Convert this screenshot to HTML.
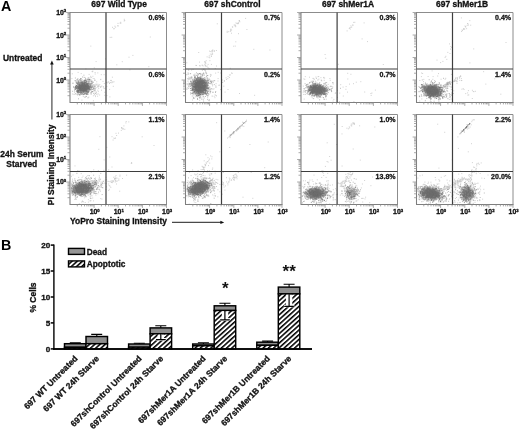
<!DOCTYPE html>
<html><head><meta charset="utf-8"><title>Figure</title>
<style>html,body{margin:0;padding:0;background:#fff}body{width:520px;height:429px;overflow:hidden}svg{display:block;filter:grayscale(1)}text{font-family:"Liberation Sans", sans-serif;font-weight:bold;fill:#111}.t{font-size:8.45px;stroke:#111;stroke-width:.3px}.pc{font-size:7.05px;fill:#161616;stroke:#161616;stroke-width:.3px}.tk{font-size:6.9px;fill:#111;stroke:#111;stroke-width:.3px}.big{font-size:14.3px;fill:#000}.xl{font-size:8.5px;stroke:#111;stroke-width:.3px}.lg{font-size:8.3px;stroke:#111;stroke-width:.3px}</style></head><body>
<svg width="520" height="429" viewBox="0 0 520 429">
<defs>
<radialGradient id="rg"><stop offset="0" stop-color="#5e5e5e" stop-opacity="1"/><stop offset=".45" stop-color="#5e5e5e" stop-opacity=".92"/><stop offset=".75" stop-color="#5e5e5e" stop-opacity=".4"/><stop offset="1" stop-color="#5e5e5e" stop-opacity="0"/></radialGradient>
<pattern id="hat" width="3.5" height="3.5" patternUnits="userSpaceOnUse" patternTransform="rotate(-42)"><rect width="3.5" height="3.5" fill="#fff"/><rect width="3.5" height="1.55" fill="#000"/></pattern>
</defs>
<rect width="520" height="429" fill="#fff"/>
<text x="0.9" y="10.7" class="big">A</text>
<text x="0.9" y="249.7" class="big">B</text>
<text x="119.1" y="7.2" text-anchor="middle" class="t">697 Wild Type</text>
<text x="232.5" y="7.2" text-anchor="middle" class="t">697 shControl</text>
<text x="348" y="7.2" text-anchor="middle" class="t">697 shMer1A</text>
<text x="462.1" y="7.2" text-anchor="middle" class="t">697 shMer1B</text>
<text x="22.7" y="60.6" text-anchor="middle" class="t">Untreated</text>
<text x="21.9" y="156.8" text-anchor="middle" class="t">24h Serum</text>
<text x="21.8" y="167.2" text-anchor="middle" class="t">Starved</text>
<text transform="translate(53.6 205.2) rotate(-90)" class="t">PI Staining Intensity</text>
<path d="M51.9 119.5V63" stroke="#4a4a4a" stroke-width="1.2" fill="none"/>
<path d="M51.9 60.6L50.1 64.6H53.7Z" fill="#111"/>
<text x="70" y="224.4" class="t">YoPro Staining Intensity</text>
<path d="M172 222.4H221.5" stroke="#4a4a4a" stroke-width="1.2" fill="none"/>
<path d="M224.2 222.4L220.4 220.7V224.1Z" fill="#111"/>
<ellipse cx="83.3" cy="87.5" rx="8.3" ry="6.6" transform="rotate(-8 83.3 87.5)" fill="url(#rg)" opacity="1.0"/>
<path d="M87.1 84.4h.01M99.8 84.6h.01M88.6 82.6h.01M83.9 96.6h.01M97.6 96.2h.01M84.6 86h.01M81.1 93.2h.01M76.4 91h.01M98.2 93.9h.01M80.7 94.1h.01M80.8 81h.01M77.5 95h.01M100.8 79.3h.01M80.8 84h.01M109.6 89.4h.01M81.2 73.6h.01M83 94.5h.01M103 81.4h.01M81.2 82.7h.01M72.6 94h.01M79.4 94.1h.01M71.9 78.6h.01M89.2 79.8h.01M94.1 84.6h.01M78.3 91.1h.01M92.8 71.1h.01M103.4 86.7h.01M92.1 71.6h.01M81.2 83.8h.01M95.2 74h.01M78.1 72.4h.01M85.9 88.1h.01M72.8 83.3h.01M93.4 95.8h.01M92.8 82.5h.01M76.7 80.3h.01M82.1 87.2h.01M88.8 97.1h.01M88.9 77.6h.01M101.5 90.2h.01M87.7 80.3h.01M94.4 78.8h.01M76.6 88.3h.01M90.2 89.3h.01M94.4 94.4h.01M81.4 93.2h.01M79.9 91.4h.01M89.3 86.9h.01M95.7 84.2h.01M97.8 90.2h.01M88.1 81.3h.01M80.7 82.6h.01M85.8 85.5h.01M113.3 86.3h.01M93.2 78.5h.01M81.3 84h.01M88.2 78h.01M100.6 79.6h.01M94.3 67.9h.01M87.8 87.4h.01M89.7 89.4h.01M90.1 86.2h.01M89.9 83.7h.01M80.1 82.3h.01M104.8 95.3h.01M88.3 94.4h.01M72.3 73.8h.01M82.6 79.9h.01M83 87.4h.01M112.4 77.2h.01M88.2 87.3h.01M88.2 91.9h.01M101.3 74.7h.01M88.7 83.4h.01M89.1 74.4h.01M92.2 86.1h.01M85.9 68.9h.01M83.7 80.6h.01M74.8 80.7h.01M94 88.4h.01M87.9 89h.01M82.5 86.6h.01M88.4 89.2h.01M86.8 84.5h.01M85.8 81.1h.01M106.9 86.4h.01M93.4 100.8h.01M97.8 72.9h.01M94.2 90.4h.01M104.7 92.3h.01M92.9 76.3h.01M80.5 88.3h.01M90.8 77.7h.01M83.9 83.1h.01M88.4 87.7h.01M83.9 77.2h.01M99.6 95h.01M87.7 92.7h.01M91.9 89.5h.01M90.9 79.5h.01M93.4 91.8h.01M81.9 100.1h.01M106.9 95.6h.01M105 88.2h.01M84.1 81.6h.01M80.8 87.2h.01M87.9 90.1h.01M106.7 82.5h.01M93.7 87.9h.01M89.6 83.6h.01M85.7 79.8h.01M89 85h.01M89.4 79.1h.01M87.9 85.7h.01M91.6 77.3h.01M92 91.8h.01M92.2 82.2h.01M83.2 84.4h.01M95.2 95.4h.01M85.6 81.1h.01M90.9 86.4h.01M79.2 81.4h.01M87.4 90.2h.01M76.5 79.8h.01M90.6 76.3h.01M88.8 87.7h.01M85.6 78.5h.01M86.7 83.2h.01M89.6 79.2h.01M95.1 72.5h.01M86.1 85.7h.01M95 80.1h.01M91.6 80.8h.01M95.5 96.6h.01M84.6 89h.01M80.7 93.3h.01M97.8 84.2h.01M78.4 89.6h.01M98.3 91.6h.01M92.6 71.7h.01M83.2 96.1h.01M78.3 94.7h.01M104.1 88.5h.01M96.7 81.8h.01M77.1 86.2h.01M98.7 88.4h.01M94.7 86.5h.01M94.2 86.8h.01M101.8 86h.01M92.5 87.6h.01M94.4 87.1h.01M92.1 85.3h.01M98.2 85.1h.01M100.6 87.3h.01M100.7 86.9h.01M92.6 87.2h.01M98.1 86.7h.01M95.4 86.9h.01M93.7 87h.01M99.1 86.2h.01M98.8 85.4h.01M101 86.6h.01M103.4 87.1h.01M96.5 84.3h.01M98.4 86.8h.01M96.9 87.6h.01M96 85.4h.01M109.6 83.3h.01M104.3 83.5h.01M111 80.3h.01M111 80.6h.01M111.8 82.8h.01M114 81.8h.01M109.5 83.4h.01M108.2 81.7h.01M108.8 82.3h.01M107.3 82.9h.01M110.6 82.5h.01M112.9 82.1h.01M112.1 81.9h.01M111 80.5h.01M124.2 21h.01M115.6 27.2h.01M120.7 22.3h.01M124.7 20.5h.01M120.1 23.1h.01M118.3 25.9h.01M124.3 19.3h.01M120.8 23.3h.01M112.5 27.3h.01M118 23.4h.01M114.9 26.2h.01M114.1 28.4h.01M113.9 28.9h.01M117.6 25.8h.01M110.2 37.4h.01M96.1 61.6h.01M148.8 66.7h.01M129.9 69.9h.01M104.1 74.7h.01M122.3 61.7h.01M132.9 55.4h.01M111.7 37.3h.01M105.5 58.9h.01M116.8 64.8h.01M90.8 46.1h.01M150.3 37h.01M129 57.2h.01M109.9 96.9h.01" stroke="#c6c6c6" stroke-width="0.8" stroke-linecap="square" fill="none"/>
<path d="M86.3 92.6h.01M81.1 86.1h.01M79.6 84.4h.01M93.8 93.5h.01M84.9 89.6h.01M91.2 89.7h.01M90.1 80.9h.01M81.2 89.6h.01M92.2 86.5h.01M79.6 86.3h.01M80.3 84h.01M92.1 83.4h.01M85.8 96.4h.01M91 87.7h.01M81.4 89.4h.01M93.5 88.6h.01M91.3 86.6h.01M87.1 85.9h.01M87.5 92.4h.01M76.7 88h.01M85.4 84.5h.01M83.2 90.8h.01M95.6 88.3h.01M85.2 80.3h.01M94.8 86h.01M83.5 82.4h.01M83.4 82.5h.01M85.1 89.1h.01M84.7 88.3h.01M80.7 93.9h.01M79.8 79.9h.01M82.9 84h.01M78.7 86.4h.01M85.3 81.9h.01M84.5 93.4h.01M88 86h.01M85 86.6h.01M84.6 90.3h.01M82.5 77h.01M83.7 83.4h.01M87.5 84.1h.01M86.5 96.4h.01M78.1 83.2h.01M75.4 78h.01M74.5 90.2h.01M79.8 79.7h.01M76.8 90.9h.01M80 86.2h.01M87 92.7h.01M95.5 90.1h.01M85.3 87.8h.01M95 91.9h.01M83 89.4h.01M86 87.2h.01M80.9 81.9h.01M80.6 81h.01M91.3 88.5h.01M78.7 94.1h.01M88.1 78.3h.01M94.8 89.2h.01M94.8 80.3h.01M87.5 88.6h.01M85.6 87.7h.01M89.2 80h.01M76.9 82.1h.01M81 85h.01M86.5 88h.01M84.2 84.3h.01M82.6 91.6h.01M88.6 87h.01M83.6 94.1h.01M81.6 90.4h.01M90.5 85.2h.01M88.2 81.8h.01M90 87.3h.01M76.3 91.2h.01M80.4 93.3h.01M80.6 87h.01M85.7 85.5h.01M85.5 84.6h.01M88 86.7h.01M83.9 75.2h.01M90.7 86.4h.01M74.9 88.9h.01M87.6 91.4h.01M79.5 94.6h.01M85 97.5h.01M84 90.2h.01M81.8 82.7h.01M90.9 90.2h.01M93.2 89.7h.01M80.3 80.5h.01M80.5 84.8h.01M80.4 90.3h.01M86 85.8h.01M85.2 86.4h.01M86 90.2h.01M89.2 83.5h.01M77.1 94.4h.01M85.7 91.8h.01M75.4 87h.01M83.7 81h.01M82.1 90.7h.01M91.2 93.2h.01M78.9 81.8h.01M87.8 90.8h.01M84.7 81.5h.01M89.1 90h.01M87.1 84.7h.01M86.5 90.3h.01M80.3 79.7h.01M86.5 89h.01M85 91h.01M81.2 87.3h.01M83.1 89.8h.01M92.8 84.9h.01M96.4 92.2h.01M89 89.1h.01M93.8 85.1h.01M83.2 82.7h.01M87.8 92.6h.01M87.5 88.6h.01M83.4 88h.01M77.4 92.7h.01M81.5 82.8h.01M79.9 84.2h.01M89.6 91h.01M77.6 92.2h.01M88.8 84h.01M75.9 85.1h.01M81.2 89.1h.01M81.3 78.8h.01M84.7 80.4h.01M88.6 81.3h.01M80.2 84h.01M82.3 93.1h.01M89.4 89.1h.01M85.2 80.3h.01M81.3 85.2h.01M79.4 90.1h.01M80 84.7h.01M77.5 79.2h.01M88.4 92.4h.01M84.8 82.9h.01M91.1 87.5h.01M90.3 92.8h.01M90.2 84.4h.01M90.5 89.7h.01M75.9 86.6h.01M76.7 87.8h.01M86.9 82.2h.01M74.1 94.3h.01M87.3 93.2h.01M77.9 92.7h.01M96.8 94.2h.01M83.4 88.5h.01M84.2 91.6h.01M90 86.8h.01M77.5 91.4h.01M82.2 90.2h.01M86.8 93.9h.01M90.3 84.4h.01M87.3 94.5h.01M81.8 89.4h.01M91.6 91.6h.01M86.4 81.1h.01M77.8 89.2h.01M88 97.8h.01M80.4 92.7h.01M87.5 79.4h.01M80.1 88.5h.01M81.6 86.9h.01M86.4 83.4h.01M86.5 84.1h.01M81.8 89.9h.01M81.5 88.8h.01M93 86.1h.01M84.1 90.4h.01M83.1 92.1h.01M77.9 90.8h.01M81.2 84.1h.01M93.4 82.2h.01M94.3 88.7h.01M91.6 81.9h.01M91.7 92.5h.01M83.7 86.7h.01M97.7 86.1h.01M81.7 84.8h.01M87 88.2h.01M86.4 94.4h.01M82.9 89.4h.01M91.7 81.8h.01M91.1 94.2h.01M76.4 83.5h.01M77.7 80.1h.01M85.7 78.9h.01M88 93h.01M75.5 87h.01M74.5 92h.01M80.3 86.6h.01M85 89.5h.01M82.5 87.5h.01M81.5 88.1h.01M78.1 88.3h.01M73.7 86.5h.01M94.8 86.1h.01M77.8 89.2h.01M78.2 80.8h.01M80.9 90.9h.01M86.4 86.5h.01M78.8 83.3h.01M91.8 87.2h.01M78 78.9h.01M78.5 98.8h.01M78.2 87.7h.01M85.4 86.3h.01M82.1 81.5h.01M79.8 95.2h.01M80.8 91.4h.01M75.1 87.3h.01M86.4 91.4h.01M78.7 90.6h.01M86 83.7h.01M86.4 83h.01M80.1 87.7h.01M78.1 81.7h.01M82.6 90.8h.01M83 92.9h.01M77.4 82.4h.01M93 87.7h.01M89 82.9h.01M88.9 87.7h.01M87.9 86.8h.01M90.5 83.5h.01M78.3 81.6h.01M90.2 83.1h.01M78.2 83.9h.01M81.2 82.1h.01M82.5 84.7h.01M80.9 83.5h.01M84.3 85.2h.01M85.2 88.1h.01M84.9 77.5h.01M81 84.2h.01M87.6 79.8h.01M80.4 86.5h.01M83.2 91.7h.01M82.6 91.6h.01M75.4 80.5h.01M91.2 88.1h.01M87.1 87.3h.01M86.3 81.6h.01M89.2 84.2h.01M89.8 86.8h.01M73 83.2h.01M90.4 85.7h.01M82.4 88.5h.01M81.8 85.2h.01M85 87.7h.01M92.6 86.2h.01M95.6 93.5h.01M94.3 90.4h.01M85.2 87.7h.01M83.2 84.2h.01M83.7 84.5h.01M93.6 88.2h.01M80.8 79.3h.01M83.9 85.4h.01M77.9 83.1h.01M72.6 91.3h.01" stroke="#9c9c9c" stroke-width="0.66" stroke-linecap="square" fill="none"/>
<path d="M82.6 89h.01M82.4 86.8h.01M80.1 87.4h.01M87.2 88.1h.01M86.9 87.7h.01M84.7 87.8h.01M78 90.6h.01M85.2 88.6h.01M77 83.6h.01M80.1 86.7h.01M84.3 87.2h.01M84.8 85.5h.01M84.5 88.4h.01M81.7 92.4h.01M85.6 90.4h.01M80.9 85.8h.01M82.1 87.4h.01M85.5 87.9h.01M81.4 85.2h.01M82 91h.01M80.7 88.5h.01M84.2 83.3h.01M84 91h.01M76.4 87.6h.01M82.6 85.4h.01M85 87.1h.01M78.7 90.4h.01M85.9 89.7h.01M88.3 87.8h.01M83.2 84h.01M85.1 85.6h.01M81.3 84.3h.01M79.8 86.5h.01M86.9 81.5h.01M78.5 88.8h.01M88.4 88.4h.01M76 81.7h.01M84.2 85.4h.01M79.9 90.6h.01M87.1 87.4h.01M84.3 88.5h.01M88.9 88.4h.01M85.3 88.7h.01M78.5 91.7h.01M86.7 88.5h.01M76.4 86.7h.01M85.5 82.3h.01M83.1 90.3h.01M79.5 92.4h.01M85.1 86.8h.01M84.6 89.1h.01M84.1 90.5h.01M80.9 86.7h.01M86.8 87.1h.01M80.7 90.4h.01M88.1 85.6h.01M78.6 87.8h.01M82.7 86.8h.01M87.6 84.1h.01M87.1 83.5h.01M80.9 89.6h.01M87.4 89.3h.01M84.5 87.7h.01M84 89h.01M82.8 88.3h.01M85.2 87.2h.01M86.1 88.7h.01M90.2 87.4h.01M81.7 86.7h.01M83.6 90h.01M82.3 88.7h.01M88.5 79.8h.01M79.6 88.7h.01M84.7 87.9h.01M82.1 89.5h.01M84.1 86h.01M91.6 87.3h.01M81.4 87.5h.01M82.5 87.4h.01M73.9 87.5h.01M86.3 83.9h.01M83.4 90.1h.01M86.7 91.1h.01M77.4 87.4h.01M82.4 89.3h.01M86 79.8h.01M86.4 83.1h.01M85 83.2h.01M84.3 90.6h.01M82.9 88.1h.01M86 87.5h.01M83.6 91.6h.01M86.7 86.2h.01M92.1 83.1h.01M86.3 86.4h.01M84 89.3h.01M84.3 89.1h.01M77.6 84.2h.01M85 84.6h.01M79.3 84.1h.01M87.8 88.9h.01M87.9 84.3h.01M82.9 84.5h.01M86.5 91.4h.01M80.9 92.1h.01M86.6 86.6h.01M77.2 92.2h.01M82.7 85.9h.01M84.8 88.4h.01M88 84.1h.01M87.7 90.9h.01M88.1 86.3h.01M81.2 90.6h.01M83.7 87.8h.01M88 86.1h.01M75.4 87.6h.01M77.4 90.6h.01M84.1 85.7h.01M83.6 89.7h.01M84.1 91h.01M83.5 90.3h.01M88.9 91.1h.01M81.4 90.2h.01M76.6 85.5h.01M77.1 91.3h.01M79.1 88h.01M82.6 87.5h.01M81.4 88.4h.01M89.3 86.8h.01M85.5 89.9h.01M82.2 84.2h.01M81.8 90.6h.01M77.5 86.7h.01M87 89.1h.01M83.6 89.6h.01M83.4 84.3h.01M77.8 86.5h.01M86.2 85.6h.01M80 85.9h.01M78.1 87.9h.01M79.5 89h.01M75.5 89.5h.01M80.4 82.6h.01M85.6 86.4h.01M75.5 86.2h.01M84.1 86.1h.01M86.2 89.1h.01M85.7 88.1h.01M88 88.6h.01M84 81.7h.01M86.8 90.6h.01M82.1 86.4h.01M89.2 81.9h.01M85.8 93.8h.01M80.4 89.8h.01M89.6 86.3h.01M85.5 89.6h.01M80.2 87.7h.01M84.6 89.6h.01M83.1 87h.01M79.7 87h.01M86.3 87.4h.01M80.1 85.7h.01M92.7 89.3h.01M84.5 80.3h.01M85.6 88.5h.01M89.1 87.8h.01M83.3 88.9h.01M77.1 91.2h.01M84.1 85.5h.01M88.4 91.7h.01M78.3 86.4h.01M84.3 87.9h.01M81.6 85.1h.01M90.8 89.3h.01M78.8 84.5h.01M89.4 89.3h.01M89.7 88.8h.01M80.5 88.6h.01M75.7 86.5h.01M83.3 88.9h.01M80.8 87.5h.01M85 88.3h.01M85.5 87.8h.01M82.5 89.8h.01M83.2 85.3h.01M81.2 87.8h.01M83 88h.01M83.4 88h.01M82.4 84.2h.01M85.1 90.1h.01M84.7 86.8h.01M84.4 84.7h.01M76.9 88.6h.01M80.4 89.9h.01M78.7 81h.01M80.4 92.2h.01M81.5 84h.01M80.9 89.3h.01M85 87.7h.01M88.6 88.7h.01M83.5 89.1h.01M89.2 89.3h.01M86.3 84.1h.01M83.1 89.5h.01M82.7 90.5h.01M85.6 89.6h.01M83.5 94.4h.01M87.4 86.3h.01M84.6 94.4h.01M82.5 90h.01M86.6 87.1h.01M79.4 88.6h.01M84.9 90.4h.01M85.9 87.2h.01M86.4 88.5h.01M84 87.6h.01M82.7 89.4h.01M79.5 86.3h.01M82.8 83.6h.01M81.1 82.3h.01M81.2 89.3h.01M85.2 87.1h.01M82 83.8h.01M89.6 88h.01M86.7 84.6h.01M82 82.7h.01M86.3 89.6h.01M76.9 88.3h.01M84.8 82.5h.01M76.8 85.5h.01M80.7 84h.01M83.5 88.2h.01M85.7 89.1h.01M88.8 89.9h.01M78.7 86.8h.01M79.3 85.1h.01M83 87.6h.01M84.4 83h.01M79.1 88h.01M82.5 86.8h.01M82.8 85.5h.01M85.8 88.1h.01M82.8 85.7h.01M81.7 80.3h.01M80 88.1h.01M78.3 88.7h.01M83.3 83.7h.01M82.3 86.8h.01M85.1 88.9h.01M82.9 85.2h.01M82.8 87.4h.01M85.9 87.9h.01M80.4 84.2h.01M81.8 85.7h.01M79.5 87.7h.01M81.7 88h.01M84.9 86.1h.01M91 85.5h.01M87.1 87.3h.01M86.2 80.6h.01M80.9 88.5h.01M86.2 93.5h.01M84.9 90.8h.01M86.2 89.7h.01M85 86.8h.01M84.6 84.4h.01M86.9 84.2h.01M84.9 93.1h.01M82.6 87.7h.01M87.2 87h.01M80.7 88.6h.01M85.5 89.1h.01M81.4 92.6h.01M88.9 86.8h.01M84 86.2h.01M87.8 84.9h.01M85.4 85.9h.01M81.2 89.7h.01M87.8 86.8h.01M81.3 90h.01M83.3 88.4h.01M88.9 89.8h.01M82.4 93.9h.01M83.6 89.6h.01M81.1 87.7h.01M78.1 93.1h.01M87.4 83.6h.01M77.6 83.9h.01M87.1 85.7h.01M83 86.7h.01M82.5 84.6h.01M82.8 83.6h.01M83.2 88.4h.01M84.8 86.7h.01M80.3 88.4h.01M82.3 91.9h.01M85.8 86.8h.01M81.4 85.8h.01M80 87h.01M84.5 88.7h.01M86 92.8h.01M80.9 87.9h.01M92 81.2h.01M81.6 88.2h.01M84 88.5h.01M82.6 88.6h.01M83.8 89.5h.01M76.6 86h.01M82.9 84.7h.01M80 89.7h.01M81.4 89.5h.01M85.9 88h.01M85 87h.01M78.5 88.1h.01M84.6 85.9h.01M83.2 89.6h.01M80.6 89.6h.01M89.4 85.1h.01M83.7 87h.01M88.6 87.6h.01M86.1 85.2h.01M83.2 87.5h.01M77.9 92.2h.01M85.7 82.4h.01M85.8 86.8h.01M84.9 88.3h.01M78.2 87.6h.01M88.1 85.3h.01M79.3 84.3h.01M79.3 89h.01M89.2 87.8h.01M85 93.4h.01M81.3 85.9h.01M85.3 88.7h.01M79.4 84.9h.01M84.4 88h.01M78.8 87.6h.01M81.6 89h.01M82.9 87.3h.01M82.5 90.5h.01M87.8 85.9h.01M85.9 85.1h.01M83.8 89.5h.01M88.3 85.8h.01M83.1 88.1h.01M78.3 88.3h.01M81.2 88.8h.01M78.8 82.7h.01M83.5 88.2h.01M81.8 90.1h.01M82.2 86h.01M84.3 83.1h.01M81 87.8h.01M86.1 86.7h.01M84.1 85.6h.01M84.9 91.8h.01M81.9 94.2h.01M81.1 87.9h.01M84.3 90.2h.01M78.3 82.5h.01M85.6 89.3h.01M86.4 94.2h.01M84.1 88.1h.01M86.6 88h.01M88.4 83.4h.01M80.7 78.5h.01M85.9 86.1h.01M87.2 92.8h.01M83.2 86.8h.01M81.3 85.5h.01M81.4 89.5h.01M83.4 87.7h.01M83.1 90h.01M84.9 86.9h.01M85.5 86.8h.01M80 91.9h.01M84.5 84.7h.01M87.1 87.9h.01M78.6 92.5h.01M84.8 89.7h.01M83.9 87h.01M78.5 90.8h.01M83.3 86.7h.01M84.5 87.5h.01M85.4 86.2h.01M82.4 81.8h.01M82.1 89.5h.01M87.7 85.9h.01M83.5 91.8h.01M82.5 89.6h.01M89 86.8h.01M87.2 85h.01M84 87.2h.01M84.1 90.5h.01M91.1 84.6h.01M81.6 89.1h.01M79.9 89.3h.01M85.1 86.5h.01M84.5 83.1h.01M85.3 83h.01M80.7 86.3h.01M82.3 90h.01M83.4 86.4h.01M85.7 91.5h.01M83.5 88.5h.01M87.6 87.6h.01M79.9 94.8h.01M90 81.1h.01M83.3 88.6h.01M86.8 88.8h.01M82 84.8h.01M84 90.2h.01M79.2 85.3h.01M82.5 82.3h.01M82.3 86.5h.01M84.6 85.4h.01M80.2 86.9h.01M82.9 85.7h.01M83.6 89.5h.01M87.9 91.5h.01M80.5 86.7h.01M75.7 93.8h.01M80.8 87.8h.01M84.5 83.6h.01M84.9 87.2h.01M77.3 89.1h.01M86.6 81.9h.01M86.1 87.7h.01M85.1 88.5h.01M87.6 86.3h.01M86.1 86h.01M85.4 85h.01M83.6 92.2h.01M84.7 86.9h.01M79.1 85.9h.01M84.3 89.9h.01M84.9 88.7h.01M83.7 91.1h.01M81.8 86.2h.01M86.3 87.2h.01M82.1 86.1h.01M82.7 89.3h.01M84 84.1h.01M84.8 87.8h.01M80.2 90h.01M82.2 86.7h.01M86.5 90.7h.01M81.1 89h.01M81.2 94.1h.01M82.1 90.9h.01M81.4 90h.01M89.8 79.7h.01M82 89h.01M82.7 85.8h.01M90.6 86.7h.01M78.1 90.6h.01M77.9 91.4h.01M81.4 88.2h.01M87.6 87.2h.01M78 83.6h.01M87.6 88.9h.01M80.9 90.2h.01M85.2 89h.01M75.6 87.8h.01M86.6 89h.01M85.3 80.5h.01M84.1 88.7h.01M91.5 83.7h.01M82.2 87.8h.01M86.1 85.9h.01M86.9 84.9h.01M84 86h.01M83.6 85.6h.01M78.3 91.2h.01M84.1 85.9h.01M84.3 90.1h.01M80 87.7h.01M85.3 88.7h.01M81.4 82h.01M87.6 87.8h.01M83.2 86.7h.01M84 86.2h.01M79.6 86h.01M81.1 86.1h.01M79.6 89.7h.01M79.1 89.9h.01M80 88.9h.01M88 87.4h.01M80.9 88h.01M83.1 82.8h.01M81.3 88.2h.01M81.8 87.9h.01M86.1 89.2h.01M86.6 88.6h.01M82.3 87.6h.01M82.3 86.8h.01M82 83h.01M82.2 87.6h.01M80 87.9h.01M85 86.8h.01M89.3 79.5h.01M81.9 82.7h.01M87.6 94.1h.01M74.9 89h.01M84.9 86.4h.01M84.3 81.2h.01M86.3 88.1h.01M83.2 85.9h.01M85.3 85.9h.01M83.9 86h.01M75.7 88.5h.01M84.3 89.4h.01M80.3 87.8h.01M85.4 87.6h.01M88.2 92.2h.01M79.5 82.8h.01M86.8 91.2h.01M86.7 89.2h.01M80.9 85.9h.01M85.9 84.6h.01M76.8 85.7h.01M92.4 91.5h.01M80.7 85.9h.01M83.8 85.4h.01M87.7 86.7h.01M80.1 91.5h.01M81.4 88.4h.01M83.1 86.7h.01M84.1 85.5h.01M76.3 82.5h.01M78.8 86.1h.01M83.2 87.7h.01M85.2 87.6h.01M80.4 86h.01M76.1 88.1h.01M85.1 88.7h.01M82.8 87.1h.01M86.5 87.1h.01M86 88.7h.01" stroke="#6e6e6e" stroke-width="0.62" stroke-linecap="square" fill="none"/>
<path d="M70 12.5H166.5V102.5" stroke="#8c8c8c" stroke-width="1" fill="none"/>
<path d="M70 12V102.5H167" stroke="#7e7e7e" stroke-width="1.05" fill="none"/>
<path d="M70 95.7h-2.5M70 91.8h-2.5M70 89h-2.5M70 86.8h-2.5M70 85h-2.5M70 83.5h-2.5M70 82.2h-2.5M70 81h-2.5M70 80h-3.9M70 73.2h-2.5M70 69.3h-2.5M70 66.5h-2.5M70 64.3h-2.5M70 62.5h-2.5M70 61h-2.5M70 59.7h-2.5M70 58.5h-2.5M70 57.5h-3.9M70 50.7h-2.5M70 46.8h-2.5M70 44h-2.5M70 41.8h-2.5M70 40h-2.5M70 38.5h-2.5M70 37.2h-2.5M70 36h-2.5M70 35h-3.9M70 28.2h-2.5M70 24.3h-2.5M70 21.5h-2.5M70 19.3h-2.5M70 17.5h-2.5M70 16h-2.5M70 14.7h-2.5M70 13.5h-2.5M70 12.5h-3.9M77.3 102.5v1.9M81.5 102.5v1.9M84.5 102.5v1.9M86.9 102.5v1.9M88.8 102.5v1.9M90.4 102.5v1.9M91.8 102.5v1.9M93 102.5v1.9M94.1 102.5v3.4M101.4 102.5v1.9M105.6 102.5v1.9M108.6 102.5v1.9M111 102.5v1.9M112.9 102.5v1.9M114.5 102.5v1.9M115.9 102.5v1.9M117.1 102.5v1.9M118.2 102.5v3.4M125.5 102.5v1.9M129.8 102.5v1.9M132.8 102.5v1.9M135.1 102.5v1.9M137 102.5v1.9M138.6 102.5v1.9M140 102.5v1.9M141.3 102.5v1.9M142.4 102.5v3.4M149.6 102.5v1.9M153.9 102.5v1.9M156.9 102.5v1.9M159.2 102.5v1.9M161.1 102.5v1.9M162.8 102.5v1.9M164.2 102.5v1.9M165.4 102.5v1.9M166.5 102.5v3.4" stroke="#8e8e8e" stroke-width=".75" fill="none"/>
<path d="M106.0 12.5V102.5M70 69.0H166.5" stroke="#3e3e3e" stroke-width="1.2" fill="none"/>
<text x="164.6" y="20.4" text-anchor="end" class="pc">0.6%</text>
<text x="164.6" y="76.6" text-anchor="end" class="pc">0.6%</text>
<ellipse cx="199.9" cy="86.1" rx="9.6" ry="10" transform="rotate(-25 199.9 86.1)" fill="url(#rg)" opacity="1.0"/>
<path d="M218.2 72.3h.01M195.8 94.6h.01M205.3 65.9h.01M192.2 77.8h.01M209.8 87h.01M191.2 76.7h.01M199.5 62.1h.01M207.6 80.4h.01M223.8 86.2h.01M196.4 84.2h.01M197 78.7h.01M207.6 93.4h.01M188.5 88.5h.01M219 85.5h.01M192 80.1h.01M188.1 72.7h.01M213 80.5h.01M190.2 73.7h.01M197 81.2h.01M215.6 73.1h.01M208.4 94.2h.01M207.7 80.1h.01M205.9 77.9h.01M197.6 75.8h.01M188.3 74h.01M209.3 87.4h.01M207.6 91.2h.01M207.8 83.5h.01M197.6 93.7h.01M215.8 85.7h.01M211.4 75h.01M199.7 100.3h.01M198.7 89.2h.01M201.1 85.5h.01M197.9 80.5h.01M195.9 65.4h.01M189.8 77.5h.01M214.9 97.7h.01M203.8 92.5h.01M202.4 70.3h.01M205.8 63.6h.01M196.1 83.4h.01M214.1 80.5h.01M198 77.4h.01M203.6 84.5h.01M215.1 94.8h.01M209.1 81.7h.01M208.4 100.3h.01M204.3 83.5h.01M225.1 92.1h.01M207.1 81.2h.01M201.9 97.2h.01M203 95.4h.01M196.3 88.6h.01M206.8 84.2h.01M206.4 87.2h.01M188.1 78.5h.01M197.5 76.2h.01M197.1 87.5h.01M210.4 74.4h.01M208.3 84h.01M195.4 77h.01M198.2 78.3h.01M199.5 65.7h.01M215.7 87.1h.01M214.2 96.3h.01M200.3 65.9h.01M205.1 88.5h.01M191.8 76.6h.01M208.6 87.6h.01M197.9 83.9h.01M195.8 81.2h.01M206.9 94.9h.01M187.3 87.8h.01M218 81h.01M207.7 91.8h.01M188.7 77.1h.01M208.5 91.5h.01M196.1 79.8h.01M208.8 88.7h.01M196.5 65.5h.01M186.8 62.8h.01M201 75.5h.01M203.6 101.3h.01M216.1 83.7h.01M205.8 85h.01M197.4 86.4h.01M215.3 68.6h.01M197.7 88.7h.01M214 88.8h.01M193.8 87.2h.01M195 74h.01M201.2 79.7h.01M212.5 84.9h.01M196.3 88.4h.01M196.8 80h.01M203.1 96.5h.01M191.6 70h.01M199.5 95.2h.01M216.5 66h.01M198.2 82.8h.01M192.3 93.9h.01M203.4 87.3h.01M220.7 73h.01M213.1 89.2h.01M194.6 81.5h.01M219.2 85h.01M199.1 73.7h.01M212.6 85.9h.01M228 89.5h.01M210.7 83.8h.01M200.8 79.1h.01M206.4 85.6h.01M213 92.1h.01M203 78.2h.01M216.4 95.9h.01M197.3 91.8h.01M209.7 87.3h.01M206.6 81.6h.01M209.2 100.8h.01M211.4 64.4h.01M194.6 82.3h.01M190.5 94.2h.01M199.8 79.7h.01M220.5 89.6h.01M202 92.3h.01M207.4 95.5h.01M207.5 81.8h.01M204.3 75.5h.01M216 95.5h.01M202 91.2h.01M192.5 100h.01M205.7 71.4h.01M218.1 78.6h.01M209 78.4h.01M205.3 65.5h.01M206.1 94.1h.01M199.8 93.6h.01M201.1 89.2h.01M195.4 96.8h.01M209 68.7h.01M198.7 52.5h.01M193.1 69.4h.01M202.1 76.5h.01M194.2 78.9h.01M203.1 78.9h.01M193.9 86h.01M202.4 74.8h.01M204.9 64.5h.01M204.5 79.2h.01M212.7 50.5h.01M207.1 56.9h.01M203.3 74.2h.01M205.6 62.4h.01M206.1 66.3h.01M209.5 51.1h.01M203.5 69.1h.01M203.6 72.7h.01M208 67.6h.01M204.6 69.2h.01M204.5 74.1h.01M204.9 70.2h.01M204.9 61.9h.01M214.5 50.8h.01M203.1 65.9h.01M204.9 61.6h.01M212.2 51.4h.01M210.7 51.6h.01M209.9 60.7h.01M212.6 53.9h.01M206.2 60.7h.01M212.2 52.1h.01M209.8 57.8h.01M207.2 66.1h.01M212.8 49.9h.01M211.8 50.8h.01M200.6 73.4h.01M209.3 55.9h.01M208.1 64.4h.01M212.3 54h.01M210.3 54.1h.01M211.2 55.9h.01M211.7 54.3h.01M216.4 50.5h.01M205 62.9h.01M214.2 51.4h.01M203.5 69.5h.01M211.5 56.4h.01M202.1 69.3h.01M209 57.3h.01M231.5 33.2h.01M234.2 25h.01M238.3 23h.01M235.7 26.7h.01M237.7 23.3h.01M239.2 20.5h.01M230.8 30.8h.01M239.3 21.3h.01M239.8 21.8h.01M239.5 20.6h.01M235.2 26.1h.01M238.5 23h.01M232.7 27.1h.01M230.9 29.1h.01M232.4 26.9h.01M228.7 31.7h.01M227.2 32.4h.01M237.9 23.8h.01M230.6 29.8h.01M230.4 31.2h.01M235.6 25.3h.01M234.9 25.1h.01M236.9 23.5h.01M236 22.9h.01M231.6 30h.01M227.2 31.3h.01M231.5 73h.01M222.4 82.4h.01M230 74.7h.01M226.1 77.8h.01M229.4 77.5h.01M229.9 75.2h.01M224.4 80.6h.01M226.5 79.4h.01M228.1 76.5h.01M224.4 81.3h.01M222.7 82.4h.01M227.8 78.7h.01M222.5 80h.01M232.3 73.3h.01M239.5 93.5h.01M238.5 33.7h.01M246.9 29.5h.01M217.3 23.8h.01M254.6 95.3h.01M233.7 46.2h.01M235.3 46.1h.01M253.8 49.3h.01M216.2 87h.01M245.6 18.4h.01M265 76.2h.01M230.3 68.3h.01M269.9 50h.01M235.8 41.8h.01" stroke="#c6c6c6" stroke-width="0.8" stroke-linecap="square" fill="none"/>
<path d="M193.6 80.9h.01M196.4 93.2h.01M204.1 98.1h.01M197.8 73.7h.01M208.7 90.9h.01M197.3 78.9h.01M206.6 73.8h.01M194.8 75.1h.01M188.9 79.3h.01M209.6 90h.01M194.5 79.1h.01M201.1 88.3h.01M188.9 83.2h.01M201.7 90.3h.01M202 88.4h.01M186.8 74.7h.01M199.6 79.8h.01M198.7 84.1h.01M201 80.2h.01M208.4 82.4h.01M205 88.2h.01M207.2 85.6h.01M189 86.8h.01M212 83.9h.01M204.8 87.2h.01M195 83.7h.01M200 94.3h.01M207.2 95.4h.01M208.3 95.7h.01M199.7 77.9h.01M210.9 83.4h.01M207.6 84.1h.01M199 87.8h.01M190.9 81.9h.01M194.1 85.2h.01M192.6 88.9h.01M207.6 97h.01M210.5 80.9h.01M204.7 82.4h.01M202.5 84.7h.01M197.6 87.8h.01M193.4 92.3h.01M195.8 80.4h.01M199.9 90.1h.01M197.9 90.5h.01M207.8 93.6h.01M194.1 88.1h.01M207.3 93.4h.01M203.9 89.7h.01M190.6 86.3h.01M208.9 80h.01M210.5 76.1h.01M194.5 77.3h.01M204.7 85.8h.01M212.1 81.7h.01M195.2 78.3h.01M202.5 91.7h.01M207.9 91.2h.01M205.1 83.4h.01M204.2 85.4h.01M197.6 99.5h.01M199.6 78.8h.01M203.3 86.6h.01M209.9 91.8h.01M206.4 76.4h.01M190.8 92.4h.01M203.2 87.1h.01M192.9 86.1h.01M203.5 89.8h.01M213.5 82h.01M190.6 73.6h.01M206.1 82.4h.01M197.1 80.4h.01M199.6 73.5h.01M201.3 86.4h.01M205.7 92.9h.01M200.1 86.8h.01M200.9 74.6h.01M198.9 87.1h.01M203.6 78.7h.01M206 86.1h.01M188 81.1h.01M192.7 90.5h.01M203.6 89.7h.01M203.5 80.5h.01M208.7 88h.01M204.4 87.5h.01M194.2 91.5h.01M191.3 81.6h.01M198.8 87.7h.01M199.2 84.1h.01M195.3 89.7h.01M192.4 79.6h.01M204.9 94.3h.01M195.2 80.7h.01M212.9 92.4h.01M198.2 85.5h.01M203.9 91.5h.01M197.9 74h.01M190.8 81.5h.01M203.1 85.4h.01M209.7 79.7h.01M202.3 85.6h.01M207.6 99.3h.01M206.1 93.9h.01M206 78.9h.01M203.2 81.9h.01M201.5 86.6h.01M199.2 83.1h.01M208.4 80.3h.01M209 94.1h.01M206.8 90.4h.01M211.2 88.7h.01M206.1 73h.01M211.5 81h.01M188.8 86.7h.01M192.5 89.5h.01M189.2 83.9h.01M202.5 86.1h.01M195.3 86.7h.01M200 86.7h.01M199.7 84.7h.01M200.9 74.1h.01M198 88h.01M196.6 83.7h.01M198.5 88.3h.01M206.9 81.6h.01M199.9 88.8h.01M193.7 75.1h.01M200.9 83h.01M198.9 91.2h.01M199.1 82.5h.01M200.2 85.2h.01M203.5 86.1h.01M194.2 79.7h.01M193.8 88h.01M196 93.5h.01M187.9 78.8h.01M194.4 75.9h.01M206.9 75.8h.01M199.4 84.6h.01M190.9 77.6h.01M192.3 96h.01M212.2 96.1h.01M193.7 93.1h.01M202.7 91h.01M199.5 91.6h.01M207.1 87.2h.01M208.1 81.1h.01M207.2 77.7h.01M202.2 65.2h.01M198.3 81.2h.01M203.3 92.1h.01M204.7 84.6h.01M205.9 72.7h.01M200 97.1h.01M196.5 72.8h.01M199 78h.01M211.9 88.9h.01M200.9 95.1h.01M198.2 93.6h.01M203.3 83.7h.01M191.6 88h.01M193.3 98.1h.01M188.2 74h.01M204.7 86.6h.01M203.4 99.9h.01M205 84.3h.01M188.6 70.1h.01M205.8 90.4h.01M193.1 79.1h.01M195.5 76.1h.01M202.6 90.5h.01M209.7 83.5h.01M203.6 89.9h.01M207.4 80.4h.01M191.3 84.5h.01M190.8 84h.01M200.7 88.3h.01M201.5 86h.01M199.6 89.4h.01M207.5 88.1h.01M208.1 80.3h.01M203.7 96.7h.01M202.7 87.9h.01M201.2 92.6h.01M195.3 81h.01M198.8 83.5h.01M204.1 81.5h.01M200.5 84.3h.01M200.6 81.3h.01M202.7 74.6h.01M196.3 82.8h.01M204.2 84.5h.01M202.2 82.7h.01M193.2 81.2h.01M197 83.6h.01M203 87.3h.01M205.6 82.7h.01M193.2 81.6h.01M201.7 87.9h.01M211.9 81.9h.01M215.5 92.5h.01M197.8 95.9h.01M210.6 91h.01M203 91.7h.01M197.5 86.8h.01M205.5 96.5h.01M201.8 92.2h.01M198.8 81.6h.01M203.6 89.2h.01M198.1 91.6h.01M193.9 82.6h.01M201 84h.01M190.3 78.9h.01M201.2 87.3h.01M198.3 88.3h.01M192.9 92.3h.01M203.5 86.5h.01M197.2 88h.01M204.1 92h.01M202.7 86.7h.01M198.7 93h.01M205.7 79.9h.01M204.9 86.1h.01M196.6 78.4h.01M205.2 70.2h.01M201.1 82.9h.01M205.7 80.4h.01M202.3 89.5h.01M201.5 81.7h.01M205.3 86.5h.01M204.6 80.3h.01M199.1 83.7h.01M196.4 89.7h.01M206.6 93.3h.01M199.6 89.1h.01M206.5 82.3h.01M201.1 86.6h.01M193.8 81.9h.01M207.2 84h.01M196.5 78.8h.01M204.3 92.6h.01M191.4 83.7h.01M210.6 91.5h.01M207.6 78.6h.01M201.7 79.9h.01M202.3 82.4h.01M205.2 93.4h.01M201.6 83.6h.01M201.4 87.4h.01M198.1 88.5h.01M208.1 93.6h.01M195.9 94.4h.01M214.7 80.7h.01M204.2 92.4h.01M196.2 84.4h.01M200.7 81.6h.01M206.6 83h.01M209.5 99.9h.01M200.4 92.6h.01M199.2 95.5h.01M206.2 84.3h.01M210.4 92.8h.01M208.1 82.4h.01M203.1 92.6h.01M190.5 86.2h.01M204.7 88h.01M215.7 91.5h.01M203.4 87.7h.01M192.5 88.3h.01M201.2 83.9h.01M202.4 89.4h.01M193.5 85.1h.01M193.6 97.3h.01M189.8 78.7h.01M204.1 82.7h.01M204.8 81.3h.01M214.3 84.6h.01M201.6 86.2h.01M201.5 91.2h.01" stroke="#9c9c9c" stroke-width="0.66" stroke-linecap="square" fill="none"/>
<path d="M201 93h.01M201.2 86.9h.01M201.2 82h.01M203.8 86h.01M195.6 90.8h.01M202.6 86.9h.01M204.8 81.9h.01M203 88h.01M198.8 92h.01M192.5 83.7h.01M199.9 81.2h.01M196.6 80.2h.01M198.2 81.8h.01M198.5 79.8h.01M201 84.4h.01M200 85.7h.01M198.1 81h.01M190.9 90.5h.01M195.8 86h.01M198 78h.01M196.1 85.1h.01M196.7 89.1h.01M198 83.3h.01M197.8 90.7h.01M198.6 89.4h.01M198.2 78.3h.01M196.1 87.9h.01M202.5 88.4h.01M204.5 88.6h.01M198.2 85.9h.01M201.9 83.2h.01M200.9 78.5h.01M201.9 84.4h.01M194.6 93h.01M201 85.7h.01M195.3 86.1h.01M203.8 80.5h.01M195.4 87.6h.01M196.9 83.4h.01M198.7 91.4h.01M198.2 95.7h.01M196.1 82.9h.01M203.7 86.9h.01M197.5 90.6h.01M191.8 85.7h.01M203.4 83.3h.01M196.2 90.2h.01M203.1 84.5h.01M192.9 87.8h.01M202.7 88.3h.01M206 82.1h.01M198.1 86.8h.01M202.5 80.6h.01M199.8 73.7h.01M201.5 82.3h.01M202.7 87.9h.01M195.6 87.7h.01M201.8 87.9h.01M194.9 83.9h.01M197.5 98.7h.01M198.8 85.6h.01M196.2 92h.01M200.5 92.3h.01M202.9 84.8h.01M200.5 80.8h.01M197.8 84.5h.01M195.4 88.3h.01M201.9 91.7h.01M186.9 89.1h.01M195.8 85.9h.01M202.1 86.9h.01M199.2 84.3h.01M202.3 86.6h.01M192.9 88.2h.01M193 84h.01M200.5 86.1h.01M198.8 82.7h.01M197.6 83h.01M202.4 88h.01M208.3 87.9h.01M196.3 85.7h.01M197.1 88.8h.01M208.1 85.5h.01M189.9 85.1h.01M196.2 90.1h.01M200.4 87.2h.01M204.8 80.1h.01M200.3 94.8h.01M199.8 82.6h.01M190.1 83.8h.01M191.4 90.4h.01M201.8 89.7h.01M198.2 83.8h.01M200.6 94.4h.01M194 89.7h.01M201.1 88.3h.01M199.3 88.6h.01M202.5 84.2h.01M198 86.2h.01M196.1 86.9h.01M199.2 87.4h.01M206.9 88.8h.01M199.4 89.1h.01M202.3 88.4h.01M200.4 87.1h.01M196.9 84h.01M205.2 89.5h.01M203 86.6h.01M200.1 84h.01M194.7 91.5h.01M199.6 83.7h.01M198.7 92.4h.01M196.6 95.6h.01M206.3 93.9h.01M197.3 87.2h.01M198.4 87.5h.01M197.9 83.7h.01M202.3 81.4h.01M199.1 89h.01M197.2 85.4h.01M200.5 84.1h.01M195.3 87.8h.01M202.1 92.8h.01M197.7 91.5h.01M196.5 86.1h.01M199.2 87.6h.01M206 91.2h.01M200 92.1h.01M204.8 87.5h.01M198.8 90.7h.01M200.1 87.6h.01M200.1 89h.01M205.8 88.5h.01M200.9 90.1h.01M203.4 80.2h.01M202.8 78.7h.01M202.8 87.4h.01M205.6 84.7h.01M196.8 83.9h.01M196.8 91h.01M197.8 83.8h.01M200.5 82.4h.01M197.6 85.1h.01M208.3 88.8h.01M196.6 80.5h.01M201 85.9h.01M202.1 87.6h.01M200.4 90.1h.01M203.2 85.5h.01M197.6 85h.01M200.4 80.9h.01M198 83.6h.01M196 90.6h.01M199.9 86.3h.01M200.4 79.1h.01M200.2 87.3h.01M201 80.7h.01M202.8 85.7h.01M206.7 88.1h.01M205.6 93.2h.01M199.2 84.5h.01M197.1 83.2h.01M196.5 79.2h.01M200.3 87.8h.01M202.8 83.2h.01M203.7 81.4h.01M196.2 79.3h.01M195.8 84.4h.01M206 85.6h.01M197 89.8h.01M201.2 84.5h.01M199.5 85h.01M195 80.5h.01M201.8 90.9h.01M204.4 82.8h.01M197 86.5h.01M203.6 85.9h.01M198.5 88.4h.01M200.1 88.3h.01M196 81.4h.01M201.4 88.8h.01M195.9 87.5h.01M202.3 83.3h.01M201.1 94.5h.01M204.5 88.5h.01M199.4 93.5h.01M193.3 86.9h.01M204.7 89.7h.01M195.6 85.2h.01M197.3 78.8h.01M203 87.1h.01M199.3 88.8h.01M203.1 86h.01M204.2 90.7h.01M198.5 87.4h.01M199.8 90.7h.01M199.3 88.5h.01M200.5 86.1h.01M205.6 83.1h.01M206.1 86.8h.01M204.1 83.4h.01M204.3 87.3h.01M198.3 88h.01M199.4 86.2h.01M203.1 81.4h.01M191.2 82.5h.01M197.3 84.5h.01M200.9 88.1h.01M206.4 84.4h.01M200.3 82.7h.01M204.2 90h.01M201.2 77h.01M205.6 90.4h.01M200.2 79.4h.01M199.8 88.7h.01M200 82.5h.01M198.5 91h.01M197.8 93.4h.01M200.5 87.1h.01M194.4 86.1h.01M199.8 79.7h.01M204.6 77.8h.01M195.8 88.2h.01M202.8 88h.01M198.3 85.9h.01M198.1 84.4h.01M192.7 93.6h.01M201 86.3h.01M198.2 88h.01M199.7 85.8h.01M200.8 78.2h.01M199 81.9h.01M201.3 92h.01M196.1 87.5h.01M199.5 90.4h.01M193.8 81.6h.01M201.1 84h.01M200.6 90.5h.01M196.3 86.2h.01M201.1 87.3h.01M199.9 90.6h.01M206.8 81.1h.01M202.7 75.6h.01M204.1 82.6h.01M199.8 84.7h.01M195.6 82.5h.01M200.7 91.4h.01M203.2 83.1h.01M196.9 84.4h.01M198.8 94.4h.01M202.3 85.5h.01M196.5 83.2h.01M205.7 86.8h.01M198.3 91.1h.01M197.2 90.1h.01M195.9 86.1h.01M202.3 86.9h.01M201.9 81.5h.01M207.5 88.4h.01M200.6 87.8h.01M197 86.8h.01M195.6 88.5h.01M202.8 90.6h.01M204.5 87.5h.01M198.3 85.9h.01M199.1 87.4h.01M194.6 91.9h.01M193.7 86.7h.01M199.1 84.2h.01M205.4 83.1h.01M207.2 87.8h.01M198.9 88.3h.01M203.8 82.9h.01M199.3 84h.01M199.5 84.7h.01M201.8 89.5h.01M204.8 84.4h.01M202 88.8h.01M197.2 82.8h.01M202.1 81h.01M201.5 81.2h.01M204.4 79.5h.01M205.3 90.1h.01M199.1 92.9h.01M194.2 81.1h.01M203.5 87.5h.01M195 77.4h.01M199.2 85.1h.01M198.1 85.7h.01M192.9 86.9h.01M208.6 88.8h.01M197.5 84.1h.01M203 89.3h.01M200.4 80.8h.01M200.7 86.3h.01M206.8 88.1h.01M203.7 89.6h.01M201.1 92.2h.01M199.1 88.2h.01M201.5 81.4h.01M194.6 80.9h.01M200.4 85.6h.01M199.6 88.4h.01M192.7 89.4h.01M199.8 85h.01M205.5 91.1h.01M196.8 83.5h.01M198 87.4h.01M200.5 82.1h.01M201.6 80.9h.01M203.4 86.3h.01M205.1 93.1h.01M198.7 85.9h.01M203 88.4h.01M195.8 89.2h.01M198.4 89.5h.01M204.6 84.1h.01M199.8 86.9h.01M191.2 93.5h.01M202.1 85.8h.01M197.3 84.1h.01M201.3 90.7h.01M201.8 91.1h.01M190.4 88.5h.01M200.8 85.6h.01M193.2 86.4h.01M202 79.5h.01M194.7 83.8h.01M199.1 89.3h.01M198.5 77.9h.01M203.9 81.7h.01M200.7 93h.01M197.6 81.8h.01M196.5 84.5h.01M195.9 86.5h.01M203.5 86h.01M199.9 98.2h.01M196.7 88.1h.01M201.3 88.8h.01M199.5 88.2h.01M207.2 83.1h.01M196.8 89h.01M196.6 86.1h.01M201.1 87h.01M200.3 89.6h.01M197.1 81.8h.01M202.3 83.4h.01M202.9 81.8h.01M202.4 86.3h.01M188.3 85h.01M198.4 92.9h.01M195 92.3h.01M204.4 86.1h.01M201.4 83.3h.01M200.2 86.9h.01M202.5 88h.01M198 83.9h.01M198.7 88.5h.01M192.2 84.3h.01M197.6 84.8h.01M194.6 77h.01M198.3 85.7h.01M199.2 77.8h.01M199.7 88.3h.01M203.6 89.6h.01M201.7 80.7h.01M201.5 83.9h.01M199.7 92.8h.01M196.3 84h.01M197.1 83.7h.01M204 85.9h.01M205.3 85.4h.01M199.6 90.8h.01M196.9 85.5h.01M199.4 86.5h.01M203 82h.01M201.1 85.4h.01M193.8 84.2h.01M199.8 87.9h.01M201.8 87.3h.01M199.3 84.4h.01M199.7 81.8h.01M194.8 87h.01M194.2 86.5h.01M196.4 85.3h.01M198.4 83.3h.01M195.6 80.6h.01M198.9 82.7h.01M196.6 75.3h.01M197.6 88.2h.01M191 88.7h.01M200.4 86.3h.01M195.2 89.3h.01M198.8 82.4h.01M202.4 84.7h.01M199.2 84.5h.01M201.9 85.6h.01M204.5 85.9h.01M197.4 86.3h.01M202.4 83.3h.01M202.1 87.4h.01M195.4 78h.01M200.7 86.7h.01M199.1 83.2h.01M203.8 83.7h.01M196.6 84.5h.01M199.3 81.6h.01M199.8 94.9h.01M206.1 87.8h.01M205.6 86.1h.01M196.1 93.1h.01M205 85.9h.01M195.3 93.7h.01M203.7 82.2h.01M201.6 88.7h.01M201.5 90.2h.01M201.3 88.5h.01M197.7 80.6h.01M201.8 99.1h.01M203.1 90.4h.01M206.7 90.5h.01M200.8 83.1h.01M196.7 79.2h.01M200.8 89.7h.01M192.8 90.3h.01M205 89.6h.01M195.6 85.2h.01M191.8 85.4h.01M205.2 92.7h.01M198.3 92.9h.01M200.5 83.6h.01M203.2 73.5h.01M200 87h.01M210.2 89.2h.01M207.9 83h.01M205.6 89.5h.01M202.3 86.6h.01M198.6 84.9h.01M199 95.1h.01M194.9 79.3h.01M200.7 85.6h.01M203.6 92.4h.01M199.1 85.3h.01M197.3 87.2h.01M198.7 87.5h.01M211.3 82.5h.01M200.2 94.4h.01M204.2 87.7h.01M203.7 87.9h.01M204.6 90.1h.01M205.6 89.4h.01M198.2 86.9h.01M199 90.7h.01M202 83.1h.01M206.3 94.7h.01M202.3 80.1h.01M200.7 88.5h.01M200.4 87.6h.01M204.5 85.4h.01M197.3 90.4h.01M199.8 86.7h.01M195.6 82h.01M195 86.8h.01M191.6 78h.01M201.9 80.1h.01M198.3 89.2h.01M193.9 94.8h.01M198.4 89.7h.01M198.8 88h.01M200.3 85.9h.01M191.1 83.7h.01M202.1 91.3h.01M198.9 88.9h.01M201.3 87.6h.01M200.8 79.1h.01M200.5 85h.01M197.4 83.5h.01M195.5 83.6h.01M200.4 96.9h.01M205.8 83.4h.01M200.8 81.4h.01M187.2 84h.01M202.8 91.1h.01M198.1 82.5h.01M197.4 82.9h.01M194.7 87.5h.01M197.2 83.8h.01M195.3 84.2h.01M203.1 90.8h.01M203 94.5h.01M194.8 89.7h.01M195.6 87.4h.01M201.2 88h.01M202.9 82.3h.01M195.3 87.4h.01M199.7 83.1h.01M205.8 90.8h.01M195.6 89.7h.01M200.2 77.5h.01M200.2 85h.01M197.2 93.2h.01M199.8 84h.01M202.5 87.7h.01M203.5 87h.01M199.3 81.2h.01M198.7 87.2h.01M194 98.3h.01M196.8 82.9h.01M194.1 89.9h.01M199 83.9h.01M197 83.6h.01M197.2 86.9h.01M198.8 89.6h.01M199.6 86.8h.01M203.4 90.1h.01M202.4 86h.01M198 83.4h.01M199.9 89.1h.01M200 84.3h.01M192.7 82.7h.01M202.7 89.3h.01M198.9 80.5h.01M199.5 87.2h.01M197.3 88.8h.01M197.8 83.4h.01M197 91h.01M199.6 82.3h.01M197.9 91h.01M201.4 84h.01M204.9 82.5h.01M198.1 91.7h.01M199.8 87.7h.01M198.3 82.4h.01M195.5 87.3h.01M203 80.2h.01M204.9 84.7h.01M196.5 88.9h.01M200.3 81.9h.01M193.2 90.8h.01M196.8 89.5h.01M193.1 88.7h.01M194.6 82h.01M199.4 87.1h.01M196 82.7h.01M197.7 79.4h.01M202.6 87h.01M207.2 86.6h.01M201.6 86.5h.01M197.8 81.3h.01M205.8 85.7h.01M197 82.4h.01M205.9 85.6h.01M197 90.4h.01M206.4 83h.01M200.6 84h.01M199.5 91h.01M210.7 81.6h.01M200.8 89.2h.01M200.1 89.2h.01M201 81.1h.01M196.1 87.5h.01M203.2 85.8h.01M201.8 79.1h.01M200.5 83.1h.01M200.8 87.1h.01M196.2 86.8h.01M196.4 88.9h.01M196.2 85.7h.01M199.6 83.4h.01M202.8 82h.01M203.3 85.8h.01M196 87h.01M196.4 86.1h.01M202 93.1h.01M201.1 92.4h.01M199.2 80.7h.01M193.1 92.2h.01M194.3 91.9h.01M204.1 85.9h.01M198.8 85.5h.01M200.3 84.6h.01M197.4 85.6h.01M202.9 82h.01M199.3 81.3h.01M195.2 82.3h.01M200.4 88.9h.01M200.1 83.8h.01M201.4 83.9h.01M201.6 86.5h.01M197.6 76.3h.01M196.7 91h.01M203.3 94.3h.01M198.2 84.5h.01M205.9 85.7h.01M207.2 84.9h.01M200.4 89h.01M196.5 85.8h.01M197.6 86.2h.01M201.8 83.1h.01M200.2 83.8h.01M198.3 74.8h.01M199.5 87h.01M197.9 91.5h.01M202.8 90.4h.01M204.3 86.9h.01M197.6 82.4h.01M198.4 84.8h.01M200 84h.01M207.7 75.5h.01M203.1 82.5h.01M200.6 89.8h.01M197.9 81.7h.01M201 84.7h.01M193.2 90.1h.01M195.1 85.1h.01M202 86.4h.01M202.5 94.4h.01M200.3 83.2h.01M200.5 85.3h.01M189.7 84h.01M198.6 95.7h.01M198.8 85.4h.01M199.6 90.5h.01M202.8 92.2h.01M205.3 90.7h.01M200.1 87.6h.01M198.1 86.2h.01M193 86.8h.01M195.6 85.3h.01M204.5 85.1h.01M205.5 87.2h.01M204.7 88.2h.01M199.2 89.9h.01M197.9 84.7h.01M207.6 92h.01M199.5 93.9h.01M201.3 81.7h.01M201.5 87h.01M200.6 84.2h.01M195.6 88.3h.01M204.1 87.5h.01M204 89h.01M196.5 87.5h.01M202.7 89.1h.01M201.3 87.7h.01M203.9 93.4h.01M192.4 89.5h.01M208.7 83h.01M193.9 89.5h.01M193.9 85.9h.01M203.5 91.9h.01M202.6 87.8h.01M203.7 85.2h.01M196.8 87.1h.01M200.6 84.6h.01M197 85.9h.01M193.1 84.8h.01M199 85h.01M202.4 91.1h.01M200.9 85.5h.01M194.1 84.1h.01M199.7 82.4h.01M199.6 81.6h.01M200.2 85.6h.01M202.6 83.1h.01M199 87.6h.01M202.9 92.1h.01M198.1 84.6h.01M199.6 88.3h.01M201.9 88.2h.01M199.3 97.2h.01M206.1 83.1h.01M196 88.6h.01M197.6 77.5h.01M197.5 80.8h.01M203.8 90.3h.01M200.9 79.1h.01M206.1 87.1h.01M199.5 88.5h.01M204.5 82.5h.01M198.9 84.1h.01M200.2 76.6h.01M203.1 80.4h.01M200.3 78.8h.01M195.7 85.4h.01M200 79h.01M200.9 82.9h.01M203.6 83h.01M201.3 84.7h.01M205.4 82h.01M203.1 93.2h.01M201.3 88.4h.01M197.7 88h.01M192.4 90.1h.01M195.2 81.8h.01M197 92.4h.01M198.8 80h.01M204.9 80.7h.01M199.1 87.6h.01M193.3 82.1h.01M199.3 91.5h.01M200.5 78.9h.01M204.1 84.3h.01M201.7 85.5h.01M199.6 81.9h.01M195.6 85h.01M199.7 88.9h.01M198.4 93.7h.01M196.8 85h.01M203 86.5h.01M197 82.8h.01M193.8 82h.01M205.6 88.2h.01M207.1 84.9h.01M202.3 88.3h.01M202.7 83.7h.01M204.7 93.2h.01M191.8 83.8h.01M197.9 90.3h.01M203.4 83h.01M202.1 84.9h.01M200 83.7h.01M199.8 86.1h.01M207.5 92.3h.01M194.6 90.9h.01M201.5 89.6h.01M204.8 87.2h.01M201.1 81.4h.01M196.9 94.8h.01M202.4 80.8h.01M205.4 86.4h.01M193 93.2h.01M198.5 91.8h.01M196.3 84.5h.01M194.3 87.8h.01M202.2 82.1h.01M197.1 96.7h.01M207.3 85.6h.01M196 82.6h.01M195.3 90.7h.01M202.6 80.2h.01M199.4 85.1h.01M199.9 88.3h.01M206 80.5h.01M204.6 88.6h.01M198.7 86h.01M197.1 92.1h.01M197 84.6h.01M198.7 82.9h.01M195.9 86.7h.01M204.6 83h.01M199.2 80h.01M196.3 95.7h.01M196 81.2h.01M200.6 88.4h.01M192.5 85.7h.01M199.2 82.4h.01M204.2 88.3h.01M200.7 83.9h.01M198.7 83.9h.01M200 87.4h.01M200.5 90.1h.01M207.8 80h.01M202.4 88.5h.01M201.7 84.2h.01M199.9 90.5h.01M202.9 86.9h.01M198.2 89.6h.01M202.3 84.2h.01M205.7 92.9h.01M194.5 91.3h.01M193.6 83.1h.01M200 88.4h.01M198.1 81.8h.01M194.1 86.4h.01M198.6 83.1h.01M197.7 94.8h.01M196.8 86.9h.01M197 84.9h.01M199.5 85h.01M200 80.9h.01M198.1 95.5h.01M200.9 89h.01M204.9 86.2h.01M197.4 80.4h.01M196.1 92.2h.01M203.2 87.1h.01M190.6 81.1h.01M194.3 83.5h.01M198.7 82.2h.01M204.3 81.3h.01M199.4 90.1h.01M199.5 82.3h.01M205.9 91.7h.01M195.3 87.2h.01M192.9 80.8h.01M203.2 87.6h.01M204 86.1h.01M192.9 89.2h.01" stroke="#6e6e6e" stroke-width="0.62" stroke-linecap="square" fill="none"/>
<path d="M185.5 12.5H282V102.5" stroke="#8c8c8c" stroke-width="1" fill="none"/>
<path d="M185.5 12V102.5H282.5" stroke="#7e7e7e" stroke-width="1.05" fill="none"/>
<path d="M185.5 95.7h-2.5M185.5 91.8h-2.5M185.5 89h-2.5M185.5 86.8h-2.5M185.5 85h-2.5M185.5 83.5h-2.5M185.5 82.2h-2.5M185.5 81h-2.5M185.5 80h-3.9M185.5 73.2h-2.5M185.5 69.3h-2.5M185.5 66.5h-2.5M185.5 64.3h-2.5M185.5 62.5h-2.5M185.5 61h-2.5M185.5 59.7h-2.5M185.5 58.5h-2.5M185.5 57.5h-3.9M185.5 50.7h-2.5M185.5 46.8h-2.5M185.5 44h-2.5M185.5 41.8h-2.5M185.5 40h-2.5M185.5 38.5h-2.5M185.5 37.2h-2.5M185.5 36h-2.5M185.5 35h-3.9M185.5 28.2h-2.5M185.5 24.3h-2.5M185.5 21.5h-2.5M185.5 19.3h-2.5M185.5 17.5h-2.5M185.5 16h-2.5M185.5 14.7h-2.5M185.5 13.5h-2.5M185.5 12.5h-3.9M192.8 102.5v1.9M197 102.5v1.9M200 102.5v1.9M202.4 102.5v1.9M204.3 102.5v1.9M205.9 102.5v1.9M207.3 102.5v1.9M208.5 102.5v1.9M209.6 102.5v3.4M216.9 102.5v1.9M221.1 102.5v1.9M224.1 102.5v1.9M226.5 102.5v1.9M228.4 102.5v1.9M230 102.5v1.9M231.4 102.5v1.9M232.6 102.5v1.9M233.8 102.5v3.4M241 102.5v1.9M245.3 102.5v1.9M248.3 102.5v1.9M250.6 102.5v1.9M252.5 102.5v1.9M254.1 102.5v1.9M255.5 102.5v1.9M256.8 102.5v1.9M257.9 102.5v3.4M265.1 102.5v1.9M269.4 102.5v1.9M272.4 102.5v1.9M274.7 102.5v1.9M276.6 102.5v1.9M278.3 102.5v1.9M279.7 102.5v1.9M280.9 102.5v1.9M282 102.5v3.4" stroke="#8e8e8e" stroke-width=".75" fill="none"/>
<path d="M221.5 12.5V102.5M185.5 69.0H282" stroke="#3e3e3e" stroke-width="1.2" fill="none"/>
<text x="280.1" y="20.4" text-anchor="end" class="pc">0.7%</text>
<text x="280.1" y="76.6" text-anchor="end" class="pc">0.2%</text>
<ellipse cx="317.2" cy="89.7" rx="10.8" ry="6.5" transform="rotate(8 317.2 89.7)" fill="url(#rg)" opacity="1.0"/>
<path d="M319.1 83.6h.01M314.9 93.5h.01M327.3 93h.01M318.9 79.1h.01M326.3 99.2h.01M331.9 97.8h.01M322 91.1h.01M318.2 96.4h.01M328 87.3h.01M320.9 77.7h.01M312 85.2h.01M346.1 86.6h.01M329.1 90.1h.01M315.7 91.9h.01M339.7 93.1h.01M318.7 89.2h.01M326.9 86h.01M320.3 91.7h.01M315.4 90.3h.01M322.3 93.4h.01M309.5 83.3h.01M313.8 95.5h.01M323.6 77.8h.01M304.2 99.1h.01M324.2 80.3h.01M309.7 87.8h.01M333.1 101h.01M315.9 85.8h.01M340.7 84.7h.01M335.7 92.8h.01M319.3 96.8h.01M325.3 83.5h.01M303.3 86.1h.01M323.6 98h.01M324.6 99.1h.01M327.7 90.8h.01M323.7 91.5h.01M312.9 86.6h.01M321.2 85.5h.01M305.3 76.6h.01M324.3 92.4h.01M321.7 80.8h.01M328.8 87h.01M325.5 86.2h.01M333.9 99.4h.01M323.8 77.4h.01M315.7 85.8h.01M324.5 88.1h.01M324.6 78.1h.01M311.3 96.8h.01M303.2 92.2h.01M343.3 96h.01M303.6 94.4h.01M314 95.8h.01M331.7 91.3h.01M337.5 97.4h.01M315.3 81.1h.01M345.9 89.3h.01M323.9 88.1h.01M315.9 77h.01M318 87.3h.01M330.3 86.3h.01M303.9 78.9h.01M318.8 89.8h.01M327.5 86.8h.01M325 90h.01M337.4 90.4h.01M320.5 92.2h.01M333.2 84h.01M314.7 85.8h.01M330.8 90h.01M353.9 101.6h.01M339.4 101.6h.01M330.3 80.3h.01M335.3 93.3h.01M306.7 86.8h.01M326.5 95.8h.01M321.8 85.1h.01M328.2 84.4h.01M317.9 93.2h.01M303.9 88.6h.01M306.5 85.8h.01M327.1 89h.01M329 90.3h.01M316.8 91.2h.01M316.8 88.8h.01M331 86.1h.01M332.7 82.7h.01M318.7 76.5h.01M312.4 97.9h.01M322.1 97.1h.01M304.8 79.4h.01M323.6 94.4h.01M329.9 78.5h.01M324.9 88.5h.01M320.3 91.6h.01M318.1 76.7h.01M309.5 77.2h.01M305.6 85.4h.01M353.7 22.4h.01M350.9 25.9h.01M350.9 27.5h.01M347.1 30.9h.01M349.7 27.8h.01M351.7 27h.01M349.3 28.5h.01M350.3 29.1h.01M354.8 22.3h.01M352.7 25h.01M353.5 83.7h.01M360.8 81.7h.01M347.7 73.3h.01M371.2 95.4h.01M349.5 84.1h.01M350.9 74.3h.01M371.9 93h.01M347.8 79h.01M364.7 92h.01M356.3 82.2h.01M347.5 92.1h.01M370.9 93.5h.01M343.1 87.1h.01M375.4 90.1h.01M353 25.2h.01M325.1 54.5h.01M325.7 58.3h.01M367.5 41.6h.01M383.3 64.5h.01M364.1 22.9h.01M362.1 38.9h.01M338.4 64.3h.01" stroke="#c6c6c6" stroke-width="0.8" stroke-linecap="square" fill="none"/>
<path d="M340.5 88.3h.01M305.5 90.5h.01M314.9 87.3h.01M321.8 89.7h.01M324 92.7h.01M325.4 91.3h.01M305.3 92.2h.01M320 84.4h.01M317.5 93.2h.01M310.5 88.9h.01M313 85h.01M312.6 94.2h.01M322.2 90.2h.01M316.9 90.1h.01M319.3 90.7h.01M305.2 91.7h.01M313.1 78.4h.01M323 85.5h.01M316.6 89.2h.01M313.2 91.2h.01M315.8 88.3h.01M311.1 87.6h.01M310.4 88.8h.01M326 95h.01M321.2 84.6h.01M324 94.4h.01M332.9 82.7h.01M317.8 88.3h.01M325.6 86.4h.01M313.6 98.6h.01M325.4 82.7h.01M316.9 95.1h.01M312.9 91.4h.01M319 83.9h.01M312.6 93.6h.01M326 88.4h.01M325.6 87.9h.01M319.2 89.8h.01M308.8 89.7h.01M316.4 78.3h.01M312.3 85.5h.01M312.3 84.9h.01M314.2 79.2h.01M323.6 90.8h.01M319.4 88.8h.01M318.1 88.7h.01M310.9 82.5h.01M317.4 93.8h.01M318.2 96.3h.01M308.3 87.3h.01M312.6 94h.01M329.4 89.2h.01M322.6 89.4h.01M310.7 88.2h.01M309.5 94.8h.01M320.9 95h.01M321.3 80.2h.01M322.9 90.8h.01M323.5 97.5h.01M310 91.8h.01M319.9 89.3h.01M315.3 91.5h.01M321.1 92.8h.01M315.4 83.9h.01M325.8 96.1h.01M313.6 89h.01M324 83.4h.01M319.6 99.8h.01M319.8 87.1h.01M331.5 91.6h.01M319.2 88.1h.01M319.7 82.6h.01M309.5 82.5h.01M323.7 90.1h.01M326.6 82.5h.01M312.6 94.9h.01M313.1 81.4h.01M312.6 87.5h.01M316.7 94.9h.01M325.7 97.1h.01M321.8 88.2h.01M314.9 83.2h.01M325.5 95.9h.01M318.6 86.1h.01M321.8 92.2h.01M319.2 85.1h.01M319.5 87.6h.01M322.2 92.7h.01M320.8 88.3h.01M327.5 94.2h.01M325.7 94.2h.01M321.8 91.8h.01M311.2 81.3h.01M310.7 91.2h.01M323.6 91.2h.01M317.1 97.1h.01M315.8 82.1h.01M307.1 86.8h.01M321.9 93.3h.01M315.5 92.7h.01M317.6 86.7h.01M314.5 92.3h.01M324.7 86h.01M310.7 89.2h.01M332.7 87h.01M308.7 90.1h.01M321.3 87.6h.01M317 91.5h.01M305.6 87.8h.01M321.1 93.9h.01M325.5 90.4h.01M306.9 93.6h.01M323.1 87.8h.01M324 94.8h.01M317.9 80h.01M314.7 86.1h.01M311.8 88.5h.01M309.9 90.1h.01M331.1 86.6h.01M324.9 88.5h.01M321.3 89.6h.01M326.7 88h.01M322.9 87.2h.01M319.1 89.8h.01M325.8 84.3h.01M307.5 93.9h.01M319.2 96.8h.01M310.3 89.5h.01M320.6 97.3h.01M317.4 87.8h.01M322.4 89.9h.01M312 92h.01M305.1 83.7h.01M327.1 88.9h.01M315.1 90.8h.01M324.9 92.8h.01M311.2 86.4h.01M324.7 90.1h.01M312.7 92.5h.01M324.1 99.5h.01M310.6 85.7h.01M312.6 90.4h.01M313.6 93.6h.01M313.3 87.9h.01M321.3 91h.01M309.8 94.7h.01M321.7 88.2h.01M319.5 85.4h.01M309.3 87.2h.01M319.9 90.4h.01M313 83.3h.01M305.2 94.4h.01M320.5 86.7h.01M325.3 92.9h.01M315 86.7h.01M325.1 92h.01M328.4 92.6h.01M313.9 86.6h.01M312.6 90h.01M318.9 92.3h.01M321.2 85.8h.01M316.6 85.6h.01M321.5 84.8h.01M314 85.6h.01M313.4 88h.01M327.9 90h.01M307.9 87h.01M322.3 92.6h.01M318 97.9h.01M325 91h.01M326.5 85.4h.01M316.8 86h.01M317.8 96.3h.01M313.2 95.6h.01M309.8 94.4h.01M306.5 84.6h.01M324.3 90.2h.01M318.5 89.7h.01M318.8 89.1h.01M311 87.5h.01M318.8 86.1h.01M319.7 97.2h.01M306.7 85.9h.01M315.6 89.4h.01M318.6 86.8h.01M317.3 89.6h.01M316 95.7h.01M319.2 83.8h.01M306.6 90.5h.01M315.5 86.8h.01M308.5 87.1h.01" stroke="#9c9c9c" stroke-width="0.66" stroke-linecap="square" fill="none"/>
<path d="M311.3 87.6h.01M317.1 83.2h.01M319.5 92h.01M322.3 86.6h.01M312 86.8h.01M310.8 94.2h.01M313.1 88.3h.01M317.9 91h.01M323.9 87.8h.01M320.9 90.6h.01M312.1 89.4h.01M310.6 93.1h.01M313.7 91.9h.01M323 88.9h.01M313.3 89.5h.01M312.3 91.4h.01M318.2 87.8h.01M314 91.2h.01M310.3 93.2h.01M313.9 88.7h.01M312.6 93.4h.01M320.3 93.6h.01M320 90.3h.01M324.3 92.5h.01M318.9 91.5h.01M320.3 90.9h.01M317.1 85.4h.01M326.6 87.6h.01M308.1 86.5h.01M325.1 94.1h.01M314.5 90h.01M317.8 84.5h.01M315.6 90.3h.01M322.7 87.3h.01M308 84.2h.01M318.6 90.1h.01M317.8 90.2h.01M316.1 85.9h.01M319 91h.01M319.3 93.3h.01M312.7 82.8h.01M308.7 94.2h.01M313.1 90.2h.01M316.9 91.6h.01M331.4 90.3h.01M316.7 88h.01M318.1 91.2h.01M312.5 92.6h.01M322 91.6h.01M316.8 89h.01M309.8 90.4h.01M313.1 87.8h.01M321.9 87.9h.01M314.6 91.6h.01M325.5 89h.01M322.2 88.7h.01M318.7 91.2h.01M311.9 91.7h.01M325 90.9h.01M318.8 86.8h.01M325 91h.01M311.4 90.9h.01M311.1 87h.01M307.4 92h.01M327.1 89.4h.01M314.6 87.8h.01M314.5 90.8h.01M323.9 87.9h.01M319.8 85.2h.01M323.9 90.4h.01M313.6 93.3h.01M316.2 93.2h.01M321.3 94.7h.01M313.7 89.4h.01M318.9 89.4h.01M324.1 88.8h.01M321.1 93.9h.01M309 86h.01M313.5 87.7h.01M319 89.5h.01M317.7 88.5h.01M316.7 90.9h.01M320.7 88.1h.01M317 87.6h.01M317 85.8h.01M321.1 92h.01M316.9 87.8h.01M315.5 87.7h.01M309.9 93h.01M332 88.5h.01M311.9 90.5h.01M320.4 85.9h.01M308.6 89.9h.01M308 92.2h.01M315 89.6h.01M317.4 88.2h.01M316.7 88.8h.01M322.7 90.2h.01M317.3 88.3h.01M314.7 87.4h.01M316.6 94.5h.01M322 91h.01M324.1 93.4h.01M318.2 89.4h.01M312.3 89.7h.01M316.4 85.3h.01M310.9 94h.01M318 91.1h.01M318.2 88.6h.01M318.8 92.8h.01M315.7 90.9h.01M321.8 89.1h.01M318.2 87.9h.01M320 89.1h.01M322.5 88.4h.01M324.7 89.9h.01M313.9 86.8h.01M320.4 87.9h.01M324.6 94.2h.01M320 86.3h.01M317.4 87.8h.01M309.2 89.7h.01M327 89.6h.01M320.3 93.6h.01M313.1 88.2h.01M318.2 91.1h.01M312.1 89.6h.01M316.4 92.1h.01M310.4 87.2h.01M315.1 88.6h.01M320.6 88.5h.01M329.4 89.5h.01M320.5 92.9h.01M321.5 89.8h.01M313.7 88.5h.01M320.1 90.4h.01M319.5 91.6h.01M313.7 86.7h.01M323.7 89.3h.01M309.6 93.6h.01M313.9 86.7h.01M321.8 87.3h.01M313 91.9h.01M312.7 95.8h.01M316.6 96.8h.01M317.7 89.9h.01M314.5 88.7h.01M315 89.3h.01M321 86.8h.01M314 83.6h.01M323.8 90.4h.01M317.2 89.5h.01M321.5 91.2h.01M321 89.8h.01M316.7 89.5h.01M308.7 91.4h.01M310.7 86.1h.01M320.1 90.3h.01M320.1 94.7h.01M324.8 94.5h.01M315.5 94.9h.01M313.4 88.9h.01M321.6 89.7h.01M316.8 88.7h.01M324.1 84.1h.01M322.4 93.3h.01M316.7 91.1h.01M312.6 92h.01M330.9 89.2h.01M323.3 90.4h.01M315.9 88.2h.01M316.8 86.3h.01M310.7 93.2h.01M316.9 91.1h.01M318.4 91.1h.01M310.9 86.3h.01M319.6 92.7h.01M312.4 87.5h.01M312.3 90.8h.01M318.7 90h.01M314.2 90.2h.01M317.6 87.8h.01M318.9 88.2h.01M321.1 91.9h.01M314 90.8h.01M317.8 87.9h.01M313.8 84.8h.01M312.1 89.9h.01M322.7 88.8h.01M317.8 90.7h.01M320.4 91.3h.01M322.3 92.5h.01M313.7 90.3h.01M307.1 87.8h.01M317.1 91.2h.01M315.6 91.7h.01M323.3 88.3h.01M314.7 90.1h.01M319.3 90.4h.01M321.3 87.1h.01M320.2 93.2h.01M321.9 91.5h.01M316 90.6h.01M317.5 85.5h.01M314.6 89.2h.01M315.3 86.9h.01M316.3 88.6h.01M317.5 89.6h.01M317.6 92.4h.01M317.6 90.9h.01M313 81.2h.01M315.2 91.2h.01M316 87.9h.01M311.5 91.3h.01M314.8 90h.01M321.9 91.8h.01M327 90.7h.01M321.1 92.1h.01M314.3 89.4h.01M315.1 86.7h.01M318.8 87.9h.01M324.8 88.8h.01M314.8 89.6h.01M314.9 89.5h.01M315.1 85.6h.01M307.2 84.8h.01M323.7 91.8h.01M318 88.6h.01M316.5 90.4h.01M311.4 86.8h.01M312.9 92.5h.01M312.2 92.1h.01M314.2 96.6h.01M316.8 89.7h.01M322.8 92.8h.01M321.7 87.5h.01M321.5 94.8h.01M316.9 88.4h.01M312.1 91.7h.01M318.5 89.9h.01M311.2 93.2h.01M321 90.2h.01M324 88.1h.01M321.4 87.6h.01M323.4 89.8h.01M322.7 89.4h.01M318.5 92.9h.01M313.2 89.4h.01M313.2 91.4h.01M314.7 88.4h.01M315.9 92.6h.01M312.7 89h.01M316 88.1h.01M313.8 88.8h.01M318.6 85.8h.01M318.7 86.7h.01M316.4 95.7h.01M313 88.9h.01M315.7 92.1h.01M315.8 84.7h.01M310.1 89.2h.01M317.9 92.7h.01M314.6 91.1h.01M312.1 92.4h.01M317.1 87.9h.01M317.3 94.4h.01M314 85.9h.01M313.2 86h.01M316.9 90.6h.01M316.4 90.1h.01M322.5 89.7h.01M312.6 82.9h.01M318.5 88.1h.01M316 90.6h.01M319.8 85.9h.01M313 89.3h.01M316.2 92.6h.01M315.8 84h.01M322.9 86.1h.01M312.8 90.1h.01M311.7 95.6h.01M318 91.3h.01M314.5 95.2h.01M319.8 88.1h.01M323.3 86h.01M314.5 90.1h.01M318.2 87.3h.01M323.5 94.5h.01M313 90.1h.01M314.6 88.2h.01M321.5 90.6h.01M316.7 89.9h.01M311.6 92.2h.01M313.4 92.7h.01M315.4 88.2h.01M323.6 91.1h.01M314.6 87.9h.01M319.1 95h.01M320 89h.01M312.6 87.2h.01M316.6 90.3h.01M313.9 92.7h.01M313.3 87.2h.01M319.2 91.3h.01M315.1 92h.01M310.5 93.1h.01M326 96.2h.01M317 94.9h.01M316.9 93.2h.01M316.3 90.1h.01M320.1 85.4h.01M315.7 94.1h.01M304.3 88.9h.01M321.1 91.1h.01M317.5 93.5h.01M319.4 84.9h.01M313.2 88.3h.01M318 88.6h.01M316.1 94h.01M304 90.9h.01M321.1 91.9h.01M317.2 89.9h.01M318.7 90.6h.01M313.8 91.3h.01M313.6 89.1h.01M316.1 86.5h.01M319.9 89.9h.01M312.2 88.8h.01M310.7 92.6h.01M318.7 95.2h.01M314.5 91.2h.01M313.3 86.9h.01M316.7 90.7h.01M321.3 89.6h.01M321.6 92.9h.01M313.5 88.7h.01M312.6 93.6h.01M314.5 91.7h.01M321.3 89.6h.01M315 90.3h.01M314.3 85.9h.01M312.9 90h.01M317.4 94.4h.01M309.1 89.9h.01M311.8 92h.01M320.2 90.5h.01M323.7 89.6h.01M315.3 86.6h.01M314.3 89.6h.01M319.6 93.5h.01M316.3 87.6h.01M315.9 88.4h.01M315.3 88.4h.01M313.4 89h.01M315 88.9h.01M311.1 89.2h.01M319.4 91.7h.01M315.2 86.4h.01M312 85.9h.01M314.5 88.5h.01M309.3 90.4h.01M310.8 87h.01M313.8 91.4h.01M325.3 89.9h.01M316.2 88.5h.01M316.4 89.1h.01M328.3 88.4h.01M317 87.6h.01M318.9 88.6h.01M320.1 87.2h.01M326.2 91.5h.01M309.3 90.4h.01M315.6 86.4h.01M319.3 88.6h.01M320.6 88.7h.01M321 90.6h.01M318.7 90.3h.01M315.8 88.5h.01M318.9 91.8h.01M314.6 95.3h.01M324.9 87.8h.01M321.9 90.2h.01M318.5 87.8h.01M324.6 88.6h.01M317.1 87.8h.01M325.1 94.1h.01M311.7 87.7h.01M318.9 88.8h.01M316.1 86.7h.01M318.7 87h.01M319.9 96.4h.01M315.2 93.8h.01M319 88.2h.01M316.1 87h.01M317.4 91.6h.01M321.3 89.5h.01M312.1 88.8h.01M324.3 91.4h.01M317.7 84.3h.01M315.1 90.8h.01M312.6 92.6h.01M315.1 87.1h.01M314.7 89.1h.01M321.7 88.9h.01M309.6 88.4h.01M318.9 94h.01M311.8 92.8h.01M319.9 91.3h.01M314.2 87h.01M312.8 91.5h.01M317.8 92.6h.01M325 90.9h.01M316.3 94.6h.01M311.8 87.8h.01M315.8 88.5h.01M318.1 87.6h.01M322.7 86.9h.01M314.3 84.9h.01M311 90.4h.01M320 89.6h.01M320.6 91.8h.01M314.7 89.3h.01M318 95.1h.01M315.2 90.4h.01M319.1 93.2h.01M318.6 92.7h.01M312.7 88.4h.01M308.9 88.4h.01M327.1 91.7h.01M317.5 90.5h.01M318.3 86.4h.01M314.3 88.8h.01M318.2 87.6h.01M317 87.8h.01M311.8 87.2h.01M313.4 91.4h.01M322.7 92h.01M316.5 88.2h.01M310.7 87.4h.01M323.5 93.6h.01M318.2 89.2h.01M317.1 90.8h.01M317 90.8h.01M313.9 89.4h.01M315.3 92.3h.01M311.4 92.3h.01M317 88.4h.01M317.2 90h.01M316 90.7h.01M315.3 85h.01M320.2 90.1h.01M324.2 91.7h.01M308.2 91.7h.01M314.1 90.7h.01M326.3 93.8h.01M312.5 88.8h.01M310.1 90.5h.01M320 87.4h.01M318.8 92.4h.01M320.9 88.5h.01M314.6 86.4h.01M311.6 89.7h.01M316.9 93.1h.01M318.5 89.1h.01M310.5 92.8h.01M317.9 89.7h.01M313.3 86.4h.01M320.3 87.6h.01M319.5 91.7h.01M316.1 85.3h.01M318.5 93.6h.01M314.1 86h.01M321.8 90.7h.01M314.1 92.5h.01M315.9 90.7h.01M315.7 87.6h.01M318.4 87.7h.01M309.8 87.3h.01M322.1 93.3h.01M326.1 93.6h.01M324 91.3h.01M315.2 90.7h.01M312.9 91h.01M315.2 90.1h.01M313.6 88.9h.01M321.5 89.8h.01M314.2 90h.01M321 89.8h.01M312.8 85.1h.01M311.1 91.6h.01M316.6 90.9h.01M321.7 91.1h.01M319.4 88.7h.01M310.1 90.4h.01M316.6 91.1h.01M312.7 88.7h.01M326.1 88.8h.01M317.1 93.1h.01M316.2 89.9h.01M307.8 90.4h.01M314.9 92.7h.01M316.9 88.7h.01M319.1 89.4h.01M314.4 93.3h.01M321.4 90.6h.01M320.4 92.3h.01M319.7 90.2h.01M317.4 90.8h.01M319.5 91h.01M314.9 89.2h.01M319.5 87.5h.01M316.9 91.6h.01M318 89.1h.01M317.3 88.5h.01M321.5 89.4h.01M310.5 85.7h.01M318.4 90.4h.01M315.6 86.1h.01M316.9 87.5h.01M314.4 89.3h.01M313.8 90.1h.01M314.2 88.1h.01M315.7 93.3h.01M323.6 93.1h.01M314.1 89.3h.01M320.8 92.3h.01M310.3 88.6h.01M313.8 91.2h.01M320.1 88.8h.01M326.4 90.3h.01M327.7 90.8h.01M316.2 94.5h.01M315.1 88.2h.01M323.5 90.5h.01M319.7 86.9h.01M324.5 93.3h.01M318.5 91.7h.01M315.2 88.3h.01M310.4 89.7h.01M322.2 92.6h.01M320.9 92.1h.01M313.7 85.9h.01M319.9 90.5h.01M321.5 89.6h.01M313.3 90.3h.01M315.4 85.3h.01M314.9 87.2h.01M312.6 87.7h.01M320.4 96.2h.01M324.7 89.7h.01M322.1 90.2h.01M319.1 88.3h.01M317.5 85.5h.01M325.1 88.9h.01M319.9 88.6h.01M318.8 87h.01M315.3 91.8h.01M320.4 85.2h.01M321.3 87h.01M318.2 91.2h.01M314.6 88.6h.01M316 90.6h.01M320.6 93.7h.01M317.9 94.9h.01M312.5 93.6h.01M315.8 91.5h.01M316.6 89.9h.01M313.1 90.2h.01M325.8 91.3h.01M317.1 89.7h.01M320.3 89.7h.01M317.1 90.3h.01M322.4 92.9h.01M312.9 87.5h.01M317 91.9h.01M321.4 89.8h.01M326.3 90.6h.01M322.7 94.1h.01M323.9 91.2h.01M320.2 86.3h.01M309.8 87.2h.01M319.9 92.8h.01M316.4 92.3h.01M319.1 93.9h.01M310.7 86.7h.01M313.5 86.6h.01M324.5 88.4h.01M313.8 88.3h.01M321.1 89.1h.01M320.1 91.6h.01M315.3 83.5h.01M313.7 86.1h.01M324.4 88.9h.01M312.5 90h.01M317.8 87.4h.01M321.5 92.7h.01M318.7 88h.01M314.2 84.1h.01M318.7 90.9h.01M313.3 89.3h.01" stroke="#6e6e6e" stroke-width="0.62" stroke-linecap="square" fill="none"/>
<path d="M301 12.5H397.5V102.5" stroke="#8c8c8c" stroke-width="1" fill="none"/>
<path d="M301 12V102.5H398" stroke="#7e7e7e" stroke-width="1.05" fill="none"/>
<path d="M301 95.7h-2.5M301 91.8h-2.5M301 89h-2.5M301 86.8h-2.5M301 85h-2.5M301 83.5h-2.5M301 82.2h-2.5M301 81h-2.5M301 80h-3.9M301 73.2h-2.5M301 69.3h-2.5M301 66.5h-2.5M301 64.3h-2.5M301 62.5h-2.5M301 61h-2.5M301 59.7h-2.5M301 58.5h-2.5M301 57.5h-3.9M301 50.7h-2.5M301 46.8h-2.5M301 44h-2.5M301 41.8h-2.5M301 40h-2.5M301 38.5h-2.5M301 37.2h-2.5M301 36h-2.5M301 35h-3.9M301 28.2h-2.5M301 24.3h-2.5M301 21.5h-2.5M301 19.3h-2.5M301 17.5h-2.5M301 16h-2.5M301 14.7h-2.5M301 13.5h-2.5M301 12.5h-3.9M308.3 102.5v1.9M312.5 102.5v1.9M315.5 102.5v1.9M317.9 102.5v1.9M319.8 102.5v1.9M321.4 102.5v1.9M322.8 102.5v1.9M324 102.5v1.9M325.1 102.5v3.4M332.4 102.5v1.9M336.6 102.5v1.9M339.6 102.5v1.9M342 102.5v1.9M343.9 102.5v1.9M345.5 102.5v1.9M346.9 102.5v1.9M348.1 102.5v1.9M349.2 102.5v3.4M356.5 102.5v1.9M360.8 102.5v1.9M363.8 102.5v1.9M366.1 102.5v1.9M368 102.5v1.9M369.6 102.5v1.9M371 102.5v1.9M372.3 102.5v1.9M373.4 102.5v3.4M380.6 102.5v1.9M384.9 102.5v1.9M387.9 102.5v1.9M390.2 102.5v1.9M392.1 102.5v1.9M393.8 102.5v1.9M395.2 102.5v1.9M396.4 102.5v1.9M397.5 102.5v3.4" stroke="#8e8e8e" stroke-width=".75" fill="none"/>
<path d="M337.1 12.5V102.5M301 69.0H397.5" stroke="#3e3e3e" stroke-width="1.2" fill="none"/>
<text x="395.6" y="20.4" text-anchor="end" class="pc">0.3%</text>
<text x="395.6" y="76.6" text-anchor="end" class="pc">0.7%</text>
<ellipse cx="432.4" cy="90.9" rx="11.3" ry="7.1" transform="rotate(11 432.4 90.9)" fill="url(#rg)" opacity="1.0"/>
<path d="M451.4 87.1h.01M433 88.6h.01M425.2 84.7h.01M428.9 94.3h.01M436.4 95.7h.01M438.5 73.6h.01M444.3 97.2h.01M437.7 76h.01M430.1 91h.01M451.4 89.5h.01M431 82.3h.01M445.8 97.5h.01M428.1 76.5h.01M419.8 80.5h.01M423.5 81.6h.01M437.1 92.4h.01M433.1 76.6h.01M432.5 83.3h.01M422.6 73.5h.01M451.1 99.1h.01M451.5 93h.01M431.7 87.6h.01M420.2 91.6h.01M439.4 87.5h.01M446 88.4h.01M436.7 93.4h.01M436.7 97.1h.01M432.1 70.9h.01M420.2 91h.01M447.7 91.4h.01M441.7 90.8h.01M438.6 86h.01M430 96.8h.01M433.2 88.2h.01M447.6 98.7h.01M431.4 90.1h.01M424.9 87.9h.01M439.4 89.7h.01M437.3 92.1h.01M437.5 85.7h.01M425.9 85.3h.01M453.7 90.8h.01M429.7 84.3h.01M422.5 90.1h.01M424.1 93.6h.01M445 95.1h.01M447.4 90.7h.01M445.1 79.3h.01M421.3 94.4h.01M438.9 99.8h.01M443.2 91h.01M439.5 96.1h.01M436 87.5h.01M439.9 87.5h.01M463.2 88.6h.01M421.4 76.6h.01M447.9 88.4h.01M438.1 87.9h.01M441.1 79.2h.01M437.8 85.1h.01M446.9 95.9h.01M423.8 79.4h.01M440.5 98.9h.01M444.6 89.6h.01M451.4 74.4h.01M431.6 80.9h.01M424.1 91h.01M438.6 91.7h.01M433.7 93.3h.01M445.3 86.6h.01M447.5 84.3h.01M457 83.4h.01M434.5 80.6h.01M434.6 98.7h.01M425.4 100.4h.01M450.8 94.9h.01M428.4 94.4h.01M446.6 90.8h.01M464 89.5h.01M421.9 84.7h.01M450.8 86.9h.01M432.8 79.3h.01M443.2 96.7h.01M442.1 92.1h.01M447 90.3h.01M442.7 96.5h.01M449.5 95.6h.01M436 94.4h.01M421.6 73h.01M453.5 93.5h.01M425.4 82.6h.01M434.3 89.3h.01M426.3 94.7h.01M421.8 98.9h.01M445.7 78.3h.01M422.6 86.9h.01M439.6 86.6h.01M436 90.3h.01M423.4 87.1h.01M461.9 89.2h.01M424 91.8h.01M449.3 99.5h.01M429.2 87.2h.01M438.6 88h.01M438.9 97.8h.01M442.1 90.2h.01M431.3 101.7h.01M419.7 101h.01M444 91.3h.01M425.3 100.9h.01M448.1 98.3h.01M461.6 80.5h.01M437.6 87.1h.01M427.9 88.1h.01M441.2 94.1h.01M453.9 81.3h.01M456.1 80.7h.01M457.2 79h.01M459.3 76.8h.01M444.9 86.9h.01M454.6 81.2h.01M454 81.6h.01M445.4 88.2h.01M446.5 88.8h.01M445.4 85.6h.01M455.5 78.6h.01M459.6 78h.01M457 81.8h.01M460.6 76.7h.01M446.8 86.1h.01M460.6 76.3h.01M459.8 80.4h.01M451.3 82.4h.01M454 81.5h.01M454 80.9h.01M454.6 80.7h.01M454.8 79.5h.01M457 77.9h.01M461.4 78.6h.01M450.4 81.7h.01M459.5 77.9h.01M449.2 83.8h.01M456.9 81.1h.01M448 86.6h.01M457.5 79.1h.01M452.6 83.7h.01M454.9 81.1h.01M447 87.4h.01M452.7 81.9h.01M445 86.6h.01M456.8 81.1h.01M447.1 84.2h.01M454.7 81.1h.01M455.8 77.8h.01M455.6 80.2h.01M445.6 85.3h.01M457.5 77.9h.01M460.6 75.8h.01M449.7 86.2h.01M468.5 25h.01M465.6 26.6h.01M465 26h.01M463.6 29.1h.01M467.6 23.5h.01M463.8 28.5h.01M469.8 20.6h.01M467.2 25.4h.01M466.6 28.7h.01M462.1 29.9h.01M463.9 29.4h.01M464.7 29h.01M467.8 23.9h.01M461.6 31.5h.01M462.4 30.5h.01M465.7 27h.01M445.1 57.4h.01M449.5 43.9h.01M445.8 56.3h.01M447.8 52.4h.01M451.7 47.5h.01M442.9 61.4h.01M450.8 46.5h.01M440.6 62.6h.01M450 53.5h.01M450.5 49.1h.01M446.8 59.4h.01M452.5 44.9h.01M468.4 90.6h.01M467.9 95.1h.01M473.3 91.5h.01M472.3 98.5h.01M467.6 92.9h.01M468.7 94.9h.01M473.9 91.7h.01M472.4 90.3h.01M465.7 93.6h.01M475.4 91.3h.01M485.8 84.1h.01M500.8 94.2h.01M473.7 48.9h.01M437 60.1h.01M461.4 17.9h.01M506 42.5h.01M501.7 19.2h.01M461.7 80.6h.01M483.6 71.7h.01M470.7 25.2h.01M494.7 78.8h.01M469.9 62.9h.01" stroke="#c6c6c6" stroke-width="0.8" stroke-linecap="square" fill="none"/>
<path d="M429.2 79.7h.01M434.9 85.1h.01M430.9 91.9h.01M440.1 95.2h.01M445 86.5h.01M436.7 98.5h.01M437.1 86.3h.01M436.6 89h.01M427.8 94.5h.01M433 85.5h.01M426.8 98.4h.01M426.8 92.5h.01M433.6 96.1h.01M432.1 86.1h.01M429.7 85.3h.01M451.5 95.1h.01M430 95.8h.01M438.1 90.8h.01M437.5 92.7h.01M439.9 99.5h.01M431.1 90.1h.01M431 95.8h.01M435.4 94.7h.01M440.2 89.1h.01M433 97h.01M439.1 95.5h.01M431.6 88.7h.01M427.5 88.3h.01M434.1 84.3h.01M442.2 88.9h.01M434.6 93.7h.01M431 82h.01M439.8 93.8h.01M430.6 95.3h.01M440.5 87.7h.01M434.3 82.8h.01M430.3 96.6h.01M426.7 93.2h.01M422.9 87.3h.01M438.5 99.6h.01M435.9 94.7h.01M447.5 82.3h.01M419.7 96.7h.01M450.2 96.7h.01M433.6 91.9h.01M434 88h.01M433.3 90.1h.01M437.5 94.6h.01M439.7 94.6h.01M425.3 95.5h.01M436.1 88.8h.01M447.4 88.5h.01M425.5 86.9h.01M435.6 94.8h.01M433.5 93.8h.01M428.9 87.1h.01M435.4 85h.01M435 89.2h.01M439 87.2h.01M430.1 87.5h.01M431.6 85.8h.01M432.6 84.4h.01M436.5 94.4h.01M433.4 89.8h.01M427.9 85.3h.01M432.6 86.4h.01M424.9 89.8h.01M433.5 88.9h.01M427.7 89.3h.01M428.8 87.9h.01M434 94.1h.01M439.1 89.1h.01M442.8 87.3h.01M431 96.2h.01M449.9 94.5h.01M431.1 88.6h.01M424.9 88.4h.01M431 86.8h.01M442.4 88.9h.01M444.5 96.7h.01M438.3 89h.01M431.5 81.2h.01M435.5 89.9h.01M436.6 88.3h.01M438 84.8h.01M443.5 78.3h.01M442.6 90.9h.01M433.5 83.7h.01M425.7 92.5h.01M428.2 89.5h.01M430.5 99.2h.01M440.7 86.1h.01M430.9 85h.01M424.2 85.8h.01M441 92.4h.01M438.1 91h.01M430.3 90.5h.01M431.1 99.1h.01M445.5 94.8h.01M439.2 82.7h.01M430.4 101.1h.01M427 93.2h.01M442.2 90.6h.01M432.1 88.4h.01M438.8 91.9h.01M442.8 98h.01M431.7 87.6h.01M432.4 86.5h.01M430.4 89.8h.01M440.9 84.9h.01M424.2 85.4h.01M430.8 92.3h.01M426.5 96.3h.01M429.8 89h.01M432.7 95.9h.01M435.4 91.2h.01M429.4 90.7h.01M436.4 89.7h.01M434.7 82.5h.01M428.6 95.2h.01M443.3 92.3h.01M429.6 94.6h.01M427.8 95.9h.01M442.3 87.6h.01M432.8 85h.01M435.6 89.3h.01M423.7 84h.01M436.3 84.3h.01M440.4 94.1h.01M430.8 96.6h.01M426.3 92.5h.01M424.1 87.4h.01M438.2 89.2h.01M431.9 93.4h.01M442.8 98.5h.01M436.7 90.2h.01M421.7 96.3h.01M448.2 83.7h.01M439.4 91.7h.01M437.9 93h.01M431.9 90.4h.01M432 95.8h.01M431.9 87.9h.01M437.3 94.4h.01M436.1 92.5h.01M442.6 97.6h.01M434.9 90h.01M439.5 83.3h.01M430.3 86.8h.01M434.8 89.2h.01M449.8 97.3h.01M434.1 101.2h.01M433.5 89.3h.01M441.1 96h.01M438.7 97.3h.01M431.3 87.3h.01M428.2 90.2h.01M441.1 87.4h.01M430.7 84h.01M446.5 96.9h.01M435.8 85.6h.01M426.7 86.4h.01M434.6 85.1h.01M430.6 95.8h.01M433.3 91.1h.01M419 86.6h.01M432.8 87.4h.01M423.7 88.5h.01M426.6 86.9h.01M422.3 88.1h.01M440.3 88.2h.01M436.8 84.4h.01M436.8 93.9h.01M429.8 94.1h.01M427.1 89.7h.01M445 92.8h.01M424.5 94.3h.01M437.2 90.2h.01M422.3 79.9h.01M421.4 95.2h.01M436 87.3h.01M440 98.7h.01M427 91.7h.01M421.5 90.1h.01M447.1 86.9h.01M434.2 87.9h.01M432.5 90.9h.01M434.4 95h.01M435.9 96h.01M439.4 96.9h.01M428.2 91.6h.01M431.4 86.4h.01M446.6 94.6h.01M435.4 81.4h.01M431 93.8h.01M432.3 88h.01M443.8 91.3h.01M431 89.8h.01M430.7 95h.01M437.3 91.1h.01M431 89.2h.01M445.3 91.6h.01M439.2 84.6h.01M434.9 94.2h.01M441.8 93.8h.01M437 92.9h.01M438.9 101.2h.01M435.4 87.3h.01M437.5 91h.01M437 95h.01M434.7 88.9h.01M436.5 85.5h.01M435.9 87.1h.01M436.3 91.8h.01M432.8 85h.01M434.2 87.7h.01M431.7 93.6h.01M441 86.2h.01M438.6 98h.01M440.8 93.4h.01M431.1 98.3h.01M432.4 83.5h.01M433.6 92.1h.01M427.2 83.9h.01M446.9 93.8h.01M439.2 89.1h.01M422.9 87.8h.01M447.1 84.2h.01M441.8 87.3h.01M440.1 90.4h.01M443.8 85.6h.01M450.4 83.8h.01M441.5 87.7h.01M440.3 87.3h.01M444.2 85.1h.01M447.3 83.5h.01M446.4 84.9h.01M450.5 84.3h.01M440.4 88.8h.01M446.6 82.9h.01M447 85.8h.01M449.4 82h.01M449.9 82.4h.01M448 83.9h.01M449.8 83.8h.01M440.3 91h.01M445.9 84.1h.01M449.2 82h.01M445.1 84.5h.01M441.9 89.4h.01M444.3 87.2h.01M439.6 87.9h.01M441.5 87.4h.01M448.4 82.5h.01M447.7 83h.01M443.2 85.6h.01M443 87.4h.01M448.2 84.9h.01M446.7 84.2h.01M441.9 89.5h.01M447.9 84.4h.01M443.3 88.8h.01M442.3 87.3h.01M447.8 84.8h.01M449.2 83h.01M443.6 86.4h.01M445.3 86.9h.01" stroke="#9c9c9c" stroke-width="0.66" stroke-linecap="square" fill="none"/>
<path d="M432.4 89.4h.01M432.4 93.6h.01M429 89.1h.01M424.3 91.3h.01M434.6 95.6h.01M426 95.9h.01M436.4 90.9h.01M430.8 89.7h.01M426.7 92h.01M430.1 88.4h.01M434.6 91.7h.01M430 89.8h.01M429.5 94.2h.01M437.2 89.8h.01M431.5 94.6h.01M430.2 95.6h.01M434 93.1h.01M422.8 91.5h.01M433.6 92.8h.01M434.2 92.8h.01M429.7 92.9h.01M433.2 88.1h.01M427.8 90.5h.01M435.1 85.1h.01M422.8 92h.01M430.8 98.7h.01M425.8 88.9h.01M429.5 91.9h.01M437.7 96.6h.01M427.3 93.4h.01M426.9 90.7h.01M432.8 92.8h.01M428.2 93.9h.01M432.1 90.8h.01M431.8 87.7h.01M435.4 92.4h.01M433.4 96.4h.01M428.7 89.4h.01M432 93.3h.01M431.1 93.3h.01M435.4 86.4h.01M430.5 84.7h.01M431.4 89.5h.01M434.9 91.9h.01M431.4 94.3h.01M435.7 88h.01M429.2 91.2h.01M440 91.8h.01M431.5 91.5h.01M435.9 91.3h.01M433.9 90h.01M430.4 88.2h.01M435.6 89.9h.01M434.6 92.5h.01M438.1 84.3h.01M428.8 86.7h.01M431.2 93h.01M442.7 97.3h.01M438.2 93.1h.01M430.4 92h.01M422.3 91.6h.01M432.1 92.6h.01M428.4 87h.01M429.6 90.2h.01M434.1 90.2h.01M433.6 93.1h.01M427.3 89.6h.01M425.8 88h.01M436.8 89.7h.01M440.3 93.9h.01M436.3 92h.01M435.6 94.7h.01M433.2 89.5h.01M428.9 95.8h.01M431.8 89.5h.01M430.2 85.6h.01M430 91.4h.01M430.7 88.4h.01M434 92.5h.01M430.3 91.4h.01M427.6 92.4h.01M428.2 89.1h.01M433.2 89.9h.01M426.2 95.7h.01M440 87.4h.01M433.6 87.5h.01M434.5 87.6h.01M434.7 92.9h.01M439.3 95.7h.01M429.9 93.1h.01M430.4 90.2h.01M431.1 85.6h.01M436.2 85.8h.01M431.1 92.2h.01M433.8 86.6h.01M429.2 92.2h.01M436.4 96.3h.01M424.1 90.6h.01M429.9 92.6h.01M425 89.1h.01M435.9 89.7h.01M431.3 87.9h.01M438 88.2h.01M428.5 89.2h.01M429.9 96.5h.01M434.1 88.8h.01M434.8 92.3h.01M433.7 91h.01M435.1 88h.01M427.3 88.7h.01M427.2 91.9h.01M440.3 96h.01M434.2 92.2h.01M430.1 86.7h.01M435.6 87.3h.01M433.8 90.8h.01M435.7 91.7h.01M433.2 89.4h.01M425 88.5h.01M434.9 94.4h.01M439 89.3h.01M427.9 92h.01M429 97.6h.01M434.6 87h.01M429.1 94.8h.01M424.3 89.8h.01M425.4 94.1h.01M431 87.7h.01M425.2 87.5h.01M421.4 87.4h.01M442 93h.01M431.9 87.5h.01M434.2 89.9h.01M427.9 94h.01M434.8 88.8h.01M439 92h.01M434.5 91.7h.01M437.3 93.6h.01M430.5 92.6h.01M430.6 90.9h.01M440.2 89.4h.01M428 88.9h.01M429.5 94.1h.01M424.1 95.9h.01M439.6 91h.01M433.4 90.1h.01M435 93.3h.01M435.3 93.7h.01M441 92.1h.01M435.6 91h.01M432.5 91.5h.01M432 91.8h.01M428.7 89.7h.01M430.4 87.1h.01M429.5 88.9h.01M432.6 86.4h.01M431.9 87.5h.01M428.7 90.7h.01M437.1 92.6h.01M430.5 89.3h.01M439.2 87.5h.01M438.2 87.7h.01M429.6 90.5h.01M430.5 95.3h.01M434.6 91.2h.01M436.6 91.8h.01M428.2 93.3h.01M438.3 95.7h.01M426.2 95.2h.01M430.1 92.7h.01M436.4 98.5h.01M425.8 86.7h.01M437.3 93.3h.01M432.6 82.5h.01M434.4 90.8h.01M419.4 96.1h.01M421.6 87.2h.01M432.3 91.5h.01M435.9 90.8h.01M428.6 89.1h.01M423.7 86h.01M441.5 90.7h.01M431 96.1h.01M437 92.1h.01M435.8 90.8h.01M427.9 92.9h.01M432.1 95.5h.01M431.4 89.6h.01M434 90.7h.01M431.5 88.1h.01M433.4 92h.01M440.5 92.4h.01M424.4 90.7h.01M442.8 91.6h.01M428.9 89.7h.01M419.9 87.5h.01M432.4 86.5h.01M435.4 89h.01M424.6 87.3h.01M434.2 96.8h.01M437.8 92.5h.01M430.3 89.7h.01M437 90.3h.01M433.7 93.9h.01M428.7 88.5h.01M434.4 91.3h.01M432.1 89.3h.01M431.1 96h.01M439.3 87.6h.01M432.6 91.2h.01M433.3 87.1h.01M431.7 91.2h.01M429.2 91.2h.01M422.4 84.6h.01M432.6 92.1h.01M431.9 89.5h.01M432.6 94.1h.01M436.4 91.5h.01M429.8 93.5h.01M434.3 93.8h.01M431.6 88.3h.01M433.6 89.3h.01M437 94.3h.01M422.4 90.9h.01M437.7 94.9h.01M430.8 88.1h.01M436.2 94.6h.01M433.3 87.7h.01M425.5 90.3h.01M429.1 88.3h.01M433.8 94.2h.01M423.6 87.3h.01M438.2 91.9h.01M430.5 92.4h.01M428 86.5h.01M431.6 95.3h.01M436.9 91.8h.01M437.1 90.6h.01M428.1 85.2h.01M433.1 93.6h.01M434.1 91.1h.01M430 93.6h.01M433 86.8h.01M438.8 90.3h.01M434.1 91.2h.01M436.9 92.5h.01M437.7 92.5h.01M430.6 89.1h.01M435.7 89.1h.01M436.6 91h.01M428.8 87.7h.01M430.8 95.7h.01M435.8 91.6h.01M427.4 95.4h.01M431.2 90.7h.01M429.8 94.3h.01M433.4 89.8h.01M433.8 88.3h.01M427.8 89.5h.01M419 91.7h.01M441.8 89.5h.01M432.6 86.4h.01M433 91.6h.01M436.4 87.8h.01M430.1 88.6h.01M430.1 97.1h.01M431.5 90.6h.01M429.7 92.7h.01M443.1 96.4h.01M439.8 89.2h.01M437.1 91.9h.01M437.4 94.9h.01M436.2 86.8h.01M433.3 89.6h.01M434.4 91.4h.01M437.9 87.3h.01M429.2 90.1h.01M434 90h.01M432.2 91h.01M437.1 91.5h.01M434.5 86h.01M421.6 84.6h.01M435.2 84.8h.01M434.3 91h.01M432.8 88.9h.01M430.1 92.9h.01M434 91.1h.01M430.1 91.1h.01M437.7 91.9h.01M431.4 87.3h.01M433.3 88.4h.01M425.5 92.1h.01M430.7 84.7h.01M428.2 95.4h.01M432.6 87.1h.01M427.1 92h.01M434.1 91.8h.01M431.3 92.1h.01M439 93.6h.01M432.4 86.8h.01M433.5 95.7h.01M436 87.9h.01M432.5 94.7h.01M429.3 91.7h.01M436.9 96.5h.01M426.3 84.6h.01M433.7 93.2h.01M430.8 90.5h.01M429.9 93.9h.01M422.4 89.7h.01M427.1 87.9h.01M426.1 87h.01M432.3 91h.01M440.5 91.8h.01M433.7 92.2h.01M432.7 95.2h.01M432.9 91.4h.01M431.9 90.8h.01M431.6 93.6h.01M432.5 91.1h.01M431.8 93h.01M429.8 93.1h.01M429.5 92.3h.01M440.8 93.2h.01M432.7 87.5h.01M435.7 91.6h.01M436.8 89.8h.01M433.7 96.4h.01M434.4 90.3h.01M426.6 89.7h.01M435 93.1h.01M428 87.1h.01M428.6 87.2h.01M431 91.4h.01M440.9 93.1h.01M439.8 87.5h.01M438.8 94.5h.01M433.9 93.6h.01M434.1 96.8h.01M436.9 86.7h.01M423.7 93.9h.01M431.3 94.5h.01M431.2 88.8h.01M430.7 91.5h.01M433.6 89.3h.01M434.5 93.1h.01M428.9 87h.01M423.8 88.3h.01M432.8 89h.01M429.8 90h.01M432.2 92.5h.01M435.9 92.9h.01M437.9 89.1h.01M434.9 92.5h.01M428.1 88.1h.01M434.3 91.5h.01M427.1 88.3h.01M438.7 94.6h.01M432 94.8h.01M428.4 89.6h.01M436.9 90.8h.01M427.1 91.6h.01M440.9 85.2h.01M433.8 87.5h.01M431.8 86.7h.01M444.4 91.2h.01M433 89h.01M428.2 88.8h.01M432.4 96h.01M432.8 95.6h.01M427.6 90.2h.01M431.3 86.1h.01M449.2 93.5h.01M433.9 89h.01M430.4 87.5h.01M437.2 90.7h.01M431.7 91.3h.01M426.8 90.5h.01M431.4 92h.01M430.7 90.7h.01M434.2 94.1h.01M428.8 93h.01M428.1 89.5h.01M432.9 91.4h.01M421.8 86h.01M431.1 93.3h.01M428.4 94.5h.01M424.3 89.6h.01M434.8 91.4h.01M433.1 93.8h.01M428.5 91.9h.01M437.3 91.2h.01M422.7 85.5h.01M429.2 87.2h.01M434.8 89h.01M443.2 94.7h.01M426.7 89h.01M438.8 94.1h.01M427.3 92.9h.01M429.1 96.7h.01M429.6 92.1h.01M435.2 90.1h.01M431.1 94h.01M434.7 91.2h.01M433.4 96.2h.01M436.3 93h.01M434.7 86.8h.01M433.3 89.6h.01M436 89.8h.01M435 88.3h.01M436.8 89.6h.01M432 92.5h.01M431 90.6h.01M436.2 96.8h.01M424.8 86.8h.01M434.9 94.1h.01M430.2 90.8h.01M430.3 97.1h.01M432.2 87.4h.01M426.2 86h.01M438.4 90.9h.01M440.7 94.4h.01M433.8 93h.01M435.4 94.2h.01M428.4 88.5h.01M429.9 90.7h.01M432 87.2h.01M428.3 95.3h.01M442.3 90.3h.01M434.1 91.1h.01M428.2 92.2h.01M431.2 95.5h.01M434.6 90.4h.01M420.6 88.3h.01M436.6 89.6h.01M436 93.6h.01M424.6 88.8h.01M433.4 93.3h.01M433.1 91h.01M431 89.8h.01M433 87.9h.01M435.4 90.5h.01M435 89.9h.01M434.2 91.6h.01M436.1 93h.01M436.7 91.2h.01M432.3 90.1h.01M426.9 89.5h.01M436.8 94h.01M428.4 91h.01M436.5 87.7h.01M433.8 92.1h.01M435.6 92.3h.01M425.7 83.7h.01M441.5 91.5h.01M437.4 95.6h.01M433.4 87.8h.01M438.5 92h.01M434.5 92.7h.01M436.1 94.6h.01M426.8 85.7h.01M433 91h.01M435.9 91.2h.01M430.5 96.4h.01M437.9 95.3h.01M437.5 89.6h.01M432.1 90.6h.01M428 87.5h.01M433.8 87.6h.01M434.6 92.7h.01M431.5 89.7h.01M434.8 92.8h.01M434.7 87.8h.01M424 95.2h.01M429.7 89.3h.01M424.7 87.1h.01M428.7 92.5h.01M421.4 84.7h.01M430.8 89.2h.01M429.2 89h.01M425.2 90.3h.01M437.6 92.4h.01M429.3 94h.01M435.1 88.4h.01M430.2 88.7h.01M431.5 94.3h.01M429.3 89.9h.01M433.6 87.7h.01M429.9 92.2h.01M438.5 86.6h.01M435.7 90.7h.01M437.8 93.8h.01M441 93.5h.01M431.1 88.2h.01M425.7 91.2h.01M434.3 93.6h.01M434.8 87h.01M430.7 89.9h.01M432.7 93.2h.01M438.6 92.9h.01M423.8 86.3h.01M423.3 86.9h.01M426.9 90.5h.01M430.8 93.8h.01M437.5 90.6h.01M436.6 91.8h.01M433.7 95.1h.01M427.3 89.7h.01M439.7 90.1h.01M433.3 91.5h.01M431.3 86.9h.01M429.9 87.6h.01M437.1 92.5h.01M436.2 88.2h.01M434.6 91.7h.01M437.5 89.8h.01M435.3 95.4h.01M441 89.9h.01M428.2 85.8h.01M436.4 93.4h.01M434.4 88.8h.01M437.1 96.5h.01M432.3 90.5h.01M437.4 93.3h.01M438.6 90.9h.01M434.1 90.3h.01M430 89.6h.01M430.9 92.1h.01M431 90.8h.01M429.5 86.8h.01M439.3 89.4h.01M440 95.1h.01M422.5 87.1h.01M430.5 90.6h.01M431.9 89.1h.01M438.1 91.6h.01M437.1 89.8h.01M428.6 94h.01M431.7 87.6h.01M431.1 93.7h.01M432.1 88.8h.01M434.7 94.2h.01M431.7 89.8h.01M429.3 98.1h.01M430.6 95.6h.01M431.5 91.9h.01M423.2 89.6h.01M432.8 90.1h.01M431.3 86.8h.01M425.7 90.1h.01M429.6 90.1h.01M431.9 89.3h.01M428.2 95.4h.01M427.8 88.5h.01M431.7 87.4h.01M427.7 92.5h.01M436.5 92.1h.01M446.4 96h.01M438.3 89.7h.01M436.3 96.5h.01M429.7 95.6h.01M429.4 87h.01M432.6 88.6h.01M435.8 88.4h.01M433.8 85.5h.01M431.7 93.8h.01M431.1 91.5h.01M437.9 88.8h.01M426.7 90h.01M433.8 90.4h.01M427.4 93.4h.01M427.4 89.2h.01M431.8 92.9h.01M430.9 88.2h.01M441.8 90.3h.01M436.1 91.2h.01M430.3 90.4h.01M431.1 91.5h.01M421.1 88.6h.01M433.3 88.3h.01M429.4 97.1h.01M440.3 94.3h.01M433.6 90.3h.01M438.8 90.9h.01M428.4 92.1h.01M428.5 87.9h.01M439.7 87.7h.01M432.1 91.2h.01M434.4 87.1h.01M431.6 89.8h.01M440.4 95.4h.01M428.6 92.7h.01M435.4 91.2h.01M431.5 89.9h.01M425.9 87.8h.01M435.8 95.7h.01M440.9 91.5h.01M436.5 84.8h.01M431.9 87.2h.01M437 87h.01M428.4 86.9h.01M433.7 93.6h.01M427.3 95.1h.01M433.6 88.7h.01M434 91.2h.01M435.9 92.6h.01M441.5 96.1h.01M429.1 92.5h.01M436.4 88.8h.01M429.5 88h.01M421.1 90.5h.01M430.8 94.1h.01M429.9 90.6h.01M435.1 94.2h.01M434.4 88.3h.01M441.8 95.2h.01M437.6 96.6h.01M438.5 93.3h.01M434.2 93.1h.01M425.3 91.9h.01M427.9 91.2h.01M427.5 92h.01M428.9 97.4h.01M433 92.5h.01M428.5 89.3h.01M432.3 90.1h.01M431 88.1h.01M436 90.5h.01M428.6 91.2h.01M428.9 89.7h.01M430.6 87.9h.01M431.9 88.4h.01M426.7 90.8h.01M431.9 86.6h.01M430.6 91.1h.01M434.1 92.3h.01M433.2 92.8h.01M430.7 88.3h.01M435.4 90.3h.01M432.1 92.7h.01M436 95.1h.01M429.6 89.3h.01M435.7 87.4h.01M426.5 91.5h.01M430.2 87.8h.01M435.7 93.1h.01M436.7 90.8h.01M431.3 89.7h.01M434.8 85.5h.01M429 92.3h.01M429 90.1h.01M432.7 92.5h.01M430.9 87.4h.01M443.9 91.1h.01M441 87.5h.01M433 90.5h.01M439.8 98.2h.01M437.3 88.9h.01M429.3 88.1h.01M430 91.2h.01M429.1 89.5h.01M438.2 96.2h.01M424.7 86.7h.01M430.1 94.2h.01M429.9 95.9h.01M433.3 95.2h.01M428.8 89.3h.01M436.7 93.4h.01M424.3 88.5h.01M432.9 92.8h.01M428.7 95.2h.01M432.3 95h.01M434.2 91.5h.01M431.7 87.4h.01M435.9 93.8h.01M436.8 90.7h.01M428.2 89h.01M431.1 90.6h.01M437.3 89.2h.01M429.9 92.4h.01M435.3 97.8h.01M435.2 89h.01M428.3 87.8h.01M432.6 91.7h.01M432.5 89.2h.01M431.7 90.5h.01M435 91.7h.01M429.5 87h.01M439.1 92h.01M431.7 90.7h.01M437.6 91h.01M433.4 90.4h.01M435.6 88.6h.01M432.8 93.9h.01M437.4 93.6h.01M432.9 95.5h.01M434.8 95.4h.01M427.7 86.9h.01M436.1 90.9h.01M431.1 87.9h.01M439.7 88.9h.01M433.7 87.2h.01M430.5 97h.01M443.5 91.7h.01M427.1 94.5h.01M429.6 85.3h.01M434.6 88.2h.01M425.4 92.8h.01M429.8 87.4h.01M433.3 90.5h.01M437.4 92.1h.01M438.9 95.4h.01M439.7 95.5h.01M432.5 92.5h.01M433.4 86.6h.01M426.9 91.9h.01M422.4 86.6h.01M426.8 89.6h.01M427.7 90.7h.01M431.8 89.5h.01" stroke="#6e6e6e" stroke-width="0.62" stroke-linecap="square" fill="none"/>
<path d="M416.5 12.5H513V102.5" stroke="#8c8c8c" stroke-width="1" fill="none"/>
<path d="M416.5 12V102.5H513.5" stroke="#7e7e7e" stroke-width="1.05" fill="none"/>
<path d="M416.5 95.7h-2.5M416.5 91.8h-2.5M416.5 89h-2.5M416.5 86.8h-2.5M416.5 85h-2.5M416.5 83.5h-2.5M416.5 82.2h-2.5M416.5 81h-2.5M416.5 80h-3.9M416.5 73.2h-2.5M416.5 69.3h-2.5M416.5 66.5h-2.5M416.5 64.3h-2.5M416.5 62.5h-2.5M416.5 61h-2.5M416.5 59.7h-2.5M416.5 58.5h-2.5M416.5 57.5h-3.9M416.5 50.7h-2.5M416.5 46.8h-2.5M416.5 44h-2.5M416.5 41.8h-2.5M416.5 40h-2.5M416.5 38.5h-2.5M416.5 37.2h-2.5M416.5 36h-2.5M416.5 35h-3.9M416.5 28.2h-2.5M416.5 24.3h-2.5M416.5 21.5h-2.5M416.5 19.3h-2.5M416.5 17.5h-2.5M416.5 16h-2.5M416.5 14.7h-2.5M416.5 13.5h-2.5M416.5 12.5h-3.9M423.8 102.5v1.9M428 102.5v1.9M431 102.5v1.9M433.4 102.5v1.9M435.3 102.5v1.9M436.9 102.5v1.9M438.3 102.5v1.9M439.5 102.5v1.9M440.6 102.5v3.4M447.9 102.5v1.9M452.1 102.5v1.9M455.1 102.5v1.9M457.5 102.5v1.9M459.4 102.5v1.9M461 102.5v1.9M462.4 102.5v1.9M463.6 102.5v1.9M464.8 102.5v3.4M472 102.5v1.9M476.3 102.5v1.9M479.3 102.5v1.9M481.6 102.5v1.9M483.5 102.5v1.9M485.1 102.5v1.9M486.5 102.5v1.9M487.8 102.5v1.9M488.9 102.5v3.4M496.1 102.5v1.9M500.4 102.5v1.9M503.4 102.5v1.9M505.7 102.5v1.9M507.6 102.5v1.9M509.3 102.5v1.9M510.7 102.5v1.9M511.9 102.5v1.9M513 102.5v3.4" stroke="#8e8e8e" stroke-width=".75" fill="none"/>
<path d="M452.5 12.5V102.5M416.5 69.0H513" stroke="#3e3e3e" stroke-width="1.2" fill="none"/>
<text x="511.1" y="20.4" text-anchor="end" class="pc">0.4%</text>
<text x="511.1" y="76.6" text-anchor="end" class="pc">1.4%</text>
<ellipse cx="82.4" cy="188.4" rx="12.5" ry="7.1" transform="rotate(-9 82.4 188.4)" fill="url(#rg)" opacity="1.0"/>
<path d="M110.8 187.4h.01M96.8 185.3h.01M72.4 195.5h.01M76.6 173.3h.01M95.8 182.2h.01M87.8 190h.01M84.8 189.6h.01M102.8 181.3h.01M82.8 187h.01M94.7 182h.01M87.4 181h.01M86.9 190.3h.01M76.9 186.4h.01M88.8 189.9h.01M74.4 187.4h.01M76.1 190.3h.01M91 188.9h.01M82.9 176.1h.01M78.7 177.4h.01M78.8 187.1h.01M99.7 179.3h.01M77.9 189.2h.01M100.4 191.3h.01M86.7 191.7h.01M84.1 193.9h.01M78.2 181.4h.01M91.3 182.1h.01M94.4 178.6h.01M89.3 178.4h.01M88.4 202.1h.01M72.5 179.2h.01M106.6 179.7h.01M98.4 183h.01M81.7 202.1h.01M98.3 170.6h.01M75.7 191.1h.01M94.9 183.3h.01M91.7 189.5h.01M84.1 194.2h.01M77.7 193.3h.01M98.6 185.9h.01M82.9 186.7h.01M95.5 178h.01M91.6 185.8h.01M84.4 190.1h.01M86.6 176.8h.01M80.8 188h.01M78 171.6h.01M109.3 189.3h.01M82.6 194h.01M76.2 199.4h.01M82.8 187.9h.01M80.2 188h.01M91.2 185.8h.01M77.9 193.3h.01M94 185.1h.01M99.2 178.7h.01M102.6 182.5h.01M105.2 180h.01M84.3 188.2h.01M102.2 194.6h.01M80.8 181.7h.01M97.9 193.8h.01M95.4 182.4h.01M102.7 183.5h.01M90 190.4h.01M77.6 170.7h.01M90.7 191h.01M93.1 189.3h.01M90.4 193.5h.01M90.3 196.9h.01M88.7 191.9h.01M80.8 189.4h.01M92.5 186.4h.01M106.1 183.5h.01M101.3 186.6h.01M99.4 177.4h.01M83.9 193.9h.01M77.7 190.6h.01M94.3 186.5h.01M93.1 189.3h.01M84.8 189.6h.01M80.3 183.9h.01M88.5 177.8h.01M88.4 188.2h.01M81.9 180.2h.01M86.3 189.4h.01M100.7 198.6h.01M91.7 180.7h.01M93.5 200.9h.01M90.2 196h.01M99.6 180.9h.01M103.9 170.3h.01M83.9 181.4h.01M89.7 186.2h.01M100.4 179.6h.01M108.7 169.9h.01M86.7 191h.01M97.6 181.9h.01M93.7 169.8h.01M81.9 191.2h.01M93.4 193.7h.01M100.6 179.1h.01M91.3 172.2h.01M81.1 179.4h.01M112 167h.01M75.7 196.4h.01M89.3 194.4h.01M88.4 199.7h.01M86.7 185.4h.01M93 187.9h.01M84.7 189.1h.01M71.4 183.3h.01M78.5 190.1h.01M82.6 191.4h.01M90.8 178.7h.01M82.1 177.6h.01M89.4 191.9h.01M73 175h.01M93.1 183h.01M87.4 189.6h.01M92.9 192.3h.01M79 170.8h.01M80.8 184.8h.01M82.6 189.9h.01M85.6 196.2h.01M79.4 187.3h.01M85.2 202.5h.01M74.3 180.6h.01M83.4 192.5h.01M87.1 184.8h.01M84.3 184.8h.01M109.2 185.5h.01M93.5 192.5h.01M74.8 178.8h.01M84.4 197.8h.01M98.6 179.9h.01M73 195.4h.01M99.3 175.9h.01M106 177.3h.01M96.1 183.2h.01M82.4 182.3h.01M96.4 189.4h.01M96.7 182.5h.01M79.3 203.7h.01M108 181.4h.01M74.8 199.5h.01M88.9 186.3h.01M98 187.1h.01M90.9 200.7h.01M75.1 188.6h.01M85.4 188.5h.01M115.4 178.6h.01M99 189h.01M90.2 181.9h.01M95.3 186.9h.01M106 189.5h.01M75 165.9h.01M106.4 186.8h.01M88.6 181.3h.01M119.7 191.2h.01M87.9 183.2h.01M95.9 195.1h.01M94.7 192.1h.01M90.8 188.3h.01M71.6 189.6h.01M87.7 185.5h.01M84.5 188.9h.01M79.8 185.8h.01M74.7 179h.01M80 184.1h.01M108.7 190.5h.01M83.1 191.1h.01M71.5 176.3h.01M92 189.8h.01M78.6 187.5h.01M100.5 185.3h.01M90.1 190.1h.01M71.6 190.5h.01M77.1 173.4h.01M98 183h.01M101.9 199.1h.01M102.2 194.5h.01M92.5 188.1h.01M96.6 189.7h.01M72.1 194.2h.01M99 181.2h.01M75.2 184.3h.01M80.4 191.2h.01M96.9 184.8h.01M81.2 173.6h.01M80.7 179.6h.01M80.6 189.8h.01M75.6 183.9h.01M72.5 186.5h.01M84.8 194.2h.01M94.6 181h.01M78.8 189h.01M93.5 183.9h.01M115.6 180.8h.01M114.5 179.6h.01M108.7 184h.01M115.3 180.7h.01M112.9 181.9h.01M113.1 180.8h.01M109 181.6h.01M115.1 178.4h.01M118.8 179h.01M117 178.2h.01M120 175.1h.01M116 175.6h.01M111.6 182.3h.01M113.7 177.3h.01M122.5 178.5h.01M113.5 181.2h.01M115.7 179.1h.01M114.5 178.5h.01M110 186.2h.01M111.5 182.2h.01M115.2 182h.01M116.3 181.2h.01M119.9 176.2h.01M112.3 182.7h.01M116 178h.01M115.2 176.9h.01M112.5 181h.01M110.3 181.8h.01M118.8 180.3h.01M111.2 180.8h.01M126.2 121.5h.01M122.6 128.1h.01M123 129.4h.01M116 133.3h.01M125.9 122.9h.01M115.5 138h.01M121.5 127.5h.01M124.8 129.3h.01M118.5 133.1h.01M123.9 125.9h.01M123.1 128.5h.01M113.9 138.1h.01M128.8 121.9h.01M121.3 130.4h.01M114.8 138.5h.01M121.5 128.2h.01M116.6 135.5h.01M113.1 140h.01M104.1 159.9h.01M117.3 181h.01M99.9 136.7h.01M126.6 175.2h.01M112 136.7h.01M98.8 149.3h.01M116.5 184h.01M106.8 147.4h.01M142.2 136.8h.01M92.7 198h.01M154 145.5h.01M109.8 157h.01M104.7 183.1h.01M152 177.2h.01M131.5 162.7h.01M131.8 163.1h.01M131.3 163.4h.01" stroke="#c6c6c6" stroke-width="0.8" stroke-linecap="square" fill="none"/>
<path d="M103.6 181.3h.01M101.2 184.9h.01M72 190.3h.01M90.4 184.2h.01M95.6 182h.01M82.8 192.5h.01M81.5 185.7h.01M84 191h.01M98.5 192.1h.01M98.6 185.5h.01M79.6 184h.01M79.5 188.4h.01M84.7 192.2h.01M77.2 194.4h.01M84.5 191.3h.01M92.7 180.8h.01M95.9 182.7h.01M87.6 192.5h.01M89.9 179.7h.01M85.8 193h.01M82.6 187.8h.01M85.4 195.5h.01M78.6 184.4h.01M74.4 187h.01M82 189.9h.01M81.8 180.2h.01M71.5 193.1h.01M88.5 180.9h.01M89.4 175.7h.01M102.8 187.8h.01M83.1 186h.01M80.6 187.5h.01M82.2 184h.01M79.5 191.3h.01M87 181.2h.01M80.9 195.8h.01M90.6 194.7h.01M72.1 185h.01M79.9 183.7h.01M74.4 186.2h.01M82.8 192.1h.01M86.9 179.2h.01M95.4 184.6h.01M75.6 189.2h.01M79.5 182.2h.01M95.8 183.4h.01M79.2 191.2h.01M97.5 188.1h.01M76.8 191.2h.01M92.9 188.3h.01M88.6 185h.01M81.9 180.4h.01M77.1 183.7h.01M84.8 194.9h.01M76.1 188.8h.01M92.5 183h.01M78.2 194.6h.01M87.1 190h.01M89.9 183.5h.01M85 184.7h.01M78 189.6h.01M86.3 181.6h.01M77.9 191.8h.01M85.5 190.9h.01M80.6 184.7h.01M90.4 189.8h.01M78 192.1h.01M96.2 184.7h.01M76 190.4h.01M84.8 190.5h.01M72.5 190.9h.01M91.4 190.1h.01M89.6 192.7h.01M77.9 194.7h.01M84.7 183.2h.01M81.5 189.6h.01M87.4 193.8h.01M84.9 185.4h.01M101.1 183.7h.01M77.7 193.3h.01M79.8 184.9h.01M76 194.8h.01M75.2 189.8h.01M79.9 187.7h.01M77.2 189.8h.01M89.4 192.1h.01M79.9 183.1h.01M71.7 190h.01M84 188.5h.01M71.9 186.8h.01M78.2 192.1h.01M80.8 191.4h.01M86.5 178.5h.01M82.7 194.1h.01M79.7 189.3h.01M81.8 182.6h.01M101.3 184.6h.01M88.5 185.2h.01M95.9 191.5h.01M93.9 190.9h.01M90.4 193.5h.01M87.1 188.1h.01M89.6 182.9h.01M84.4 184.6h.01M80.8 184h.01M77 190h.01M85.3 191.7h.01M83.4 191.1h.01M88.7 183.9h.01M81.3 185.9h.01M101.1 182.1h.01M87 183.9h.01M88.4 181.4h.01M91.5 187.7h.01M79.6 183.1h.01M96.8 183.3h.01M93.6 175.2h.01M75.3 197.9h.01M98.1 185.9h.01M92.2 189.6h.01M80.9 189.1h.01M73.5 183.4h.01M85.2 191.2h.01M84.1 182.2h.01M90.6 187.4h.01M89.6 185.8h.01M82.3 193.2h.01M93.9 180.8h.01M75.5 193.9h.01M86.7 187.8h.01M76.5 193.9h.01M85.4 188.8h.01M86.5 185.2h.01M87 188.2h.01M89.8 188.9h.01M72.8 186.5h.01M82.4 193.7h.01M79.3 194.1h.01M93.1 190.7h.01M101.9 185.1h.01M87.2 193.2h.01M87.7 192.1h.01M83.7 194.7h.01M85.2 178.9h.01M92.3 185.8h.01M76.4 187.8h.01M82.3 193.7h.01M86.3 187.3h.01M82.9 184h.01M78.2 186.8h.01M81 183h.01M81.2 193.2h.01M87.4 187.5h.01M86.3 186.5h.01M74.8 193.6h.01M102.2 187.5h.01M91 198.4h.01M74.3 192h.01M80.7 187.2h.01M85.8 180.3h.01M81.6 186.1h.01M76.1 192.2h.01M97.3 187.9h.01M92.6 190.2h.01M83.6 190.8h.01M94.1 184.4h.01M81.5 182h.01M91.2 188.6h.01M86.8 193.7h.01M84.9 191.5h.01M94.3 182.6h.01M77 191h.01M82.8 185.5h.01M82.2 184.9h.01M84.5 186.2h.01M96.7 181.1h.01M88.5 187.7h.01M95.8 181.6h.01M81.2 196.6h.01M78.1 187.2h.01M79.8 184.1h.01M94.7 193.4h.01M81.9 184.8h.01M73.2 192.8h.01M79.8 191.2h.01M89.1 189.2h.01M84.7 187.8h.01M80.6 186.5h.01M85.2 190.2h.01M91.1 185.9h.01M92.9 182.3h.01M99.9 190h.01M82.4 201.1h.01M96.5 193.4h.01M74 189.1h.01M88.3 192.2h.01M83.4 182.1h.01M93.5 185.7h.01M87 186.1h.01M81.8 182h.01M88.7 184.4h.01M84.1 192.5h.01M89.5 181.5h.01M82.3 188.3h.01M83.7 183.2h.01M85 192.4h.01M94.8 193.1h.01M88 175.6h.01M81.1 185.9h.01M91.1 186.9h.01M87 189.8h.01M82.9 194.6h.01M99.1 189.5h.01M79.4 189.9h.01M92.1 190.1h.01M78.8 193.3h.01M90 189.8h.01M80.3 188.5h.01M79.9 187.3h.01M81.2 187h.01M84.5 188.4h.01M78.7 188.2h.01M83.3 190.4h.01M87 185.9h.01M75.9 181.7h.01M73.9 191.5h.01M77.4 196.5h.01M82.2 186.5h.01M82 185.8h.01M78.7 189.2h.01M72.1 190.5h.01M82.3 184.1h.01M92.3 188.4h.01M92 183.6h.01M72.8 184.3h.01M96 183.9h.01M84.9 185.4h.01M83.7 195.4h.01M84.1 183.8h.01M90.2 193h.01M91.5 190.3h.01M83.1 192.8h.01M76.4 183.7h.01M81.4 187.3h.01M92.9 182h.01M92.4 183.1h.01M72.3 182h.01M82.4 181.6h.01M85.5 188h.01M79.1 179.8h.01M79.8 190.7h.01M83.5 185.6h.01M85.8 190.7h.01M83 184.6h.01M89.6 184h.01M87.3 192h.01M95.4 193.6h.01M92.1 187.4h.01M82.2 189.2h.01M90.1 200.9h.01M88.4 183.5h.01M94.9 178.9h.01M90.9 181h.01M74.5 187.2h.01M80.4 182.3h.01M88.6 186.7h.01M93.8 181.7h.01M82.6 192.7h.01M85.8 196.8h.01M72.4 181h.01M81 195h.01M95.5 179.9h.01M77.5 180.5h.01M76.2 184.8h.01M88 192.6h.01M102.7 183.4h.01M90.5 188h.01M86.1 196.6h.01M90.5 194.2h.01M86.8 191.6h.01M87.7 187h.01M77.8 187.1h.01M83.5 186.3h.01M80.4 185.3h.01M90.5 185.8h.01M82.6 187.2h.01M93.9 183.9h.01M94.5 182.3h.01M96.5 188.8h.01M80.1 190.7h.01M92.2 182.3h.01M82.1 189.7h.01M81.8 187h.01M84.1 189.4h.01M91 193.7h.01M83.2 201.8h.01M82.3 196.5h.01M81.6 181.6h.01M80 187h.01M90.9 177.5h.01M78.5 188.2h.01M89.3 189h.01M90.5 186.2h.01M82.7 193.8h.01M97.9 187.6h.01M84.4 183.9h.01M101 187.2h.01M87.6 180h.01M90.4 198.3h.01M82.3 187.3h.01M96 185.2h.01M91.9 195.8h.01M73.7 185.8h.01M89.3 187.7h.01M83.9 187.2h.01M85 189.5h.01M79.7 187.4h.01M84.8 182.8h.01M85.7 177.5h.01M88.8 186.7h.01M75.2 195.6h.01M75.8 198.9h.01M78.7 194.4h.01M84.4 195.4h.01M82.7 193h.01M79.8 179.9h.01M87.2 189.7h.01M88.2 195.1h.01M76.8 182.5h.01M85.3 184.6h.01M82.9 188.1h.01M77.9 194h.01M84.1 196.3h.01M86.5 192.5h.01M80.9 185.4h.01M78.9 184.7h.01M87.4 188.1h.01M74 182.4h.01M75.5 180.8h.01M75.5 182.3h.01M88.6 181.9h.01M78.9 188.2h.01M84.3 189.9h.01M90.3 190h.01M81.9 194.1h.01M86.2 184.3h.01M94.9 180.8h.01M88.4 193.1h.01M84.9 189.4h.01M85.2 190.9h.01M85.5 187.8h.01M88 178.5h.01M85.5 186.3h.01M99.6 186.8h.01M78.9 191.8h.01M79.8 183.1h.01M81.9 190.7h.01M94 191.3h.01M85.5 187h.01M86.2 193.3h.01M83.6 193.4h.01M77.4 189h.01M90.4 190.2h.01M85 185.4h.01M76.7 187.3h.01M95.8 182.5h.01M90.5 186.9h.01M75 189.9h.01M88.9 181.7h.01M74.2 187.8h.01M89.1 184.4h.01M87.4 189.6h.01M84.2 190h.01M93.7 185.5h.01M85.6 182.8h.01M77.9 188.5h.01M89.7 183.9h.01M73.3 194h.01M100.8 173.4h.01M75.4 189.9h.01M86.9 183.1h.01M87.2 192.6h.01M82.1 191.7h.01M84.1 183.6h.01M78.4 186h.01M95.1 191.6h.01M84.5 180.6h.01M79.6 186.8h.01M85.1 181.7h.01M80 186.5h.01" stroke="#9c9c9c" stroke-width="0.66" stroke-linecap="square" fill="none"/>
<path d="M83.9 184.9h.01M76.7 189.8h.01M80.9 183.9h.01M78.6 193.4h.01M77.5 192.3h.01M75.3 193.9h.01M90.2 185.3h.01M79.2 190.8h.01M76.4 191h.01M88.7 188.2h.01M84 187.7h.01M87.1 185.2h.01M90.5 187.1h.01M80 184h.01M80.3 189.4h.01M88 182.8h.01M81.5 186.5h.01M76.3 189.4h.01M79 191.5h.01M71.9 184.3h.01M84.9 187h.01M82.6 185.5h.01M76.8 187.1h.01M81.7 186h.01M79.9 186.3h.01M83.1 184.9h.01M82.4 188.7h.01M86.9 185.5h.01M76 185h.01M86 186h.01M87.4 187.4h.01M80.2 183.3h.01M79.3 191.2h.01M79.6 190.8h.01M74.5 192.6h.01M97 189.4h.01M83.5 184.6h.01M79.4 186.9h.01M82.4 182.4h.01M78.4 191.4h.01M83.5 190.4h.01M86.2 184.4h.01M75.8 190.8h.01M82.6 188.6h.01M78.8 192h.01M85.4 191.3h.01M80.9 190.7h.01M81.7 185.7h.01M81.2 183.7h.01M81.6 189.1h.01M85.4 184.8h.01M75.4 187.4h.01M71.6 188.2h.01M95.7 186.7h.01M78.3 187.1h.01M90.8 183.6h.01M81.8 188.3h.01M78.4 186.9h.01M73.5 187.3h.01M89.6 191.4h.01M81.3 190.6h.01M84.8 188.3h.01M82.3 192h.01M85.2 187.3h.01M81.6 191.3h.01M79.1 186.8h.01M80.8 187.2h.01M88.9 188.4h.01M81.7 187h.01M89.8 188.5h.01M93.3 189.3h.01M81.1 187h.01M81 189.1h.01M86.6 189.2h.01M89.6 182.8h.01M81.9 184.3h.01M76.9 187.5h.01M78.7 186.1h.01M75.2 192.9h.01M81.2 191.4h.01M75.8 182.6h.01M79.8 191.4h.01M79.8 190h.01M77.6 193.3h.01M85.1 191.1h.01M81.6 192.3h.01M82.5 186.9h.01M79.2 189.1h.01M77.3 185.7h.01M83.4 190.3h.01M81.3 191h.01M89.8 183.5h.01M83.3 185.4h.01M79.2 189.4h.01M86.9 189.3h.01M86.5 193.1h.01M81 191.8h.01M89.9 188.7h.01M73.3 189.4h.01M80.2 184h.01M82.4 190.6h.01M81 188.1h.01M89.5 185.5h.01M77.7 189.3h.01M88.3 189.2h.01M82.5 186.9h.01M89 190h.01M73.8 190.7h.01M85.2 186.1h.01M75.7 188.6h.01M73.8 191.4h.01M79 183.7h.01M82.8 191.8h.01M75.8 188.4h.01M91.6 187.5h.01M79.7 189.4h.01M85.9 184.9h.01M81.2 183.8h.01M73.7 185.2h.01M86.8 188.6h.01M86.6 191.3h.01M82.7 189h.01M84.7 189.4h.01M76.9 188.5h.01M81.6 188.6h.01M78.5 188.6h.01M83.9 188.7h.01M85.7 190.3h.01M85.6 190.7h.01M87.3 191.7h.01M85.3 186.1h.01M94.7 189.8h.01M89 189.5h.01M82.1 185.1h.01M84.4 187h.01M79.4 182.6h.01M89.7 183.8h.01M77.1 190.6h.01M84.9 185.7h.01M82.5 189.1h.01M83.4 189.8h.01M86.1 186.7h.01M75.2 195.9h.01M80 185.9h.01M86.5 189.5h.01M80.3 195.6h.01M82.3 189.3h.01M83.9 187.5h.01M83.4 184.4h.01M81.2 194h.01M86.6 186.5h.01M78.8 184.6h.01M81.7 188h.01M78.5 184.4h.01M83.4 189.5h.01M88.4 189h.01M90.6 190.6h.01M81.4 185.5h.01M85 190.8h.01M74 186.1h.01M85.6 186.3h.01M89.9 187.9h.01M79 185h.01M84.6 183h.01M75.2 185.7h.01M91.8 191.9h.01M81.1 187.5h.01M86.5 191.4h.01M79.3 195.4h.01M81.9 191.8h.01M79.8 194.7h.01M80.7 184.9h.01M91.9 184.9h.01M81.8 184.8h.01M85.9 188.4h.01M80.7 187.5h.01M79.2 186.8h.01M75.8 193h.01M86.3 183.7h.01M76.7 190.5h.01M93.8 186h.01M80.7 187.9h.01M83.6 187.7h.01M88.3 190.4h.01M85.9 192.5h.01M81 187h.01M96.6 180.5h.01M73.4 182.9h.01M83.7 185h.01M86.8 181.5h.01M81.5 187.4h.01M77.4 192.5h.01M80.6 190h.01M79.8 189.3h.01M80.2 189h.01M81.6 186.5h.01M84.5 187.5h.01M77 186.2h.01M85.2 191.9h.01M75.6 188.2h.01M85.1 191h.01M85.5 184.4h.01M83 191h.01M83.5 187.6h.01M76.5 189.8h.01M82.1 188.5h.01M90.5 190.6h.01M78.5 189.7h.01M80.9 188.9h.01M91.1 189.7h.01M82.3 186.5h.01M81.7 189.6h.01M80.4 192h.01M82 185h.01M91.4 178.4h.01M81 188.3h.01M87.9 190.8h.01M90.5 191.7h.01M84.1 188.5h.01M87.5 187.5h.01M75.8 188.1h.01M86 189.6h.01M77.3 192.7h.01M83.3 183.8h.01M85.2 190.9h.01M85 187.1h.01M78.9 192.3h.01M83.5 188.2h.01M79.9 185.7h.01M72.8 188.9h.01M88.4 189.7h.01M79.6 193.3h.01M80.8 185.7h.01M88 191.6h.01M79.9 185.2h.01M81 181.5h.01M83.4 192.7h.01M83.4 186.1h.01M85.8 186.4h.01M88.6 186.4h.01M92.6 185.8h.01M82.9 185.5h.01M76.1 190.4h.01M83.7 185.3h.01M85 186.8h.01M79.6 188.6h.01M84.7 190.2h.01M88.8 188.5h.01M78.4 187h.01M83.7 184.7h.01M81.4 187.4h.01M82 189h.01M88.4 192.3h.01M87.3 190.6h.01M77.5 192.2h.01M88.3 183.5h.01M94.9 184.7h.01M82.4 186h.01M80 191.9h.01M83.5 187.1h.01M87.8 184.8h.01M77.8 187.5h.01M78.9 191h.01M80.8 185.6h.01M79.2 183.1h.01M83.3 188.6h.01M85.4 187.2h.01M84 185.4h.01M82.6 188.8h.01M76.5 191.1h.01M83.1 188.4h.01M80.9 194.5h.01M82.1 186.2h.01M78.4 190.8h.01M81 186.3h.01M79.2 191.7h.01M83.3 191.4h.01M81.8 185h.01M86.9 188.6h.01M79 188h.01M77.9 191.6h.01M80.5 190.1h.01M83.6 187.4h.01M84.2 187.4h.01M76.2 188.1h.01M76.8 191.5h.01M85.4 186.2h.01M85.6 188.6h.01M86.9 184.9h.01M82.1 185.5h.01M79.6 192.9h.01M71.8 187.4h.01M85.2 190.2h.01M77.5 183.2h.01M73.9 190.8h.01M88.4 190.1h.01M79.3 192.9h.01M81.7 190.3h.01M82.2 193.1h.01M78.8 182.7h.01M80.9 189.2h.01M83.5 186.1h.01M80.7 185.3h.01M81.3 188.8h.01M84.4 192.9h.01M72.6 191.5h.01M84.1 184.7h.01M82.7 188.3h.01M77.7 191.3h.01M92.3 188.8h.01M86.8 190.8h.01M82.2 191.3h.01M78.4 189.6h.01M86.5 191.6h.01M80.8 187.8h.01M84.7 187.8h.01M83.5 190.6h.01M78.9 191.5h.01M84.2 187.3h.01M75.8 187.6h.01M82.6 191.1h.01M72.8 192h.01M82.9 185h.01M86.9 188.9h.01M84.1 185.3h.01M77.2 191.9h.01M89.6 188.3h.01M81.2 187.3h.01M74.2 192.6h.01M82.5 192h.01M79.3 192h.01M79.1 190.6h.01M89 185.3h.01M86.9 187.7h.01M77.8 189.7h.01M85.3 185.9h.01M80.8 187h.01M78.5 188.4h.01M86.3 186.3h.01M88.5 186.3h.01M79.4 192h.01M89.1 185.4h.01M84.8 184.6h.01M80.2 187.7h.01M85.4 184.3h.01M79.5 186.8h.01M82.4 184.8h.01M77 197.5h.01M82.8 184h.01M86 184h.01M73.7 194.6h.01M88.3 185h.01M77.2 190.6h.01M92.8 188.5h.01M85.2 184.5h.01M73.7 190.9h.01M87.5 188h.01M83 192.3h.01M78.7 192.2h.01M86.3 186h.01M83.1 188.6h.01M84.9 185.2h.01M81.3 188.8h.01M82.5 188.4h.01M83.6 187.7h.01M80.4 191.7h.01M79.1 188h.01M77.5 185.9h.01M84.6 187.9h.01M81.9 189.8h.01M81.8 190.5h.01M91.5 188h.01M81.8 193.3h.01M85.2 183.1h.01M89.1 187.9h.01M86.1 184.5h.01M77.9 187.2h.01M84.6 184.8h.01M79.3 191.6h.01M79.3 189.2h.01M77.2 184.3h.01M81.9 188.1h.01M75.7 192.3h.01M86.9 190.3h.01M79.4 185.6h.01M82 188.9h.01M81.3 186.9h.01M77.1 187.1h.01M81.8 187.1h.01M90.5 186.3h.01M84.4 186.7h.01M81.1 185.8h.01M79.3 184.6h.01M72.7 193.8h.01M77.4 190.4h.01M81.5 186.9h.01M85.7 186.3h.01M84.4 187h.01M87.6 190.3h.01M83.2 191.4h.01M85.6 192.4h.01M81.1 184.1h.01M83.5 188.9h.01M80.5 188.1h.01M80.5 185.1h.01M90.5 184.9h.01M76.4 184.8h.01M78.2 188.9h.01M89.9 188.9h.01M78.2 185.5h.01M76.8 189h.01M86.5 186.4h.01M91.2 192.6h.01M82.2 182.2h.01M87.7 187.3h.01M86.1 190.6h.01M77.5 189.4h.01M82.9 186.1h.01M85.8 187.5h.01M81.2 194h.01M83.9 192.8h.01M82.1 191.4h.01M78.7 189.4h.01M86.8 181.5h.01M84.9 187.2h.01M87.8 188h.01M81.4 184.9h.01M96.5 184h.01M80.5 186.6h.01M81 189.2h.01M76.3 192.4h.01M81.4 190.3h.01M71.8 188.6h.01M80.7 187.5h.01M79.2 189.8h.01M84 185.3h.01M73 192h.01M81.3 191.6h.01M86.6 187.4h.01M75.2 188.5h.01M79.3 192.4h.01M74.4 192.3h.01M74.5 188h.01M75.1 187.5h.01M80.4 189.8h.01M79.8 190.8h.01M91.1 187.5h.01M76.6 188.8h.01M81.7 187.5h.01M88.5 190.7h.01M92.5 188.3h.01M85.3 185.6h.01M79.8 191.4h.01M82.6 185.1h.01M78.1 180.2h.01M81.8 185h.01M81.6 185.1h.01M77.6 187.7h.01M95.5 182.9h.01M76.3 187.8h.01M87.9 189.8h.01M85.6 186.9h.01M82.7 186.1h.01M81.1 186.3h.01M74.8 186.7h.01M92 188h.01M78.6 188.7h.01M80.7 192.2h.01M81.9 186.6h.01M85.8 188.8h.01M78.7 186.8h.01M82.3 183.7h.01M78.3 191.9h.01M87.1 190.8h.01M79.9 187.1h.01M80.8 187.3h.01M88.5 186.8h.01M88.7 185.4h.01M84.9 192.7h.01M78.4 187.1h.01M78.7 184.3h.01M80.6 186.8h.01M93 185.3h.01M72.3 192.7h.01M87 187.6h.01M84.1 190.2h.01M79.6 188.9h.01M83.8 192.9h.01M89.4 187.8h.01M76.2 191.9h.01M82.6 191.7h.01M82.7 188.9h.01M85.2 185.8h.01M80.1 195.3h.01M78.5 191.7h.01M86.1 190.2h.01M88.5 183.6h.01M86.1 181.9h.01M82.7 189.3h.01M87.9 190.6h.01M77.6 188.4h.01M81.3 186.6h.01M78 187.2h.01M88.6 191.3h.01M86.8 192.5h.01M82.3 185.3h.01M79.2 189.5h.01M87.9 191h.01M78.4 191.8h.01M80 190.5h.01M87.5 191.8h.01M79.9 189.5h.01M84.3 186.9h.01M83 190h.01M74 187.9h.01M93.8 187.9h.01M78.8 183.7h.01M77.9 190.6h.01M85.9 189.1h.01M85 186.2h.01M89.6 184h.01M84.7 187.3h.01M74.4 192.3h.01M81.3 190.6h.01M88.6 187.9h.01M79 188.3h.01M82.6 192.5h.01M87.2 192.2h.01M85.7 185.7h.01M87.3 190.4h.01M81.9 189.8h.01M80.2 185.1h.01M82.2 190.6h.01M79.6 182.4h.01M78.9 192.1h.01M83.9 191.4h.01M78.5 187.8h.01M77.1 187h.01M84.9 188.4h.01M80.1 189.6h.01M75.8 188.3h.01M74.3 185.4h.01M75.2 186.4h.01M90.7 191h.01M88.2 185.8h.01M84.9 184.7h.01M79.8 189.5h.01M74.6 190.2h.01M84.4 182.1h.01M81.8 188.9h.01M77 190.9h.01M82.6 186.2h.01M90.5 187.9h.01M86.8 193.1h.01M79.8 188.2h.01M73.7 189.1h.01M85.6 195.1h.01M85.2 188.5h.01M75.7 187h.01M72.6 186h.01M83 189.2h.01M77.7 188.5h.01M78.7 190.8h.01M85.2 186.3h.01M79.5 185.3h.01M81 194.9h.01M82.6 190.8h.01M85.8 192.1h.01M80.3 186.1h.01M87.8 190.2h.01M79.6 192h.01M82.2 188.3h.01M91.6 188.5h.01M83.7 187.3h.01M83.8 191.2h.01M84.2 185.9h.01M84.5 187.7h.01M83.7 187.6h.01M79.4 182.5h.01M75.8 195.3h.01M85.5 186.6h.01M82.9 181.8h.01M84 191h.01M82.7 184.6h.01M86.8 186.2h.01M79.6 189.4h.01M81.7 194.4h.01M82.6 194.6h.01M84 184.5h.01M82.3 188.6h.01M90 190.9h.01M94.6 184.5h.01M81.2 195.4h.01M78.1 190.1h.01M89.8 184.3h.01M80.3 186.6h.01M85.1 189.1h.01M82.4 190.3h.01M78.3 188h.01M85.5 193.8h.01M82.2 188.6h.01M88.8 187.6h.01M88.8 188.1h.01M88.1 188h.01M77.4 186.7h.01M85.3 193.4h.01M91.4 186.1h.01M94.1 183.3h.01M78.6 191.7h.01M75.2 192.2h.01M84.5 189.9h.01M76.6 190.4h.01M86.9 187.5h.01M87.4 187.7h.01M83.9 187.2h.01M75.6 189h.01M84.4 185.9h.01M72 185.5h.01M88.7 186.7h.01M79.1 192.5h.01M80.8 184.3h.01M79.8 186.2h.01M81 186h.01M82.9 189.7h.01M79.4 188.3h.01M81.9 190.9h.01M79.1 191.1h.01M88.4 186.9h.01M77.4 188.3h.01M73.3 188.2h.01M76.3 188.9h.01M80.7 190.2h.01M83.1 189.5h.01M82.2 189.3h.01M77 191.2h.01M89.3 190.6h.01M75.9 190.7h.01M74.6 191.8h.01M81.1 187.3h.01M78.5 188.3h.01M81.9 185.7h.01M82.7 189.1h.01M84.9 187.9h.01M83.3 195h.01M87.5 188.5h.01M75.7 191.3h.01M84 180.4h.01M81.7 189.6h.01M82.6 188.7h.01M82.2 192.5h.01M84.1 187.3h.01M82.1 194.6h.01M77.8 187.6h.01M84 188.6h.01M84.4 192.1h.01M88.2 188.7h.01M82.5 188.2h.01M81.6 191.5h.01M75.6 186.4h.01M79.6 186h.01M79.2 192.4h.01M71.4 191.8h.01M75.7 188.7h.01M79 186h.01M75 189.8h.01M80.9 191.9h.01M91.4 186.1h.01M78.2 188.2h.01M85.1 190.7h.01M77.8 190.5h.01M82.7 191.7h.01M80.2 188.1h.01M77.5 185.3h.01M84 190.2h.01M88 188.3h.01M79.6 186.1h.01M76.2 187.3h.01M84.1 188.4h.01M80.4 185.6h.01M82.5 189.9h.01M76.6 185.4h.01M80.9 189.4h.01M81.8 193h.01M82.6 185.4h.01M85.9 185.9h.01M85.8 188.2h.01M88 184.6h.01M86.1 189.1h.01M78.2 191.1h.01M93.8 187.6h.01M78.5 188.6h.01M88.9 188.1h.01M89.4 185.4h.01M88.2 182.9h.01M81.4 187.7h.01M80.5 192.3h.01M79.5 189.9h.01M92 189.3h.01M80 186.6h.01M72.5 191.1h.01M87.3 190.9h.01M84.5 194.4h.01M85.2 181.2h.01M78.3 191.4h.01M80.7 191.1h.01" stroke="#6e6e6e" stroke-width="0.62" stroke-linecap="square" fill="none"/>
<path d="M70 114.5H166.5V204.5" stroke="#8c8c8c" stroke-width="1" fill="none"/>
<path d="M70 114V204.5H167" stroke="#7e7e7e" stroke-width="1.05" fill="none"/>
<path d="M70 197.7h-2.5M70 193.8h-2.5M70 191h-2.5M70 188.8h-2.5M70 187h-2.5M70 185.5h-2.5M70 184.2h-2.5M70 183h-2.5M70 182h-3.9M70 175.2h-2.5M70 171.3h-2.5M70 168.5h-2.5M70 166.3h-2.5M70 164.5h-2.5M70 163h-2.5M70 161.7h-2.5M70 160.5h-2.5M70 159.5h-3.9M70 152.7h-2.5M70 148.8h-2.5M70 146h-2.5M70 143.8h-2.5M70 142h-2.5M70 140.5h-2.5M70 139.2h-2.5M70 138h-2.5M70 137h-3.9M70 130.2h-2.5M70 126.3h-2.5M70 123.5h-2.5M70 121.3h-2.5M70 119.5h-2.5M70 118h-2.5M70 116.7h-2.5M70 115.5h-2.5M70 114.5h-3.9M77.3 204.5v1.9M81.5 204.5v1.9M84.5 204.5v1.9M86.9 204.5v1.9M88.8 204.5v1.9M90.4 204.5v1.9M91.8 204.5v1.9M93 204.5v1.9M94.1 204.5v3.4M101.4 204.5v1.9M105.6 204.5v1.9M108.6 204.5v1.9M111 204.5v1.9M112.9 204.5v1.9M114.5 204.5v1.9M115.9 204.5v1.9M117.1 204.5v1.9M118.2 204.5v3.4M125.5 204.5v1.9M129.8 204.5v1.9M132.8 204.5v1.9M135.1 204.5v1.9M137 204.5v1.9M138.6 204.5v1.9M140 204.5v1.9M141.3 204.5v1.9M142.4 204.5v3.4M149.6 204.5v1.9M153.9 204.5v1.9M156.9 204.5v1.9M159.2 204.5v1.9M161.1 204.5v1.9M162.8 204.5v1.9M164.2 204.5v1.9M165.4 204.5v1.9M166.5 204.5v3.4" stroke="#8e8e8e" stroke-width=".75" fill="none"/>
<path d="M106.0 114.5V204.5M70 171.5H166.5" stroke="#3e3e3e" stroke-width="1.2" fill="none"/>
<text x="164.6" y="122.3" text-anchor="end" class="pc">1.1%</text>
<text x="164.6" y="179.1" text-anchor="end" class="pc">2.1%</text>
<ellipse cx="198.8" cy="188.2" rx="12.5" ry="7.6" transform="rotate(-20 198.8 188.2)" fill="url(#rg)" opacity="1.0"/>
<path d="M229.5 136.2L246 121.2" stroke="#a2a2a2" stroke-width="0.7" fill="none"/>
<path d="M203.5 172.6h.01M199.1 197.7h.01M204.5 179.8h.01M201.5 187.6h.01M196.7 185.9h.01M195.6 190.7h.01M224.9 190.1h.01M197.4 176.7h.01M203.5 180.7h.01M192.6 188.2h.01M207.3 190.1h.01M202.8 166.8h.01M196.2 190.8h.01M209 190.5h.01M189.2 204h.01M188 190h.01M195.8 184.9h.01M195.6 195.5h.01M212.6 185.5h.01M202.9 189.5h.01M195.3 186.7h.01M233.3 175.6h.01M192.6 169.9h.01M198 201.3h.01M209.3 174.2h.01M212.1 184.2h.01M195.3 195.4h.01M194.6 186.7h.01M203.3 187.8h.01M198.2 190.3h.01M203.1 187.7h.01M205.4 180.1h.01M217.7 183.5h.01M203.2 180h.01M190.9 187.5h.01M197.6 173.8h.01M196.8 190.3h.01M209 190.3h.01M198.1 186.8h.01M201.2 191.2h.01M194.1 188.1h.01M203.3 183.2h.01M193.5 200.7h.01M205.9 177.6h.01M223.3 172.5h.01M191.4 187.4h.01M212.7 194.9h.01M219.9 184.5h.01M205.1 190.8h.01M191.6 184.6h.01M209.2 185.5h.01M202.6 178h.01M201.6 174.9h.01M213.3 182.5h.01M193.8 185.7h.01M243 197.2h.01M198 199.2h.01M203.4 188.1h.01M188 180.9h.01M204.1 182.1h.01M211.2 191.8h.01M202.6 190.7h.01M205.2 187.3h.01M197.2 190.2h.01M207.8 185h.01M193.5 177.7h.01M194.3 202.1h.01M215.1 184.2h.01M205.5 184h.01M213 190.4h.01M200.5 189.6h.01M209.5 170.9h.01M190.2 186.2h.01M187.9 188.1h.01M191.7 187h.01M205 175.8h.01M207.3 195.9h.01M201.6 176.7h.01M198.6 197.3h.01M197.9 182.9h.01M209.7 177.9h.01M191.3 195.4h.01M201.1 181.6h.01M210.8 192.3h.01M215.3 182.5h.01M209.2 188h.01M193.4 185.1h.01M190.5 182.8h.01M215.2 181.8h.01M191.1 175.6h.01M204.4 185.3h.01M190.4 190h.01M189.8 195.1h.01M198.1 170.6h.01M187.9 186.3h.01M213.3 187.3h.01M214.2 195.8h.01M197.9 183.9h.01M206.9 177.9h.01M195 196.9h.01M212.7 168h.01M208 184.3h.01M212.1 180.1h.01M204.9 197h.01M196.8 191.8h.01M209.5 182.9h.01M214 186.4h.01M207.7 170.6h.01M191.4 192.8h.01M219.8 191.8h.01M200.8 180.9h.01M198.3 192.6h.01M197.9 176h.01M201.6 187.1h.01M197.8 200h.01M210.5 192.4h.01M201.2 178.9h.01M217.9 189.8h.01M192.3 179.2h.01M210.5 178.8h.01M189 190.6h.01M207 178.6h.01M205.6 193.4h.01M207.1 172h.01M215.5 196.2h.01M212.9 181.9h.01M202.7 173.4h.01M194.5 185h.01M226.5 177.7h.01M195.8 202.6h.01M212.4 169.3h.01M195.8 175h.01M208.5 165.6h.01M221.1 171h.01M209.7 186.7h.01M209.8 175.6h.01M211.9 180.7h.01M209.2 185.8h.01M215.1 171.3h.01M188.3 196.9h.01M231.2 180.4h.01M202.4 191.9h.01M188.9 192.1h.01M215.4 195.6h.01M199.3 195.2h.01M215.2 173.2h.01M194.6 174.1h.01M193.7 193.2h.01M214.7 193.7h.01M189.5 172.3h.01M192.5 194.9h.01M204.2 191.5h.01M200.9 192.4h.01M188.8 183.4h.01M196.1 174.4h.01M216.1 179.4h.01M189.1 184.2h.01M191.8 191.3h.01M200.7 194.1h.01M189.2 190.6h.01M217.8 179.8h.01M212.6 182.2h.01M206.2 162.3h.01M205.3 165.6h.01M204.4 170.8h.01M209.5 159h.01M205.6 165.3h.01M212 156.8h.01M203.5 167.8h.01M207.4 161.6h.01M206.4 163.7h.01M201.6 174.6h.01M209.7 163.1h.01M204.3 169.6h.01M208.7 160.3h.01M203.5 172.2h.01M203.4 167.9h.01M208 157.7h.01M210.6 155.9h.01M208 161.8h.01M204.3 167.8h.01M204.9 167h.01M202.4 169.6h.01M202.1 166.3h.01M204.9 164.3h.01M203.2 167.1h.01M203.5 169.5h.01M205.5 164.7h.01M204.2 160.8h.01M203.7 167.6h.01M201.1 169.6h.01M211.8 158.9h.01M223.7 185.1h.01M234.8 178.4h.01M233.8 179.6h.01M237 178.8h.01M233.7 175.4h.01M227.9 184.9h.01M237.1 176.8h.01M227.8 183.3h.01M234.9 177.2h.01M229.3 178h.01M226.6 181.9h.01M233.2 177.7h.01M235.8 174h.01M231.6 179.8h.01M228.8 182.3h.01M229.5 179.9h.01M232.8 178.3h.01M223.5 182.7h.01M234.2 180.3h.01M224.1 187h.01M236.2 177.1h.01M234.8 174.7h.01M233.8 176.9h.01M223.2 183.3h.01M225.5 185.9h.01M233.9 179.5h.01M236 174.7h.01M236.1 177.5h.01M234.5 177.5h.01M236.8 175.6h.01M228.9 181.4h.01M230 178.8h.01M233.5 177.2h.01M222.3 182h.01M230.2 137.6h.01M242.5 122.2h.01M238.1 129.3h.01M246 121.6h.01M243.8 126.4h.01M246.5 120.2h.01M240.2 128h.01M240.1 126.5h.01M227.5 138h.01M228.8 137.1h.01M241.1 125.4h.01M230.1 134.7h.01M233.1 133.1h.01M233.7 133.8h.01M246.2 121.3h.01M240 126.4h.01M237 130.3h.01M233.4 133.2h.01M243.5 123.1h.01M241.9 126.3h.01M236.6 131.1h.01M229.9 136.4h.01M222.3 194.2h.01M217.8 196.8h.01M216.6 122.7h.01M207.7 187.3h.01M268.2 142h.01M229.7 147.5h.01M249.9 144.5h.01M238.3 172.4h.01M224.8 131h.01M251.2 172.3h.01M205.8 154.8h.01M264.7 167.7h.01M252.8 198.3h.01M219.7 151.8h.01" stroke="#c6c6c6" stroke-width="0.8" stroke-linecap="square" fill="none"/>
<path d="M193.8 196.4h.01M200.9 193.7h.01M203.7 190.9h.01M197.1 190h.01M198.4 193h.01M197.1 194.4h.01M209.7 178.2h.01M199.3 190.8h.01M215 188.1h.01M197.6 180.1h.01M205.2 183h.01M201.8 189.2h.01M190.7 196.5h.01M207.6 187.9h.01M204.8 187.9h.01M188.3 189.6h.01M205.4 184.2h.01M200.5 189.5h.01M200.8 188.8h.01M203.4 186.6h.01M190.9 189.8h.01M205.9 182.3h.01M203.8 188h.01M188.5 177.9h.01M198.3 184.6h.01M196.5 193.8h.01M194.5 191.6h.01M200.9 188.5h.01M211.7 173.8h.01M206.8 184.6h.01M196.5 185.8h.01M200.1 188h.01M195.4 197.7h.01M193.9 189.4h.01M190.3 192.1h.01M204.2 191.7h.01M206.3 183h.01M211.7 183h.01M214.2 191.2h.01M194.9 184.3h.01M206.1 192.8h.01M204.5 191.6h.01M205.6 190.2h.01M209.3 183h.01M188.8 191.3h.01M191.8 184.9h.01M199.6 191.5h.01M204.3 181.8h.01M198.9 195h.01M208.8 186.4h.01M199.4 174.5h.01M204.5 188.1h.01M189.5 192.6h.01M203 186.2h.01M207.1 189.6h.01M199.7 186.7h.01M192.6 196.2h.01M195.9 190.9h.01M212.5 187.1h.01M190 191.1h.01M191.7 182.7h.01M194.6 192.7h.01M201.9 186.1h.01M199.2 182.3h.01M193.6 189.3h.01M205.2 184.3h.01M199 189.9h.01M208.8 178.4h.01M204 187.3h.01M199.6 189.2h.01M195.9 183.2h.01M205.9 185.1h.01M198.3 192.2h.01M191.6 187.3h.01M207.3 189.5h.01M214.2 180.4h.01M190.8 191.7h.01M196.8 185.6h.01M191 187.7h.01M198.8 194.2h.01M206.6 192.2h.01M207.1 189h.01M209.3 186.7h.01M213.1 188.7h.01M213.8 183.9h.01M197.9 201.1h.01M198.4 191h.01M195.7 185.9h.01M201.2 181.8h.01M200.7 194.6h.01M201.9 191.2h.01M205.1 187.9h.01M201.5 190.3h.01M193.3 193.2h.01M190.4 187.6h.01M193.1 183.7h.01M204.5 189.5h.01M216.7 182.6h.01M204.1 182.6h.01M203.2 181h.01M213 178.3h.01M197.8 192.4h.01M192.8 191.4h.01M207.3 185.9h.01M205.9 183.2h.01M200.7 176.8h.01M210 180.9h.01M193.2 190.4h.01M211.4 180.2h.01M198.9 186.4h.01M190.5 184.8h.01M205.2 189.4h.01M194.3 191h.01M203.6 188.4h.01M198.5 188.6h.01M200 182.5h.01M199.8 191.8h.01M197.5 195.2h.01M196.1 183.8h.01M195.3 182.8h.01M201.7 179.3h.01M199.4 186.9h.01M198 190.6h.01M200.9 184.7h.01M205.1 183.7h.01M208.6 191.4h.01M204 191h.01M190.4 194.1h.01M188.1 191.3h.01M200.6 174.3h.01M192.5 186.7h.01M192.6 190.6h.01M202.6 181.1h.01M192 181.5h.01M191 180.7h.01M189 194.2h.01M205 182h.01M201 183.6h.01M210.5 192.7h.01M194 187.6h.01M214 190.5h.01M200.5 190.8h.01M187.1 191h.01M197.2 188.1h.01M199.4 180.3h.01M195.1 200.2h.01M205.9 188.1h.01M197.5 180.7h.01M193.6 182.4h.01M215 184.1h.01M205.4 186.8h.01M198.6 194.2h.01M207.3 188.3h.01M205.2 189.6h.01M198.2 190.6h.01M199.8 186.6h.01M207.9 195.6h.01M198.2 194.4h.01M191.6 190h.01M207.2 184.8h.01M200.3 181.7h.01M193.6 198.4h.01M200.7 187.1h.01M187.5 187.2h.01M191.7 190.6h.01M197.8 185.6h.01M194.7 190.3h.01M206.2 178.6h.01M190.7 196.8h.01M188.2 190.1h.01M203.4 195.6h.01M200.7 192.9h.01M199.4 184h.01M197.8 178.4h.01M208.2 192.2h.01M199.4 192.1h.01M194 197.3h.01M193.4 186.2h.01M191 182.3h.01M207.9 194.9h.01M188.5 191h.01M202.1 184.2h.01M188.3 193.7h.01M207.4 185.7h.01M191 189.6h.01M210.6 189.5h.01M199.6 190.1h.01M195.9 190h.01M195.4 190.3h.01M196 190.2h.01M204.8 186h.01M190.6 193.7h.01M197 186.5h.01M202.5 182.7h.01M207.6 187.8h.01M193.3 186.8h.01M197.2 184.3h.01M203.2 175.4h.01M200.2 186h.01M192.3 193.7h.01M196.7 191.3h.01M195.9 187.9h.01M205.1 190.7h.01M207.1 185.1h.01M210.3 182.4h.01M187.3 188.1h.01M199.8 187.7h.01M201.2 186.8h.01M197.2 187.3h.01M198.1 182.9h.01M211.7 191.2h.01M203.5 197.9h.01M193.7 194.6h.01M188.3 195.1h.01M195.6 194.4h.01M202 191.8h.01M205 188.6h.01M200.1 195.7h.01M203.1 189.1h.01M210 182.9h.01M214.5 188h.01M197.9 181.4h.01M208.3 183.2h.01M200.6 188.2h.01M207.8 188.1h.01M202.5 187.8h.01M206.5 188.3h.01M210.7 180.3h.01M210.1 186.1h.01M203 190.1h.01M198.2 192h.01M199.2 191.7h.01M195.8 195.2h.01M187.1 189.2h.01M199.7 189.2h.01M193 188.4h.01M203.2 191.9h.01M208.6 182.3h.01M198.6 186.8h.01M187.4 190.2h.01M206 178.9h.01M222.8 184.4h.01M213 184h.01M210.7 181.1h.01M210.4 187.8h.01M206.8 189.1h.01M205.1 189.2h.01M209.3 186.5h.01M205.1 188.1h.01M199.3 183.7h.01M187.9 184.8h.01M204.3 184.6h.01M214.2 198.2h.01M204.7 183.8h.01M202.2 186h.01M205.1 196.4h.01M213.7 189.2h.01M204.7 195h.01M207.3 189.6h.01M189.9 188.5h.01M200.6 186.5h.01M192.5 180.6h.01M193.9 189.5h.01M200.3 182.4h.01M201.6 196.3h.01M197.7 178.8h.01M198.3 188.5h.01M209.5 185.3h.01M210.5 185.7h.01M210.7 190.7h.01M211.6 184.6h.01M210.8 203.5h.01M190.8 192.2h.01M202.1 183.5h.01M205.7 185h.01M206 186.6h.01M194.3 195.1h.01M216.3 186.5h.01M199 179.6h.01M202.1 186.9h.01M190.6 181.7h.01M204.6 191h.01M208.7 196.1h.01M201.8 194.3h.01M197.9 183.8h.01M199.9 190h.01M192.9 186.5h.01M203.1 191.1h.01M198.7 190.7h.01M195.3 187.8h.01M202.7 191.7h.01M211.4 183.1h.01M206.2 195.4h.01M205.4 184.1h.01M200.5 180.5h.01M192.2 184h.01M206.7 183.1h.01M200.5 188h.01M196.3 183.3h.01M211 173.9h.01M200.6 191.1h.01M198 188h.01M202.4 188.2h.01M198.9 193.7h.01M205.9 193.2h.01M197.2 178.9h.01M244.9 122.9h.01M239 127.9h.01M239.8 126.9h.01M242.4 125.2h.01M233.8 132.7h.01M243.6 123.2h.01M233.2 132.6h.01M230.2 135.8h.01M232 134.2h.01M237.7 129.2h.01M231.5 134.9h.01M237.9 128.3h.01M233.6 131.7h.01M236.7 130.1h.01M238 128.9h.01M243.5 123.3h.01M230.6 135.1h.01M233.9 132h.01" stroke="#9c9c9c" stroke-width="0.66" stroke-linecap="square" fill="none"/>
<path d="M192.6 194.2h.01M201.4 186.5h.01M196.8 187.2h.01M207.1 184.7h.01M193.1 193.2h.01M198.7 189.4h.01M196.9 188.8h.01M190.3 193h.01M195.1 188.3h.01M201.6 191.3h.01M188.3 191.6h.01M202.4 190.1h.01M194.7 190.7h.01M201.6 190.2h.01M195.6 188.8h.01M197.5 192.3h.01M203.5 185.1h.01M198.3 189.1h.01M194.3 189.5h.01M203.7 188.9h.01M194.8 187.6h.01M196.7 184.3h.01M200.3 188h.01M192.1 189.9h.01M195.3 188.6h.01M195.9 193.6h.01M194.9 192.1h.01M201.2 191.9h.01M198.5 188.4h.01M197.1 182.9h.01M210 183.5h.01M196.1 185.7h.01M199.7 193h.01M195.6 190.8h.01M204.6 189.1h.01M195 184.1h.01M201.3 189.1h.01M196.7 187.6h.01M205.5 180.8h.01M195.7 187.5h.01M190.6 189.1h.01M196.2 193.1h.01M189 187.5h.01M198.4 183.5h.01M188.5 190h.01M192 187.7h.01M198.4 189.8h.01M195.4 188.6h.01M202 186.6h.01M201.6 185.4h.01M202.4 190.9h.01M195.1 199h.01M196.8 187.9h.01M198.4 189.8h.01M193 190.5h.01M197.4 193.2h.01M191.1 193.1h.01M196.5 186.7h.01M199.1 187.4h.01M199.2 188.9h.01M204.1 185.1h.01M204 177.9h.01M208.7 188.5h.01M206.4 186.1h.01M199.1 185h.01M204 182.7h.01M194.9 189.7h.01M200.2 188.8h.01M192.8 189.3h.01M202.3 190.7h.01M202.8 188.1h.01M196.9 187.2h.01M196.2 188.9h.01M200.7 186h.01M207.6 181.9h.01M202.4 186.3h.01M197.7 187.5h.01M205.8 184.8h.01M201.5 187.6h.01M202.9 188.6h.01M205.9 183.4h.01M196.5 194.4h.01M204.9 186.3h.01M197.6 189.5h.01M204.2 183.9h.01M205.6 185.6h.01M196.6 187.8h.01M189 192.8h.01M191.9 189h.01M194.7 190.5h.01M202.2 187.1h.01M200 189.1h.01M207 187.1h.01M206.2 185.4h.01M199.8 185.9h.01M200.7 184.9h.01M200.3 185.7h.01M198.3 192.2h.01M200.2 190.2h.01M195.7 183.6h.01M205.6 185.2h.01M196.6 192h.01M192.6 188.2h.01M203.5 184.4h.01M203.8 185.5h.01M197.8 188.8h.01M197.4 192.1h.01M204 186.6h.01M202.2 188.7h.01M205.2 181h.01M204.5 189h.01M197.2 188.9h.01M198.3 192.3h.01M193.9 191.9h.01M205.4 187.6h.01M196 187.8h.01M187.6 189.1h.01M203 183.8h.01M190.7 190.4h.01M192.1 192.1h.01M195.5 192.4h.01M196.8 184.6h.01M194.4 187.8h.01M195.9 193.1h.01M194.3 191h.01M196.5 190.9h.01M190.3 186.5h.01M202.6 191.3h.01M191.8 189.8h.01M195.4 186.6h.01M203.4 186.7h.01M191.9 190.1h.01M204.4 184h.01M195.4 186.9h.01M199 186.5h.01M202.2 184.4h.01M192.2 192.1h.01M200.3 188.5h.01M195.5 188.1h.01M205 197.6h.01M194.7 189.2h.01M197.1 190.6h.01M199.3 189.8h.01M206.3 184.7h.01M197.7 189.8h.01M208.4 183.6h.01M208 188.6h.01M194.4 191.1h.01M205.1 186.1h.01M201.7 193.9h.01M202.6 193.6h.01M196.1 194.4h.01M193.9 182.5h.01M194.3 188.4h.01M199.3 190.4h.01M202.6 188.5h.01M197 194.5h.01M204.5 186.3h.01M196 189.1h.01M197 186.8h.01M198 186.5h.01M201.2 185.4h.01M201.4 188.3h.01M200.1 189.4h.01M196.4 197.1h.01M196.2 191.5h.01M198.4 187h.01M208.2 188.3h.01M198 190.3h.01M203.6 191.4h.01M203.4 186h.01M196.4 185.5h.01M200.9 190.2h.01M197.5 190.8h.01M198.9 186.8h.01M194 193.5h.01M211.4 185.4h.01M192.6 187.3h.01M200.6 189.6h.01M203.6 179h.01M207.8 185.5h.01M199.8 189.1h.01M196.8 188.1h.01M202.1 181.7h.01M198.8 190h.01M190.7 190.7h.01M206.5 186.6h.01M202.9 189h.01M200.2 188.9h.01M194.7 189.1h.01M206.4 181.7h.01M196.7 185.1h.01M195.4 187.1h.01M193.1 191.1h.01M194.8 191.4h.01M204.9 178.1h.01M195.9 182.8h.01M198.6 189.5h.01M201 191.2h.01M197.8 183.2h.01M205 183h.01M198.7 189.3h.01M194.6 190h.01M204.2 181h.01M190.3 189.9h.01M196.7 185h.01M188.7 194.8h.01M199.3 183.9h.01M201.5 187.1h.01M198.2 184.3h.01M198.2 190h.01M189.3 188.4h.01M205.4 192.1h.01M201.9 186.9h.01M193.2 189h.01M198 189.9h.01M200.1 195.6h.01M202.9 179.9h.01M193.2 190.3h.01M203.9 187.7h.01M205.9 187.5h.01M211.9 186h.01M202.6 191.7h.01M196.1 187.5h.01M194.2 190.7h.01M201.8 190.1h.01M206.4 187.4h.01M204.5 185.4h.01M194.9 192h.01M205 190.2h.01M197.5 187.2h.01M197.4 189.9h.01M198.4 187.8h.01M199.7 187h.01M199.8 186h.01M191.1 190.1h.01M207 182.7h.01M204.6 190.4h.01M196.4 189.9h.01M188.4 193.8h.01M206.4 186.1h.01M188.7 190.1h.01M195.3 189.8h.01M199.8 186.6h.01M196.5 186.5h.01M201.8 187.8h.01M199.9 186.2h.01M200.9 186.5h.01M200.1 187.3h.01M194.5 186.3h.01M188.5 187.7h.01M204.3 196.5h.01M190.1 188.8h.01M202.4 198.2h.01M196.6 185.3h.01M202.9 193.3h.01M203.6 182.8h.01M197.7 186.6h.01M201 182.8h.01M200.5 188.3h.01M202 188.4h.01M197.7 183h.01M196.3 186.1h.01M201.1 186.6h.01M200.7 191h.01M200 193.1h.01M201.3 182.6h.01M197.2 192.7h.01M197.6 192.4h.01M196 188.9h.01M202.1 182h.01M198.7 186.8h.01M201.4 192.7h.01M199.8 183.6h.01M203 185.3h.01M200.8 191.2h.01M198.3 191.4h.01M198.7 185.4h.01M195.9 184.9h.01M204.6 186.6h.01M202.3 183.4h.01M201.6 183.4h.01M200.1 187.7h.01M196.3 190.1h.01M198.1 185.7h.01M193.9 185.8h.01M205.5 186.2h.01M197.8 190.8h.01M193.5 186.4h.01M202.1 192h.01M200.4 188.1h.01M205.6 180.8h.01M212.3 179.8h.01M197.1 184.6h.01M192.7 189.7h.01M209.6 181.3h.01M196.1 190h.01M193.7 189.3h.01M200.5 180.6h.01M197.1 187.9h.01M196.2 188.8h.01M189.7 190.1h.01M195.2 186.2h.01M206.9 191.6h.01M201.7 184.4h.01M206.1 187.1h.01M195.5 191.3h.01M196.6 190.8h.01M204.4 189.9h.01M193.6 189.7h.01M197.6 184.8h.01M201.5 189.4h.01M191.6 189.1h.01M192.2 186.5h.01M195.1 193.9h.01M195.2 188.2h.01M204.6 189.4h.01M203.4 179.9h.01M200.6 181.9h.01M195.3 188.1h.01M198.1 194.7h.01M199.2 191.8h.01M197.9 188.3h.01M201.7 188.6h.01M199.4 182.4h.01M201.6 188.2h.01M201.6 187h.01M199.4 183.8h.01M203 182.8h.01M206.6 188.6h.01M198.2 187.5h.01M202.2 186h.01M193.4 191.1h.01M192.5 189h.01M208.2 187.4h.01M196.6 188.8h.01M195.7 189.3h.01M192.6 192.7h.01M198.2 186.4h.01M198.6 196.7h.01M196.2 187.6h.01M195.5 187.8h.01M205.8 187.8h.01M201.2 188.5h.01M190.9 183.4h.01M206.8 187.6h.01M200.1 188.6h.01M199.8 187.9h.01M195.2 182.3h.01M201.6 187.3h.01M203.8 187.4h.01M198.1 190.4h.01M199.2 186.6h.01M196.6 187.7h.01M196.9 187.5h.01M206.5 194.8h.01M199.4 191.6h.01M196.4 188.6h.01M193.8 185.6h.01M194.2 188.2h.01M199.2 187h.01M192.7 189.2h.01M205.1 183.1h.01M200.2 190.9h.01M194.4 188h.01M214 186.7h.01M196.4 189.6h.01M199.4 188.4h.01M200.7 186.5h.01M187.2 189.3h.01M198.1 184.1h.01M198.8 193h.01M199.3 185.9h.01M200.5 190.9h.01M189.3 187.6h.01M195.2 188.1h.01M197.8 186.7h.01M199.4 188.3h.01M192.6 188.5h.01M193.2 191.2h.01M200.7 189.6h.01M194.1 188.2h.01M188.2 192.1h.01M191.4 192h.01M204.4 187.6h.01M202 187.7h.01M201.5 190.2h.01M206.9 191.7h.01M198.4 191h.01M203.4 187.9h.01M198.8 184.2h.01M203.1 183.8h.01M194.8 186.9h.01M200.5 184.5h.01M201.6 189h.01M198.9 187.1h.01M203 190.9h.01M195.5 186h.01M195 186.8h.01M197.5 188.2h.01M189.3 196.3h.01M194.5 188.4h.01M187.4 186h.01M194.2 190.6h.01M201 181.6h.01M201.4 192.1h.01M198.4 191.3h.01M199.3 185h.01M202.9 184.7h.01M200.1 186.4h.01M197.9 189h.01M203.4 181.1h.01M193.6 190.4h.01M203.3 186h.01M198.4 190h.01M205.4 182.9h.01M190.9 190.2h.01M201.1 183.2h.01M205.2 188.9h.01M201.7 184.4h.01M193.3 192.3h.01M200.8 189.7h.01M189.3 182.2h.01M205.2 189.1h.01M197.5 188.7h.01M201.7 189.5h.01M197.4 187.1h.01M195.2 192.8h.01M195.8 178.4h.01M199.8 186h.01M192.2 189h.01M192.2 189.2h.01M196.7 190.6h.01M192.1 184.8h.01M194.5 185.4h.01M202.1 186.3h.01M189.9 188.6h.01M198.6 188.1h.01M189.9 191h.01M201.2 190.5h.01M203.9 185.9h.01M192.2 189.4h.01M201 184.5h.01M203.8 183.3h.01M194.3 192.5h.01M198.6 189.3h.01M197.4 188.8h.01M197.9 194.6h.01M201.8 186.7h.01M201.9 189.7h.01M196.5 189.6h.01M199.2 186.2h.01M194.9 189h.01M196.9 187.6h.01M189.6 191.8h.01M202 187.3h.01M207.9 187.6h.01M196.4 186.9h.01M200.8 186.3h.01M191.2 191.4h.01M197.1 188.1h.01M201.9 187.7h.01M207.7 182.6h.01M198.6 189.2h.01M196.2 187.5h.01M205.7 181.1h.01M198.7 182.7h.01M198.4 182.2h.01M194.4 193.4h.01M206.3 185.9h.01M186.8 195.8h.01M198.8 184.7h.01M195.7 185.1h.01M198.3 188.1h.01M200.2 190.2h.01M193.5 183.1h.01M191.9 186.7h.01M196.6 187.6h.01M200 192.1h.01M197.8 185.1h.01M196.4 186.3h.01M198.2 190.2h.01M194.1 192.1h.01M208.9 189.4h.01M206.6 185.6h.01M194.4 196.2h.01M198.8 188.9h.01M196.1 186.2h.01M200.3 183.2h.01M192.8 192.1h.01M196.1 186.5h.01M202.6 191.3h.01M197.3 188.3h.01M202.4 189.9h.01M204.4 188.3h.01M196.2 190.8h.01M197.1 183.4h.01M205.3 187.7h.01M205.3 185.6h.01M202.2 186.7h.01M200.5 190.5h.01M199.7 189.8h.01M199.9 191.7h.01M200.2 182.4h.01M207.2 186.5h.01M195.7 187.3h.01M208.4 185h.01M201.8 189h.01M197.7 194.1h.01M208 182.4h.01M202.6 181.7h.01M197.3 189h.01M199.6 189.7h.01M201.1 188.5h.01M198.5 189.3h.01M198.2 194.7h.01M200.4 191.6h.01M199.2 187.6h.01M196.6 184.9h.01M209.1 185.8h.01M199 186.7h.01M204.6 185.1h.01M196.1 187.5h.01M206.5 186.4h.01M197.5 186.7h.01M205.2 186.8h.01M198.1 191.3h.01M202 183.9h.01M205.4 189.3h.01M196.3 184.9h.01M203.7 185.3h.01M197.6 187.7h.01M198.4 191h.01M194.2 191.6h.01M205.4 189.1h.01M202.5 187.7h.01M197.8 188.2h.01M196.4 194.4h.01M197.2 185.6h.01M204.3 191h.01M199.8 186.8h.01M194.2 191.9h.01M197 186.8h.01M200.4 183.6h.01M199.9 180.2h.01M194.5 185.3h.01M198.5 190.8h.01M194 194.2h.01M195.1 188h.01M202.8 184.5h.01M205.5 185.1h.01M197.4 185.7h.01M204.2 186h.01M195.6 186.4h.01M195.7 189h.01M196.3 191.6h.01M198.1 186.5h.01M202.5 191.4h.01M189.4 192.8h.01M204.1 186.7h.01M201.2 182.5h.01M196.3 192.3h.01M198.5 188.5h.01M202.2 188.1h.01M200.5 186h.01M198.8 192.3h.01M195.1 185h.01M198.1 191.3h.01M207.4 185.5h.01M196.6 190.9h.01M201.5 190.9h.01M202.1 189.4h.01M201.7 188.5h.01M194.4 189.3h.01M207.7 189.1h.01M203.8 187.6h.01M198.7 189.3h.01M198.4 191.7h.01M196.7 186.6h.01M192.9 195.2h.01M194.5 187.1h.01M202.6 192.4h.01M201.7 186.1h.01M200.7 184.9h.01M197.7 188.7h.01M199.7 190.3h.01M203.3 192.5h.01M202.5 186h.01M199.3 185.4h.01M195.7 188.3h.01M203 184.5h.01M190.6 188h.01M193.1 189.7h.01M196.3 185.5h.01M194.8 188.4h.01M201.4 189.2h.01M204.8 185.2h.01M201.9 187.3h.01M193.2 188.3h.01M209 184h.01M207.5 187.6h.01M206.5 184.8h.01M203 185.7h.01M192.6 186.8h.01M199.4 183h.01M199.8 185.1h.01M199.2 183.8h.01M202.7 186.1h.01M190.4 186.8h.01M197.6 183.5h.01M201 188.9h.01M197.3 193.1h.01M206 186.6h.01M201.6 188.7h.01M199.1 192.2h.01M194 182.1h.01M199.5 189.3h.01M201.7 183.7h.01M204.6 183.5h.01M202.6 189.1h.01M200.9 191h.01M198.7 194.6h.01M200.8 186.2h.01M211.1 183.7h.01M192.9 194.8h.01M205.6 183.9h.01M195.5 192.9h.01M198.3 185.4h.01M196.8 189.1h.01M205.1 190.8h.01M197.7 193.4h.01M192.7 192.7h.01M198.8 189.6h.01M196.3 186.9h.01M201.4 190.8h.01M188.8 192h.01M196.1 185.9h.01M193.3 191.8h.01M202.2 189h.01M188.3 187.3h.01M195.7 188h.01M206.8 184.1h.01M200.6 190.7h.01M207.1 186.3h.01M202.5 192.9h.01M195.3 183.9h.01M195.2 188.5h.01M205.4 186.8h.01M204.7 186.4h.01M198.6 186.5h.01M193.8 191.6h.01M201.3 189.1h.01M196.1 187.9h.01M201.4 189.2h.01M207.4 182.4h.01M204.5 188.9h.01M197.9 189h.01M200.3 192.4h.01M211.1 184.7h.01M198.8 191.2h.01M201.1 186.8h.01M203.4 189.3h.01M198 191.1h.01M187.3 188.4h.01M197.7 189.1h.01M193.7 194.7h.01M197.4 189.2h.01M199.6 190.3h.01M197.1 191.2h.01M193.7 185.4h.01M201.5 187.7h.01M201.1 181.3h.01M198.9 186.2h.01M197.7 187.4h.01M196.6 186.9h.01M202 181.7h.01M191.6 191.9h.01M207.6 182.6h.01M193.6 186.4h.01M195.5 193.3h.01M203.1 189.5h.01M200.8 188.2h.01M195.3 186.4h.01M204.4 193.9h.01M198.6 192.3h.01M195.8 189.4h.01M206.8 185.1h.01M201.4 185.5h.01M206.5 181.6h.01M201.4 186.5h.01M200.3 188.8h.01M206 188.3h.01M204.3 187.4h.01M195.4 193.6h.01M206.6 186.9h.01M202.5 186.2h.01M193.3 193.3h.01M197.6 194.7h.01M202.2 186.9h.01M196.3 189.5h.01M193.9 188.8h.01M206.1 184.6h.01M207.4 184.8h.01M200 184.9h.01M197.2 187.4h.01M194.5 195.8h.01M201.7 186.9h.01M194 190.1h.01M193.1 187.2h.01M200.3 194.4h.01M191.5 192.6h.01M193.5 181h.01M192.3 190.1h.01M198.5 185.9h.01M207.8 186.6h.01M194.4 184.6h.01M199.1 186h.01M202.7 183.5h.01M204.1 184.8h.01M199.6 187.1h.01M203 190.3h.01M195.5 186.6h.01M208.7 187.6h.01M208.8 187.6h.01M201.2 192.4h.01M195.4 188.1h.01M197.8 190.7h.01M194.8 189.1h.01M194.8 188.9h.01M205.3 189.3h.01M200.5 195.6h.01M196.2 190.6h.01M194.5 182.8h.01M194.7 193.6h.01M194.2 199.1h.01M198.7 189.1h.01M204.8 186.1h.01M195.4 187.5h.01M195.1 191.3h.01M197.3 190.4h.01M191.5 189.5h.01M208.9 185.7h.01M199.7 191.6h.01M201.8 191.9h.01M194.3 192.3h.01M194.7 191.8h.01M211.9 188.2h.01M195.4 190.8h.01M200.4 185.4h.01M199 184.8h.01M204.4 189.1h.01M198.9 190.3h.01M209.9 183.7h.01M190.6 192.3h.01M196 186.7h.01M204.2 189.4h.01M203.4 191.7h.01M195.6 188.1h.01M198.2 179.9h.01M198 188.7h.01M194.7 190.4h.01M203.2 184.6h.01M201.4 186.8h.01M198.3 188.8h.01M206.5 187h.01M202.3 187.4h.01M189.9 194.4h.01M198.9 188.5h.01M195 184.7h.01M207.7 190.7h.01M204.4 180.4h.01M200.3 183.9h.01M197.5 187h.01M195.2 187.1h.01M197.5 191.1h.01M207.4 188h.01M198.7 187.8h.01M197.8 188.5h.01M195.8 188.7h.01M202.6 186.1h.01M195 189.2h.01M199.2 187.8h.01M198.4 190.6h.01M197.7 185.4h.01M200.8 185.2h.01M203.3 189.1h.01M201.5 188.2h.01M192.4 189.9h.01M200.1 189.7h.01M193.5 189.7h.01M191.9 191.3h.01M199.4 188.4h.01M207.4 187.4h.01M197.4 186.9h.01M197.6 191.1h.01M202.7 185.2h.01M197.9 187.2h.01M202.3 187.5h.01M194.6 186.9h.01M203.6 182.1h.01M187.3 182.7h.01M207.9 183.2h.01M203.5 188.3h.01M204 189.9h.01M196.7 188.9h.01M204.1 188h.01M194.6 187.4h.01M192.4 191.4h.01M194.8 184.8h.01M196.6 190h.01M199.5 187.2h.01M200.3 189.7h.01M192.4 187.9h.01M204.2 188.6h.01M191.6 188.6h.01M206.5 187.8h.01M199.2 191.3h.01M206.8 189.8h.01M191 187h.01M196.4 188.9h.01M197.5 189.5h.01M207 188.7h.01M203.6 186.5h.01M207.1 186.6h.01M200 187.7h.01M192.4 197.3h.01M199.7 190.7h.01M209.4 183.8h.01M194.4 193h.01M199.1 185.1h.01M203.5 186.6h.01M191.9 182.8h.01M194.6 190.9h.01M195 192.7h.01M209.6 185.3h.01M199.9 187.6h.01M203 186.8h.01M205.2 190.3h.01M201.9 184h.01M201.8 186.3h.01M201.4 190.3h.01M196 189.9h.01M205 183.3h.01M198.7 190.5h.01M198.8 191.4h.01M192.6 185.7h.01M200.5 187.1h.01M201.3 190.3h.01M203.5 185.4h.01M195.1 183.5h.01M194.5 190.5h.01M198.4 183.7h.01M202.6 186.7h.01M203.7 185.3h.01M202.3 183.4h.01M189.3 189.1h.01M202.6 188.1h.01M190.1 191.8h.01M203.8 191.7h.01M203.1 188.2h.01M191.8 191.9h.01M189.3 190.8h.01M196.2 186.1h.01M193.9 189.5h.01M201 185.4h.01M201 189.6h.01M200.7 193.5h.01M196.7 186.7h.01M191 194.4h.01M201.9 186.5h.01M200.2 187.3h.01M203 186.6h.01M199.9 187.6h.01M192.5 183.6h.01M200.2 183.8h.01M201.4 189.3h.01M207.1 182.9h.01M200.5 190.5h.01M195.1 187.7h.01M203.1 193.1h.01M205 189h.01M195 191.7h.01M203 182.7h.01M198.7 187.6h.01M200.2 182.3h.01M202.2 187h.01M195.5 182.8h.01M188.5 190.3h.01M202.4 188.2h.01M200.7 182.2h.01M201.2 191.5h.01M192.2 192.7h.01M196 190.9h.01M197.7 183.5h.01" stroke="#6e6e6e" stroke-width="0.62" stroke-linecap="square" fill="none"/>
<path d="M185.5 114.5H282V204.5" stroke="#8c8c8c" stroke-width="1" fill="none"/>
<path d="M185.5 114V204.5H282.5" stroke="#7e7e7e" stroke-width="1.05" fill="none"/>
<path d="M185.5 197.7h-2.5M185.5 193.8h-2.5M185.5 191h-2.5M185.5 188.8h-2.5M185.5 187h-2.5M185.5 185.5h-2.5M185.5 184.2h-2.5M185.5 183h-2.5M185.5 182h-3.9M185.5 175.2h-2.5M185.5 171.3h-2.5M185.5 168.5h-2.5M185.5 166.3h-2.5M185.5 164.5h-2.5M185.5 163h-2.5M185.5 161.7h-2.5M185.5 160.5h-2.5M185.5 159.5h-3.9M185.5 152.7h-2.5M185.5 148.8h-2.5M185.5 146h-2.5M185.5 143.8h-2.5M185.5 142h-2.5M185.5 140.5h-2.5M185.5 139.2h-2.5M185.5 138h-2.5M185.5 137h-3.9M185.5 130.2h-2.5M185.5 126.3h-2.5M185.5 123.5h-2.5M185.5 121.3h-2.5M185.5 119.5h-2.5M185.5 118h-2.5M185.5 116.7h-2.5M185.5 115.5h-2.5M185.5 114.5h-3.9M192.8 204.5v1.9M197 204.5v1.9M200 204.5v1.9M202.4 204.5v1.9M204.3 204.5v1.9M205.9 204.5v1.9M207.3 204.5v1.9M208.5 204.5v1.9M209.6 204.5v3.4M216.9 204.5v1.9M221.1 204.5v1.9M224.1 204.5v1.9M226.5 204.5v1.9M228.4 204.5v1.9M230 204.5v1.9M231.4 204.5v1.9M232.6 204.5v1.9M233.8 204.5v3.4M241 204.5v1.9M245.3 204.5v1.9M248.3 204.5v1.9M250.6 204.5v1.9M252.5 204.5v1.9M254.1 204.5v1.9M255.5 204.5v1.9M256.8 204.5v1.9M257.9 204.5v3.4M265.1 204.5v1.9M269.4 204.5v1.9M272.4 204.5v1.9M274.7 204.5v1.9M276.6 204.5v1.9M278.3 204.5v1.9M279.7 204.5v1.9M280.9 204.5v1.9M282 204.5v3.4" stroke="#8e8e8e" stroke-width=".75" fill="none"/>
<path d="M221.5 114.5V204.5M185.5 171.5H282" stroke="#3e3e3e" stroke-width="1.2" fill="none"/>
<text x="280.1" y="122.3" text-anchor="end" class="pc">1.4%</text>
<text x="280.1" y="179.1" text-anchor="end" class="pc">1.2%</text>
<ellipse cx="315.8" cy="193.4" rx="11.5" ry="6.1" transform="rotate(4 315.8 193.4)" fill="url(#rg)" opacity="0.88"/>
<ellipse cx="351.1" cy="193.2" rx="7.1" ry="8.3" transform="rotate(0 351.1 193.2)" fill="url(#rg)" opacity="0.3"/>
<path d="M312.6 201.5h.01M313.2 186.8h.01M313.9 201.6h.01M302.9 199h.01M324.3 190.2h.01M314.9 187.3h.01M303.4 180.8h.01M313.1 195.9h.01M308 189.5h.01M309.7 190.4h.01M322.1 200.7h.01M324.8 195.3h.01M333.3 198.2h.01M323.4 196.5h.01M327.8 186.3h.01M308.2 192.3h.01M314.3 194.2h.01M325.3 201.5h.01M321.3 202.1h.01M311 194.7h.01M316.8 186.1h.01M320.4 198.9h.01M314.1 192.7h.01M330.4 192h.01M314.4 194.1h.01M322.8 195.4h.01M331.6 196.3h.01M305.4 180.8h.01M316.2 203.4h.01M318.6 189.6h.01M320.8 196.1h.01M332.5 184.9h.01M326.5 194.2h.01M326.7 200.2h.01M323.9 187.6h.01M316.1 199.2h.01M308.8 187.7h.01M329.3 191.3h.01M323.7 175.5h.01M345.5 182h.01M323.9 187.4h.01M320.9 186.5h.01M319.6 188.7h.01M306.2 196.2h.01M317.9 192.6h.01M304.4 186.8h.01M315.1 188.2h.01M321.7 192.9h.01M315.5 191.1h.01M322 199.4h.01M305.4 197.8h.01M327.5 198.3h.01M311.6 193.3h.01M342 185.2h.01M327.3 191.3h.01M336.3 194.6h.01M327.6 188.9h.01M311.6 202.6h.01M303.9 187.9h.01M315.6 183.9h.01M325.4 184.8h.01M318.5 190.8h.01M326.9 194.8h.01M329.6 204h.01M326.1 191.7h.01M316.2 196.4h.01M304.5 184.5h.01M316.9 203.9h.01M305.3 193.2h.01M309.6 196.6h.01M321.8 192.4h.01M328.1 191.4h.01M316.5 194.3h.01M327 187.6h.01M313 187h.01M324.1 195.5h.01M320.7 183.9h.01M309.3 182.1h.01M302.9 186.4h.01M320.9 195.9h.01M321.1 203.1h.01M328.1 183.1h.01M323.2 194.3h.01M321.8 187.7h.01M333.8 194.1h.01M312.2 179.9h.01M315.6 183h.01M316.6 198.8h.01M329.9 198.1h.01M313.6 184.2h.01M315.9 193h.01M316.4 190.2h.01M320.1 182.9h.01M330.2 185.3h.01M319.6 186.6h.01M333.3 189.7h.01M307.7 189.1h.01M328.3 184.8h.01M303.5 187.8h.01M327.7 173.4h.01M315.4 198.4h.01M317.3 179.8h.01M312.7 196.1h.01M305.5 189.5h.01M310.2 194.4h.01M345.6 194.8h.01M302.5 202.4h.01M314.8 189.3h.01M323.1 197.8h.01M320.2 194.8h.01M320.4 184.4h.01M326.2 198.8h.01M309.9 180h.01M311 193.1h.01M333.6 194.9h.01M318.5 194h.01M319.1 197h.01M326.3 204h.01M310.3 188.9h.01M312.6 195.2h.01M340.3 195.1h.01M320.1 186.3h.01M302.6 203.2h.01M316.2 201.7h.01M327.4 189.6h.01M321.1 186.4h.01M325.1 191.8h.01M326.2 201.3h.01M310.9 197.2h.01M323.1 189.1h.01M320.4 200.8h.01M319.3 199h.01M321.2 201.1h.01M316.6 190h.01M326.1 177.4h.01M311.4 202.2h.01M336.4 190.2h.01M309.2 194.3h.01M335.6 188.7h.01M328 189.6h.01M329.9 196.3h.01M334.3 192.8h.01M327.9 184.4h.01M306.8 194.9h.01M318.7 198.3h.01M344.4 189.9h.01M305.1 184.2h.01M310.4 199.6h.01M322.5 190.6h.01M325.7 191.7h.01M320.9 192.4h.01M302.3 196.7h.01M319.5 188.3h.01M320.4 187.5h.01M317.8 189.7h.01M322.3 186.3h.01M317 189.4h.01M307 191h.01M325.6 197.7h.01M321.7 191.7h.01M329 191.1h.01M326.6 181.1h.01M304.8 186.4h.01M331.1 191.4h.01M323.8 185.2h.01M318.5 187.8h.01M321.2 190.8h.01M314 175.1h.01M321.7 177.5h.01M313 181.5h.01M341.6 185.1h.01M313.4 194.4h.01M314.4 193.6h.01M329.1 188.6h.01M324.2 191.7h.01M353.3 199.2h.01M346.4 191.1h.01M346.6 199.3h.01M346.3 188.8h.01M347.2 201.5h.01M344.2 181.7h.01M350.1 188.7h.01M346.3 202h.01M348.9 173.3h.01M351.4 180.1h.01M348.2 187.5h.01M346.4 188.2h.01M350 197.4h.01M370.9 185.7h.01M349.6 202h.01M365 198.9h.01M353.5 202.6h.01M349 180.9h.01M362.4 184h.01M345.4 193.1h.01M346.3 197.9h.01M353.4 190.1h.01M362.7 202h.01M356.7 185.9h.01M341.1 186h.01M361.4 187.9h.01M364.6 180.5h.01M357.4 190.9h.01M343 195.3h.01M350 189.4h.01M338.1 183h.01M348.2 190.6h.01M350 193.8h.01M350.5 203.2h.01M356.9 200.8h.01M341.9 193.4h.01M351.8 197.6h.01M348.1 193.2h.01M345.9 188.8h.01M355.3 187.4h.01M346.8 190.7h.01M355.1 195.6h.01M344.4 188.1h.01M344.6 183h.01M369.7 202.7h.01M357.8 189.4h.01M361.6 198.4h.01M358.2 199.7h.01M355.3 195.3h.01M349.9 176.8h.01M341.6 183.8h.01M343 181.3h.01M342.3 181.9h.01M340.3 186.4h.01M351.1 175.8h.01M345.8 174.4h.01M340.6 183.3h.01M352.4 173.6h.01M347 177h.01M347.8 173.7h.01M352.8 173h.01M346.4 179.9h.01M346.7 176.5h.01M343.3 181.1h.01M349.9 178.1h.01M340.9 184.9h.01M345.3 180.1h.01M345.7 178h.01M342.8 183.6h.01M352.3 174.4h.01M345.4 180.6h.01M348 175.9h.01M351.7 174.6h.01M344.2 183h.01M345.7 181.4h.01M344.5 183.2h.01M345 180.6h.01M346.2 176.8h.01M347.4 177.8h.01M350.3 172.6h.01M342.2 182.4h.01M350.3 174.6h.01M346.6 178.9h.01M339.8 183.6h.01M349 174.5h.01M351.1 174.6h.01M347.6 177.8h.01M348.5 178.7h.01M338.3 183.2h.01M341.3 182.6h.01M352.9 122.9h.01M348.4 128.8h.01M349.6 127.9h.01M349.3 126.9h.01M346.9 128.2h.01M354.3 123.3h.01M354.4 123.9h.01M354.2 124.5h.01M351.7 125.9h.01M353.4 123.2h.01M352.1 124.1h.01M351.2 124.2h.01M353.9 123.2h.01M351.1 125.7h.01M323.3 173.2h.01M329.6 156.5h.01M321.9 170.9h.01M328.1 162.1h.01M322.6 171.7h.01M323 170.9h.01M331.1 160.2h.01M327.1 161.5h.01M325.4 166.4h.01M322.4 172.3h.01M327.2 142.8h.01M359.6 125.8h.01M360.3 160.1h.01M342.2 126.5h.01M349.1 188.3h.01M372.6 177h.01M342 133.9h.01M374.8 127h.01M353.2 149h.01M334.3 124.3h.01M342.1 166h.01M355.9 185.3h.01M365.6 197.2h.01M336.7 144.5h.01" stroke="#c6c6c6" stroke-width="0.8" stroke-linecap="square" fill="none"/>
<path d="M323.1 190h.01M321.4 190.9h.01M320.2 189.7h.01M318.8 200.8h.01M319.5 188h.01M310.5 193.4h.01M322.7 188.7h.01M310 186.3h.01M329.4 195.4h.01M318.9 191.7h.01M330.5 196.6h.01M315.3 198.1h.01M320.8 192.4h.01M313.7 193.1h.01M327.1 188.3h.01M303.8 195.1h.01M323.8 199.7h.01M321.1 187.5h.01M322.4 194.4h.01M309.3 186.3h.01M304.9 192.7h.01M306.7 194h.01M315 195.8h.01M323.1 190h.01M313.4 196.1h.01M311.3 197h.01M320.6 197.2h.01M311.7 196.1h.01M314.7 194h.01M321.2 191.3h.01M316.7 183.6h.01M311 195.4h.01M308.9 184.1h.01M305.8 191.3h.01M321.2 195.8h.01M305.7 194.2h.01M307 197h.01M319.5 190.9h.01M312.9 192.7h.01M311.7 197.7h.01M318.8 191.1h.01M320.1 187.9h.01M317.6 192h.01M312.1 192.7h.01M318.5 187.4h.01M322.4 191.3h.01M318.5 200.2h.01M307.9 199.4h.01M313.2 200.8h.01M310 197.1h.01M311.8 198.1h.01M322.8 195.1h.01M309.9 197.1h.01M319.4 189h.01M320.5 192.9h.01M315.8 189.2h.01M317.6 196.9h.01M310 196.1h.01M303 192.8h.01M318.6 189.5h.01M317.9 188h.01M329.9 195.8h.01M324.6 190h.01M326.2 193.3h.01M324.7 195.5h.01M318.5 197.7h.01M312.2 191.3h.01M324.2 195.7h.01M312.7 188.6h.01M328.1 180.8h.01M323 193.1h.01M306.8 194.2h.01M319.2 202.8h.01M319.2 183.2h.01M309.4 195.9h.01M312.9 192.8h.01M315.3 199h.01M318.8 192.8h.01M311.4 197h.01M311.2 194.6h.01M319.1 196.5h.01M321.9 194.8h.01M330.3 197.4h.01M311.2 189.2h.01M311 198.3h.01M308 199.1h.01M319.6 191.1h.01M309.2 192.3h.01M321.8 193.3h.01M321.4 194.3h.01M326.2 191.9h.01M315.7 188.6h.01M314.4 189h.01M305.6 191.6h.01M321.8 184.5h.01M307.7 186.9h.01M318.8 195.7h.01M318.7 192.6h.01M310.8 193.6h.01M310.2 191.9h.01M319.3 192.4h.01M325.5 185h.01M304.8 196.5h.01M312.5 191.1h.01M312.4 192.7h.01M315.1 194.6h.01M322.4 201.2h.01M310 193.7h.01M309.2 193h.01M318.3 193.2h.01M317.8 196h.01M308.9 192.5h.01M323.5 197.5h.01M323.5 190.4h.01M311.4 196.9h.01M316.3 194.4h.01M313.6 196.8h.01M317.8 189.3h.01M319 192h.01M314.3 195.4h.01M317.5 191h.01M308.2 190.9h.01M315.7 188.3h.01M311.3 202.4h.01M311.8 193.2h.01M307.7 191.3h.01M318 194h.01M304.4 192.6h.01M309.1 197.2h.01M315.2 199.6h.01M319.2 188.7h.01M323.2 191.7h.01M315.5 193.6h.01M306.9 197.4h.01M317.7 189.1h.01M306.5 194.4h.01M324.8 195.5h.01M318.6 191.7h.01M323.9 196h.01M310.9 190.4h.01M337.5 194.2h.01M319.2 196.6h.01M314.2 201.8h.01M309.4 189.4h.01M327.5 197.7h.01M321.7 193.2h.01M316 193.8h.01M319.5 191h.01M323.2 200.8h.01M312.9 189.1h.01M316.5 203.3h.01M309.2 198.2h.01M311.8 189.9h.01M324 193.1h.01M315.8 196.1h.01M324.2 194.8h.01M327.5 191.3h.01M312.5 195.8h.01M321.4 186.6h.01M313.9 195.9h.01M314.7 200.4h.01M305.1 193.3h.01M310.8 186.4h.01M314.7 192.9h.01M313.6 190.5h.01M322.7 189.5h.01M312.3 187.3h.01M324.9 187.9h.01M328.7 190.4h.01M315.5 199.8h.01M308.4 198.1h.01M307.3 190.8h.01M320.2 194.9h.01M318.6 194.7h.01M327.9 187.6h.01M311.2 196.5h.01M306.1 189.8h.01M333.2 199.9h.01M319.9 193.9h.01M315.4 189.7h.01M310.4 188.9h.01M307.3 193.2h.01M319.6 189.7h.01M317.6 188h.01M319 192.2h.01M315.8 194.1h.01M325.5 194.8h.01M311.7 193.6h.01M319 195.7h.01M324 190.5h.01M307.7 195.2h.01M308.2 194.6h.01M335.2 199.7h.01M306.2 189.3h.01M319.2 192.4h.01M321.2 194.6h.01M318.5 195.7h.01M304.9 197.2h.01M306.5 189.1h.01M319.3 192h.01M308.4 183.9h.01M320.6 188.9h.01M313.6 194.1h.01M315.7 194.9h.01M327.9 197h.01M309.1 192.7h.01M314.9 189.7h.01M321.1 192.1h.01M317.8 196h.01M331.4 191.9h.01M320.8 202.4h.01M327.6 195.3h.01M311 193.6h.01M312 191.3h.01M304.1 191.3h.01M320.2 192h.01M316.5 193.8h.01M314.4 194.4h.01M314.9 195.1h.01M310.5 193.2h.01M328.5 190.9h.01M310.3 196.8h.01M318.5 194.1h.01M317.8 191.8h.01M312.4 195.2h.01M317.4 196h.01M318.9 202.6h.01M316.6 199.1h.01M316.8 202.5h.01M323.6 190.8h.01M327.8 191.9h.01M323.8 190.8h.01M318.9 194.2h.01M327.1 185.4h.01M302.3 196.4h.01M321.9 191.7h.01M317.5 186.4h.01M313.8 190.5h.01M322.6 194.8h.01M314.9 198h.01M311.5 196.1h.01M314.6 195.1h.01M313.8 198.9h.01M312.7 201.3h.01M322.3 190.5h.01M312.8 198.6h.01M327.2 189.3h.01M317.4 196h.01M333.2 197.3h.01M314.7 197.1h.01M317.2 190h.01M316.1 192.5h.01M314.8 193.7h.01M319.1 190.5h.01M321.6 187.4h.01M321 195.8h.01M319.8 187.6h.01M312.7 194h.01M319.5 196.7h.01M305.4 192.8h.01M324.4 189.3h.01M307.8 191h.01M314.5 192.3h.01M325.3 195.2h.01M302.4 195.7h.01M316.8 197h.01M315.8 199.1h.01M317.5 191.6h.01M307.5 196.6h.01M315.9 186.4h.01M322 199.2h.01M320.6 200.8h.01M325.4 191.1h.01M319.4 196.7h.01M305.4 198.6h.01M319.7 197.1h.01M309.8 196.4h.01M316.1 192.2h.01M316.5 194.9h.01M305.5 192.8h.01M319.4 187.2h.01M321.2 193.9h.01M309.2 188.5h.01M307.3 196.5h.01M310 193.9h.01M312.9 196.9h.01M325.2 197.9h.01M320.8 198.2h.01M328.9 190.9h.01M318.4 191.1h.01M316.8 192.7h.01M317 196.5h.01M307.7 182.4h.01M318 198h.01M313.1 199.3h.01M332.6 195h.01M314.7 195.5h.01M322.3 187.9h.01M320.5 185.5h.01M308.6 193.9h.01M318.9 188.9h.01M316.3 198.8h.01M304.4 195h.01M325.9 188.8h.01M324.8 196h.01M314.1 193.5h.01M316.1 193.7h.01M315.1 190.5h.01M322.4 200.9h.01M314.5 199.2h.01M311.1 188h.01M320.8 194.9h.01M319.9 189.9h.01M313.2 197.5h.01M327.7 195.4h.01M319.8 183.1h.01M311.3 198.5h.01M330.3 191.2h.01M307.1 191.2h.01M312.1 191.8h.01M309.2 195.7h.01M318.9 188.4h.01M304.4 201.2h.01M320.3 194.7h.01M303.5 201.5h.01M308.8 193.6h.01M318.9 190.8h.01M317.3 191.8h.01M312 191.1h.01M318.9 200.5h.01M313.9 202.3h.01M313.1 193.8h.01M315.1 186.7h.01M315.8 192.7h.01M310.1 196.2h.01M319.2 192.5h.01M309.9 194.4h.01M310.7 189.7h.01M312.4 197.2h.01M314.2 192.8h.01M313.7 195.8h.01M314.8 196.9h.01M314.9 196.9h.01M314.3 190.4h.01M319.2 193h.01M348.4 197h.01M345.4 201.4h.01M358.9 191.8h.01M351.4 187.9h.01M350.2 185.1h.01M354.5 192.9h.01M356.7 193.3h.01M350 188.6h.01M354.1 192.6h.01M345.4 184.9h.01M355.7 192.7h.01M350.8 190.2h.01M348.6 193.2h.01M352 186.6h.01M362.9 198.4h.01M342 193.7h.01M356.5 189.6h.01M344.6 196.3h.01M348.2 193.2h.01M359 193.3h.01M357.5 188.9h.01M342.4 191.1h.01M349.3 197h.01M353.2 182.2h.01M345.8 190.8h.01M347.6 189.6h.01M349.5 194.1h.01M344 188.1h.01M346.8 200h.01M350.3 185h.01M353.4 198.4h.01M343.4 186.4h.01M353.2 193.5h.01M354 202.2h.01M354.3 198.8h.01M348.8 201.1h.01M347.8 195.1h.01M341.5 191h.01M354.8 188.1h.01M348.9 181.1h.01M349.5 185.9h.01M351.4 190.6h.01M347.8 191.4h.01M349.1 193.2h.01M349.8 199.6h.01M356.2 179.2h.01M357.5 192h.01M352.8 188.2h.01M354 196.4h.01M348.4 186.9h.01M353.6 195.7h.01M346.8 181.3h.01M345.8 195.4h.01M357.1 187.8h.01M348.4 187.2h.01M352.8 188.8h.01M359.1 196.5h.01M350.2 190.9h.01M355.9 191h.01M349.3 193.8h.01M356.1 201.1h.01M349.5 186.4h.01M346.8 192.2h.01M354.2 178.6h.01M354.2 195.4h.01M352.1 185h.01M351.6 190.3h.01M346.7 196.5h.01M357 194.2h.01M353.9 198.7h.01M351.3 190.8h.01M358.2 189.7h.01M349.8 195h.01M349.2 187.9h.01M356.3 193.1h.01M347.9 190h.01M354 197.7h.01M352.1 199.5h.01M351.1 201.9h.01M355.5 186.8h.01M350.8 195h.01M351.1 187.7h.01M353.4 192.8h.01M344.2 186.1h.01M349.4 198.3h.01M351.1 194.2h.01M355.7 191.9h.01M351.3 192.7h.01M355.5 189.5h.01M353 189.1h.01M351.6 199.2h.01M347.6 195.8h.01M351.6 194.4h.01M353.7 193.6h.01M353.6 203.1h.01M348.1 187.2h.01M354.7 195.3h.01M360.5 189.7h.01M354.6 190.1h.01M349 189.9h.01M347.5 188h.01M349.8 192.3h.01" stroke="#9c9c9c" stroke-width="0.66" stroke-linecap="square" fill="none"/>
<path d="M321.5 198.1h.01M307.8 190.2h.01M313.6 191.3h.01M315 191.4h.01M309.2 192.8h.01M316.5 191.6h.01M316.2 190.3h.01M314.4 192.5h.01M313.8 193.1h.01M310.3 189.8h.01M312 194.9h.01M311.7 190.9h.01M324.8 193.4h.01M314.2 191.2h.01M322.3 195.1h.01M316.7 197.3h.01M310.7 189h.01M320.7 194.8h.01M313.4 195.2h.01M315.1 198.1h.01M310 193.9h.01M320.1 195.9h.01M314.3 192.3h.01M313.7 194.9h.01M314 192.9h.01M320.4 193.5h.01M316.9 193.2h.01M316.2 188.1h.01M311.5 194h.01M313 191.7h.01M315.7 198.9h.01M312.5 190.9h.01M307.6 193.9h.01M315.7 191.4h.01M313.8 195.6h.01M320.3 194.6h.01M320.8 196.2h.01M313.6 195.2h.01M316.4 195.3h.01M316.7 198.6h.01M310.1 193.9h.01M310.5 198.7h.01M313.5 192.4h.01M315.7 193.3h.01M323.5 193.8h.01M316.7 196.1h.01M322.8 191.6h.01M317.4 190.3h.01M317.8 197h.01M313.5 192.6h.01M321.1 194.8h.01M319.5 192.5h.01M314.4 192.4h.01M323.1 190.3h.01M313.2 197h.01M315.7 190.7h.01M316.9 192.9h.01M315.2 194.6h.01M319.6 190h.01M316.4 197.1h.01M309.8 192.7h.01M310.4 194.6h.01M312 192.3h.01M313.8 194.4h.01M310.1 189.6h.01M316.4 196.8h.01M313.4 194.2h.01M317 193.7h.01M315.8 192.1h.01M314.5 196.2h.01M317.6 196.7h.01M312.5 193.5h.01M313.1 190h.01M319.9 193h.01M317.1 190h.01M314.7 193h.01M313.9 195.7h.01M317.8 193.9h.01M316.9 192.4h.01M312.6 192.5h.01M311.2 192.7h.01M315.1 196.1h.01M313.4 199.2h.01M313.4 193.6h.01M315.8 191.9h.01M315.8 189.1h.01M320.9 192.3h.01M316 189h.01M318.6 190.5h.01M322.1 191.3h.01M312.4 194.8h.01M321.9 189h.01M307.9 196.8h.01M318 189.8h.01M313.7 195h.01M313.8 197h.01M312.5 193.6h.01M320.7 197.4h.01M316.7 194.9h.01M314.3 193.1h.01M313.1 194.2h.01M319.7 191.2h.01M310.5 193.1h.01M324.7 194.6h.01M316.4 193.3h.01M308.4 191.1h.01M322.9 188.7h.01M324.1 191h.01M324.5 200.5h.01M322.5 193.5h.01M318.5 192.2h.01M313.7 193.8h.01M314.5 190.6h.01M314.4 194.9h.01M312.2 194h.01M309.7 193.2h.01M310.5 194.9h.01M311 194.6h.01M306.8 193.2h.01M320.8 191.7h.01M316.2 191.3h.01M317.8 195.4h.01M320.7 197h.01M321.7 192h.01M316.2 194.7h.01M316.8 190.2h.01M324.4 200.3h.01M316.5 187h.01M324 193.5h.01M326.1 191.5h.01M318 195.5h.01M309.4 192.1h.01M317.9 195.2h.01M318 187.1h.01M305 193.5h.01M323.2 190.1h.01M317.4 195.8h.01M311.6 189.2h.01M317 192.4h.01M315.4 192.9h.01M315.2 194.1h.01M313.4 193.1h.01M313.4 191.1h.01M317.5 191.5h.01M318.2 193.5h.01M320.5 195.2h.01M306.8 192.7h.01M318.7 193.9h.01M315.8 196.1h.01M319 190.3h.01M316 195.9h.01M316.7 190.3h.01M319.1 195.1h.01M320.9 194.2h.01M316.1 195.5h.01M310.5 197.3h.01M317.5 194.1h.01M319 195.6h.01M305.7 195h.01M315.4 191.4h.01M319.6 196h.01M317.6 192h.01M316.4 191.1h.01M327.2 192.5h.01M319.4 197.7h.01M312 191.8h.01M305.7 192.1h.01M309.8 193.4h.01M314.8 193.3h.01M316 192.2h.01M316.3 193.3h.01M312.6 192.4h.01M313.4 190h.01M315.9 188.8h.01M318.1 193.5h.01M316.3 196.3h.01M320.1 192.6h.01M317.1 196.4h.01M315 194.3h.01M317.8 191h.01M317.1 192.5h.01M314.5 194.4h.01M318.8 191.4h.01M314.6 192.8h.01M311.4 194h.01M314.9 191.6h.01M320 193.5h.01M310.5 192.8h.01M314.9 194.1h.01M325.8 195.4h.01M322.2 193.4h.01M317.8 194.8h.01M315.2 194h.01M313.6 195h.01M311.4 197.3h.01M315.1 194.2h.01M316.7 189.4h.01M317.8 191.3h.01M316.7 192.4h.01M314.8 189.5h.01M310 191.6h.01M310.9 193.7h.01M309.4 193.5h.01M318.3 191.7h.01M311.5 192.2h.01M319 197.1h.01M325.4 194.3h.01M318.5 194.1h.01M315.8 190.7h.01M314 196h.01M322 192.3h.01M308.1 197.5h.01M315.8 194.5h.01M315.3 188.9h.01M317.3 191.1h.01M314.6 191.7h.01M314.1 199.2h.01M322.8 189h.01M308.9 191.7h.01M312.6 195.1h.01M322.9 192.1h.01M318.3 193h.01M306.6 195.7h.01M323.7 191.9h.01M318.7 192.3h.01M315.4 192.2h.01M315.1 193.5h.01M312.9 193.9h.01M309.8 195h.01M311.8 188.5h.01M319.5 192.8h.01M313.2 195.5h.01M315.3 198.2h.01M317.9 190h.01M313.6 191.6h.01M314.1 197.5h.01M327.6 198.5h.01M317.7 194.9h.01M316.9 188h.01M321.6 198.7h.01M313.4 193.2h.01M312.6 192.7h.01M312 190.3h.01M321.5 188.9h.01M320.6 190.9h.01M314.9 188.3h.01M318.8 191.1h.01M327.1 191.9h.01M316.7 195.1h.01M311.5 191h.01M310.8 194.4h.01M316.9 196h.01M309.4 190.6h.01M315.3 192.2h.01M317 196.3h.01M316.5 191.5h.01M315.7 191.6h.01M312.5 197.8h.01M318.5 198.1h.01M314.8 193.2h.01M310 193.6h.01M318.9 195.3h.01M310.5 193.3h.01M320 192.5h.01M319 192.4h.01M315.8 191.9h.01M309.2 190.9h.01M316.6 192.7h.01M315.8 192h.01M319.7 193.2h.01M317.6 192.3h.01M321.6 193.5h.01M317.3 199h.01M317.9 189.7h.01M312.7 194h.01M310.1 189.3h.01M315.5 189.4h.01M320.6 194.8h.01M314.1 196.3h.01M312.9 190.2h.01M319.8 193.7h.01M314.5 195.9h.01M315 194.9h.01M316.5 196.3h.01M318.3 192.4h.01M322.6 193h.01M323.8 190.8h.01M316.4 187.9h.01M317.9 196.9h.01M313.9 194.4h.01M314.5 196.9h.01M317.2 194.4h.01M321 190h.01M318.8 193.9h.01M321.6 193.9h.01M318.5 193.4h.01M311.4 191.8h.01M315.2 190h.01M315.6 192.2h.01M324 193.4h.01M316.3 193.7h.01M319.2 189.6h.01M307.7 196.8h.01M312.2 190.9h.01M321 194.5h.01M312 195h.01M310.4 197.1h.01M314.3 194.1h.01M315.4 198.1h.01M311.5 192.8h.01M325.7 189h.01M313.5 193.9h.01M314.7 194.4h.01M321.2 191h.01M312.6 196.4h.01M325 187.4h.01M318 196h.01M312.9 191h.01M310.7 192.5h.01M310.5 194.8h.01M312.6 194.5h.01M308.6 195.1h.01M318.6 195.9h.01M316.6 199.2h.01M320.1 193.8h.01M323.1 193h.01M316.2 197.5h.01M313.7 193.2h.01M316.9 193.9h.01M314.6 195.8h.01M325.5 193.1h.01M309.3 191.8h.01M309.8 189.8h.01M311 195.7h.01M316.4 195.2h.01M315.1 195.9h.01M313.7 196.5h.01M319.7 194.2h.01M309.4 190.2h.01M317.1 190.9h.01M315.1 192.9h.01M322.1 192.1h.01M316.5 192.3h.01M312.3 194.2h.01M320.4 190.2h.01M322.1 199.4h.01M316.4 194.7h.01M311.2 192.1h.01M317.2 193.3h.01M322.1 191.7h.01M314.6 194.6h.01M315.5 192.8h.01M315.2 194.4h.01M306.7 199.2h.01M319.3 191h.01M311.9 190.3h.01M318.1 189h.01M326.9 192.8h.01M309.1 198h.01M315.7 194.6h.01M315 192.7h.01M325.4 189.2h.01M317.1 191.7h.01M314.3 193.1h.01M307.5 194.4h.01M316.6 194.8h.01M313 195h.01M313.6 195.2h.01M321.8 195.4h.01M309.3 193.1h.01M310.8 197.9h.01M316.9 190.3h.01M308.8 196.2h.01M311.2 194.1h.01M314.4 192.9h.01M313.8 193.3h.01M323.2 191.8h.01M318 194.8h.01M313 190.5h.01M311.7 194.5h.01M316.4 196h.01M317.4 193.8h.01M315.9 194h.01M315.9 195.1h.01M311.8 195.8h.01M323.1 193.7h.01M318.6 190.7h.01M316.5 189.9h.01M320.3 193.8h.01M320.5 196.5h.01M312.4 195.2h.01M322.4 199.3h.01M315.3 194.7h.01M312.9 194.8h.01M318.3 197.2h.01M315.1 193.5h.01M318.1 193.2h.01M325.5 188.6h.01M308.2 191.6h.01M318.9 193.7h.01M318 189.8h.01M318.4 194.9h.01M323 195.9h.01M313.2 191.4h.01M310.8 191.9h.01M315.2 196.5h.01M323.2 194.1h.01M318.5 193.2h.01M309.9 194.3h.01M312.8 189.2h.01M311.8 196.8h.01M310.4 196.4h.01M309.7 192.8h.01M318.2 192.6h.01M311.5 193.1h.01M323.2 195.6h.01M316.6 194.9h.01M320.9 197h.01M314.8 191.2h.01M311.4 193.3h.01M314.5 193.3h.01M312.6 199.3h.01M312.5 196.7h.01M312.1 191.2h.01M310.7 190.4h.01M308.6 190.9h.01M314.6 195h.01M307.7 193.9h.01M315.3 193.4h.01M306 193.9h.01M318.6 196.4h.01M314.3 196.4h.01M316.3 191.2h.01M318 196h.01M316.9 193.4h.01M314.6 195h.01M307.6 193.6h.01M310.1 191.7h.01M316.5 196.5h.01M315.9 191.2h.01M328.1 195.1h.01M303.6 192.3h.01M312.6 191.7h.01M320.2 199h.01M316.5 190.2h.01M319.7 193.9h.01M313.9 193.8h.01M310.6 193.5h.01M317.2 196.4h.01M325 192.5h.01M317.7 191.6h.01M316.2 196.3h.01M318.8 192.9h.01M323.8 196.2h.01M321.4 194h.01M321.9 193.5h.01M319.8 193.8h.01M316.1 189.6h.01M320.2 195.1h.01M313 193.4h.01M318.5 195.2h.01M306.2 196.4h.01M310.9 197.7h.01M321 194.1h.01M316.7 194.2h.01M313.7 197h.01M312.9 191.9h.01M315 189.5h.01M320.7 190.9h.01M322.6 196.2h.01M325.1 192.6h.01M314.5 192.2h.01M319.6 191.5h.01M314.8 187.7h.01M316 193.9h.01M325 192h.01M320.2 195.1h.01M320 191h.01M320.2 194.1h.01M322.1 199.2h.01M312.7 192.2h.01M323.1 189.8h.01M304.3 193.3h.01M317.1 197.2h.01M319.2 193.6h.01M313.5 188.7h.01M318.3 192.1h.01M314 194.1h.01M306.5 192.6h.01M312.6 198.1h.01M315.1 196.2h.01M311.6 189.2h.01M320 192.8h.01M309.5 195.6h.01M318.5 189.3h.01M314.4 198.3h.01M316.6 190.1h.01M311.7 196.6h.01M322.7 195.6h.01M308.7 195h.01M312.1 191.9h.01M313.4 195.9h.01M318.1 195h.01M313.9 192h.01M320.9 192.3h.01M314.4 194.7h.01M314.8 195.8h.01M318.3 195.2h.01M326.6 192.8h.01M325.8 190.9h.01M312.6 187h.01M312.9 191.2h.01M318.9 196.8h.01M326.7 192.9h.01M320.8 193.3h.01M308 182.4h.01M314.5 188.5h.01M347.3 194.4h.01M348 197.1h.01M351 194h.01M353.8 190.5h.01M348.8 198.5h.01M353.1 194.9h.01M345.4 193.5h.01M348.3 191.3h.01M346.4 187.6h.01M349.8 194.8h.01M349.6 192.8h.01M351.2 198.2h.01M349.4 193.9h.01M358.9 193.3h.01M353.4 189.2h.01M348 191.8h.01M359.8 191.2h.01M355.1 191.6h.01M347.5 186.7h.01M351.5 197.1h.01M348.8 191.9h.01M347.9 190.8h.01M354 191.5h.01M348 195.6h.01M351.8 193.2h.01M357 194.4h.01M354.4 189h.01M350.8 197.9h.01M353.2 196.6h.01M346.8 192.4h.01M355.9 198.6h.01M342.1 186.6h.01M355 196.2h.01M354.9 183.4h.01M351.3 196.2h.01M354.6 189.9h.01M354.1 196.2h.01M349.6 199h.01M354.8 196.5h.01M349.7 194.4h.01M351 199.3h.01M358.2 190.3h.01M356.9 194.9h.01M349.1 190.8h.01M355.6 194.5h.01M349.1 192.7h.01M349.9 192.9h.01M356.4 190.9h.01M350.1 182.6h.01M352.6 196.7h.01M357.1 191.1h.01M350.2 191.9h.01M347.4 193.3h.01M348.8 192.5h.01M351.5 196h.01M351.3 201.9h.01M352.1 195.2h.01M352.6 193h.01M353.9 193.9h.01M347.1 191.5h.01M355.5 187.6h.01M356.3 193.8h.01M351.9 197.8h.01M351.8 191.7h.01M344.6 191.1h.01M347.6 195.8h.01M351.4 190h.01M354.6 196.5h.01M357.7 194.3h.01M347.4 193.7h.01M353.4 196.5h.01M347.2 195h.01M353.1 194.7h.01M346.3 191.7h.01M350.7 192.5h.01M353.8 192h.01M345.6 185.8h.01M352.5 190.5h.01M351 197.2h.01M349.5 193.2h.01M346.8 189h.01M352.8 197.4h.01M349.2 192.6h.01M352.1 191.8h.01M351.3 191.9h.01M352.9 191.5h.01M349.7 188.5h.01M348.8 188h.01M350.7 196.8h.01M347.3 190.3h.01M348.8 194.9h.01M350.2 192.1h.01M348.3 192.3h.01M350.1 190.4h.01M355.3 195h.01M350.6 194.4h.01M357.9 195.5h.01M349.5 193.2h.01M354.5 194.9h.01M350.3 193.6h.01M347.8 192.1h.01M349.9 192.4h.01M355.2 193.4h.01M354.6 193.3h.01M346.6 197.6h.01M349.5 192.9h.01M354.4 198.2h.01M351.6 197.7h.01M349.6 195.5h.01M348.4 196.7h.01" stroke="#6e6e6e" stroke-width="0.62" stroke-linecap="square" fill="none"/>
<path d="M301 114.5H397.5V204.5" stroke="#8c8c8c" stroke-width="1" fill="none"/>
<path d="M301 114V204.5H398" stroke="#7e7e7e" stroke-width="1.05" fill="none"/>
<path d="M301 197.7h-2.5M301 193.8h-2.5M301 191h-2.5M301 188.8h-2.5M301 187h-2.5M301 185.5h-2.5M301 184.2h-2.5M301 183h-2.5M301 182h-3.9M301 175.2h-2.5M301 171.3h-2.5M301 168.5h-2.5M301 166.3h-2.5M301 164.5h-2.5M301 163h-2.5M301 161.7h-2.5M301 160.5h-2.5M301 159.5h-3.9M301 152.7h-2.5M301 148.8h-2.5M301 146h-2.5M301 143.8h-2.5M301 142h-2.5M301 140.5h-2.5M301 139.2h-2.5M301 138h-2.5M301 137h-3.9M301 130.2h-2.5M301 126.3h-2.5M301 123.5h-2.5M301 121.3h-2.5M301 119.5h-2.5M301 118h-2.5M301 116.7h-2.5M301 115.5h-2.5M301 114.5h-3.9M308.3 204.5v1.9M312.5 204.5v1.9M315.5 204.5v1.9M317.9 204.5v1.9M319.8 204.5v1.9M321.4 204.5v1.9M322.8 204.5v1.9M324 204.5v1.9M325.1 204.5v3.4M332.4 204.5v1.9M336.6 204.5v1.9M339.6 204.5v1.9M342 204.5v1.9M343.9 204.5v1.9M345.5 204.5v1.9M346.9 204.5v1.9M348.1 204.5v1.9M349.2 204.5v3.4M356.5 204.5v1.9M360.8 204.5v1.9M363.8 204.5v1.9M366.1 204.5v1.9M368 204.5v1.9M369.6 204.5v1.9M371 204.5v1.9M372.3 204.5v1.9M373.4 204.5v3.4M380.6 204.5v1.9M384.9 204.5v1.9M387.9 204.5v1.9M390.2 204.5v1.9M392.1 204.5v1.9M393.8 204.5v1.9M395.2 204.5v1.9M396.4 204.5v1.9M397.5 204.5v3.4" stroke="#8e8e8e" stroke-width=".75" fill="none"/>
<path d="M337.1 114.5V204.5M301 171.5H397.5" stroke="#3e3e3e" stroke-width="1.2" fill="none"/>
<text x="395.6" y="122.3" text-anchor="end" class="pc">1.0%</text>
<text x="395.6" y="179.1" text-anchor="end" class="pc">13.8%</text>
<ellipse cx="431.1" cy="193.7" rx="12" ry="6.9" transform="rotate(9 431.1 193.7)" fill="url(#rg)" opacity="1.0"/>
<ellipse cx="467.3" cy="193.4" rx="8.1" ry="9.3" transform="rotate(0 467.3 193.4)" fill="url(#rg)" opacity="0.62"/>
<path d="M460 133.7L470 123.2" stroke="#8a8a8a" stroke-width="0.9" fill="none"/>
<path d="M437.1 184h.01M427.4 187h.01M434 196.3h.01M426.2 187.3h.01M435.6 204h.01M439.4 190.5h.01M445.5 193.1h.01M455 187.6h.01M444.6 185.2h.01M433.2 191.3h.01M430 190.8h.01M442.8 190h.01M431.7 189.7h.01M438.1 188.3h.01M443.2 195.8h.01M428.4 182.2h.01M429.8 198.7h.01M441.7 193.5h.01M438.9 202.8h.01M431.5 189.2h.01M438.9 179.6h.01M435 188.8h.01M449.7 198.7h.01M453.3 192.1h.01M451.7 196h.01M440 196h.01M418 196.1h.01M428 195.8h.01M434.6 185.3h.01M430.1 193.6h.01M428.7 203.4h.01M448.6 195.2h.01M428.2 201.5h.01M433.4 200.3h.01M420 175.8h.01M442.4 200h.01M432.4 190.7h.01M439.1 196.7h.01M433.3 192.2h.01M435.8 200.1h.01M445.6 175.6h.01M438.8 190.8h.01M446.3 199.2h.01M428 190.6h.01M420.9 190.9h.01M424.2 199.4h.01M450.1 192.2h.01M422.1 199.5h.01M418.4 187.2h.01M429.3 193.2h.01M435.8 186h.01M444.3 196.4h.01M436.4 203.7h.01M456.5 197.5h.01M429.6 189.5h.01M433.9 184.5h.01M426.3 187.3h.01M439.6 198.3h.01M428 183.5h.01M435.8 179.9h.01M431.1 193.1h.01M439.4 189.9h.01M438.4 198.2h.01M431.1 184.2h.01M427.7 193.2h.01M439.3 181h.01M417.9 178.1h.01M455.4 198.5h.01M437.6 184.3h.01M444.3 176.2h.01M453.1 197.9h.01M433.3 193.8h.01M447.1 180.1h.01M438.9 183.8h.01M429.5 189.9h.01M429.8 186.2h.01M436.7 189.7h.01M436.5 197.8h.01M424.1 189.2h.01M422.9 196.1h.01M441.8 200.6h.01M446.8 195h.01M423 185h.01M448.6 195.3h.01M444.4 189.6h.01M447.7 183h.01M425.7 191.8h.01M445.7 200.8h.01M443.1 202.2h.01M441.6 199.3h.01M424.9 182.1h.01M426.6 199.9h.01M451.6 187.2h.01M430.7 192.1h.01M440.7 195.5h.01M451.7 196.8h.01M431.8 190h.01M447.5 192.4h.01M440.9 190.3h.01M422.4 175.1h.01M431.5 186h.01M444.3 191.1h.01M422.2 195.4h.01M428.6 191.8h.01M423.2 201.2h.01M437.9 191.1h.01M435.3 177.5h.01M449.2 194.5h.01M449 188.5h.01M452.2 190.3h.01M428.1 191.3h.01M432.1 192.6h.01M436.1 191.3h.01M439.9 189.9h.01M449.3 199.4h.01M421 186.3h.01M429.2 198.1h.01M424.2 188.1h.01M442.6 200h.01M433 190.5h.01M421.1 198.4h.01M429.9 194.6h.01M426.5 192.4h.01M427.2 194.1h.01M433.6 185.2h.01M432.8 197h.01M446.5 201h.01M457.7 202.9h.01M454.8 201h.01M439.8 180.8h.01M445.9 193h.01M430.9 182.2h.01M449.3 194.5h.01M429.8 185.9h.01M432.6 195h.01M441.2 194h.01M436.6 193h.01M427.8 199.3h.01M433.1 187.9h.01M455.8 188.9h.01M428.5 192.1h.01M432.1 191.2h.01M444.6 200.9h.01M462.1 177.2h.01M465.6 181.3h.01M470.6 198.7h.01M468.3 191.8h.01M458.7 178.6h.01M460.6 171.2h.01M468.5 194.9h.01M461.8 173.6h.01M480.2 173.5h.01M473.1 200.6h.01M479.8 191.7h.01M476.7 189.8h.01M468.6 175.1h.01M472.4 162.6h.01M480.5 186.1h.01M464.2 202.1h.01M476.2 197.2h.01M464 199.4h.01M470 188.7h.01M462.2 197h.01M453.8 182.3h.01M470.4 175.4h.01M484.4 178.4h.01M463.7 188.1h.01M465.2 187.2h.01M479.6 192.1h.01M475.4 192.7h.01M464.5 186.1h.01M460.5 184.4h.01M470.3 191.8h.01M475.4 193.3h.01M472.2 183.6h.01M455.1 202.3h.01M483.8 189.3h.01M476.1 183.5h.01M461.2 196.1h.01M476 197.9h.01M478.1 193.1h.01M467.6 193.1h.01M461.4 188.6h.01M454.9 180.6h.01M475.3 186.8h.01M449.7 180.9h.01M475.4 191.5h.01M468.1 198h.01M478.5 189.2h.01M473.9 186.8h.01M461.8 187.6h.01M478.5 171.8h.01M474.1 188h.01M474.2 194.1h.01M455.5 187.4h.01M452.1 190.7h.01M462.4 201.2h.01M453.4 195h.01M460.6 187.2h.01M466.9 193h.01M488 175h.01M468 183h.01M466.5 188.1h.01M473.1 199.6h.01M469.4 203.9h.01M466.1 179.5h.01M454.5 200.6h.01M465.8 196.9h.01M474.8 183.2h.01M479.7 199.5h.01M482.6 199.2h.01M459.2 197.9h.01M469.9 178h.01M476.1 189.7h.01M479.8 188.1h.01M475 202.4h.01M470.1 203h.01M473.7 187.8h.01M480.6 189.8h.01M464.8 188.5h.01M453.8 202.7h.01M458.7 174.1h.01M471.6 170.5h.01M466.4 199.6h.01M471.7 195.9h.01M450 185.8h.01M447.2 188h.01M446.5 186.8h.01M452.6 186.3h.01M449.5 188.4h.01M449 186.5h.01M449.1 187.6h.01M447.6 188.5h.01M444.7 188.2h.01M448.6 187.2h.01M449 188.4h.01M448.9 188.6h.01M447.2 187.2h.01M448 186.8h.01M449.2 187.1h.01M446.1 188.4h.01M457 180.6h.01M455.3 181.6h.01M455.5 182.2h.01M455.7 183.5h.01M454.1 185.6h.01M453.7 184.2h.01M458 182.2h.01M457.7 181.3h.01M457.5 180.8h.01M452.5 185.2h.01M455.3 180.9h.01M456.2 182.1h.01M457.5 181.2h.01M457.5 180.1h.01M455.7 184.8h.01M454 184.3h.01M463.8 179h.01M461.3 179.2h.01M459.7 180.8h.01M462.2 177.8h.01M460.4 181.2h.01M461.8 180.8h.01M460.6 181.6h.01M460.9 179.3h.01M463.2 179.8h.01M460 182.3h.01M462 179h.01M464.3 177.9h.01M464.5 178.1h.01M459.8 180h.01M463.3 178.4h.01M462.1 180.4h.01M467.3 179.4h.01M467.7 179.4h.01M467.2 180.5h.01M471.6 179.6h.01M466 178.5h.01M470.8 177.5h.01M471.2 178.4h.01M471.1 179.7h.01M470.5 178h.01M469.4 179.3h.01M465.8 179.5h.01M469.3 179.9h.01M470.4 180.6h.01M465.2 179.3h.01M449.1 187.6h.01M455.3 184h.01M457.7 185h.01M458.8 180.4h.01M447.1 186.7h.01M455.4 183.7h.01M448.8 189.1h.01M457.1 181.9h.01M460.1 181.2h.01M455 187.1h.01M458.5 182h.01M443.6 187.4h.01M459.5 181.5h.01M452.2 184.6h.01M450.9 187.1h.01M443.8 188.6h.01M461.6 181.7h.01M455.2 183.4h.01M445.8 189h.01M447.2 186.4h.01M454.9 185.2h.01M444.5 187.1h.01M454.4 182.3h.01M460.7 183.8h.01M457.4 181.1h.01M449 185h.01M455.3 184.7h.01M457.4 182.9h.01M455 186.4h.01M456.9 184.1h.01M448.2 189.3h.01M457.5 182.9h.01M452.7 185.7h.01M458.2 183.6h.01M459 181.3h.01M446.7 190.3h.01M449.5 186.9h.01M445.8 186h.01M460.4 180.3h.01M460.4 179.5h.01M458.2 181.6h.01M450.2 185.5h.01M460.2 185.4h.01M454.6 184h.01M448.4 184.8h.01M446.4 188h.01M475.8 169.2h.01M474 171h.01M478.5 163.2h.01M469.3 176.4h.01M473 171.4h.01M472.4 182.9h.01M472.6 172.3h.01M476 170.1h.01M476.3 173.7h.01M471.9 175h.01M471.9 172h.01M471.5 175.9h.01M471.5 179.8h.01M471.5 172.8h.01M479.2 164.4h.01M476.8 165.9h.01M477.1 163.4h.01M474.6 167.4h.01M471.1 171.6h.01M476.3 168.4h.01M474.2 172.3h.01M476.2 171.9h.01M469.6 174.7h.01M472 175.9h.01M472.8 171.9h.01M472 169.7h.01M473.5 167.1h.01M481.2 162.9h.01M476.7 164.4h.01M471.6 174h.01M464.4 132.4h.01M469.2 124.5h.01M464.4 128.6h.01M474 119.9h.01M468.3 126.2h.01M468.9 128.3h.01M464.6 129h.01M463.7 130.1h.01M467.4 129h.01M472.3 120.2h.01M470.1 127h.01M457.9 136.9h.01M471.8 121.7h.01M464.4 131.2h.01M471.2 124.8h.01M461.3 130.9h.01M473.9 119.7h.01M468 127.8h.01M459.7 134h.01M460.8 133.7h.01M438.9 168.1h.01M441.2 177.3h.01M481.8 178.1h.01M459 187.6h.01M499 174.3h.01M454.2 191.3h.01M471.5 143.7h.01M458.4 148.4h.01M469.6 187.9h.01M452.3 159.9h.01M444.7 132.3h.01M468.3 151.8h.01M457.1 187.2h.01M437.7 124.2h.01" stroke="#c6c6c6" stroke-width="0.8" stroke-linecap="square" fill="none"/>
<path d="M431.8 189.8h.01M434.5 193.4h.01M430.1 194.2h.01M430 192.3h.01M440.1 197.9h.01M432.2 194.1h.01M443.3 189.4h.01M419 186.7h.01M433.3 194.5h.01M429.5 189.7h.01M420.7 188.5h.01M425.3 192.2h.01M439.1 193.3h.01M422.6 193.8h.01M440.9 196.2h.01M428.4 191.2h.01M429.9 188.5h.01M439.1 193.2h.01M445.9 201h.01M426.1 203.8h.01M428.5 189.4h.01M417.8 191.2h.01M435 192.3h.01M430.5 195.3h.01M425.6 192.2h.01M428.6 199.5h.01M436.9 193.8h.01M423.8 191.5h.01M425.7 190.9h.01M433.8 197.3h.01M439.9 192.2h.01M433.1 193.5h.01M436.7 203.8h.01M439 198.5h.01M433.2 195.9h.01M430.5 193h.01M434.6 188.6h.01M428.1 196.5h.01M437 195.1h.01M436.5 190.7h.01M444.7 186.5h.01M429.5 189.8h.01M427.9 193.8h.01M431.9 197.7h.01M446.1 198h.01M424.5 192.4h.01M426.2 189.1h.01M427.9 197h.01M425.3 193.9h.01M425.3 196.2h.01M441.6 188.7h.01M438 190.7h.01M434.3 193.5h.01M439.1 189.1h.01M446.2 197.3h.01M425.9 198.1h.01M441.9 197.4h.01M428.4 189.4h.01M423.7 199.2h.01M432.2 193.4h.01M428.1 198.2h.01M428.4 196.7h.01M418.4 187.9h.01M434.9 189.8h.01M447.9 187.1h.01M434.4 196.2h.01M435.2 193.8h.01M434.2 191.2h.01M430.3 201.1h.01M430.8 198.2h.01M442.6 192.8h.01M447.6 189.5h.01M427.9 192.5h.01M429.3 195.8h.01M430.4 195.9h.01M426.5 185.8h.01M445.6 196.8h.01M435.6 189h.01M435.3 193.8h.01M435.4 194.6h.01M438.9 200.8h.01M429.2 191.4h.01M438.3 188.2h.01M426.5 191.1h.01M429.8 192.3h.01M422.2 194.4h.01M429 187.9h.01M433.3 200.4h.01M420.2 191.6h.01M448.6 195.3h.01M425.1 199.5h.01M432.9 197.8h.01M444 198.3h.01M432.9 202.1h.01M420.9 186.8h.01M430.4 190.6h.01M431.7 185.3h.01M418.7 194.6h.01M429.9 195.1h.01M428.7 193h.01M418.8 199.2h.01M440.7 189.1h.01M428 194.5h.01M428.5 192.8h.01M434.6 185.9h.01M437.2 196.5h.01M424.3 191.5h.01M431.2 192.3h.01M433.1 187.1h.01M431.9 195.4h.01M434.4 195.9h.01M427.2 193.4h.01M439.1 195h.01M433.4 194.1h.01M436.7 188.7h.01M430.7 197.1h.01M424.4 194.8h.01M428.4 191.1h.01M423.7 188.3h.01M441.8 188.7h.01M433.7 187.9h.01M446.8 199h.01M426.3 187.7h.01M429.3 194.6h.01M443.6 201.8h.01M424 193.3h.01M439.3 191.6h.01M427.4 196.9h.01M421 192h.01M431.3 192.2h.01M433 186.6h.01M438.4 192.6h.01M426.8 201.3h.01M443.2 191.8h.01M428.9 198.4h.01M426.3 191.1h.01M423.1 189h.01M425.9 193.7h.01M433.9 192.3h.01M421 192.9h.01M436.5 194.1h.01M442.6 193.3h.01M438 195.7h.01M440.8 202.1h.01M423.9 184.3h.01M439.4 196.1h.01M434.7 192h.01M425.1 197.8h.01M435.7 191.8h.01M431.9 194.8h.01M422 189.2h.01M435.5 194.8h.01M420.8 193.2h.01M446.6 198.6h.01M421.8 189.9h.01M427.4 189.4h.01M425.7 190h.01M431.9 188.1h.01M438.6 196.1h.01M446.2 199.5h.01M438.7 196.9h.01M431.6 188.8h.01M436.8 194.8h.01M426.4 194.5h.01M434.7 191.2h.01M443.2 193.2h.01M432 198.3h.01M427.9 191.6h.01M435.4 192.7h.01M428.6 188.1h.01M433.7 192.2h.01M437.4 198.9h.01M431 196.8h.01M425.2 199.5h.01M427.5 192.3h.01M429.2 191h.01M437.8 194.5h.01M424.4 195.8h.01M431.6 196.1h.01M433.7 191.9h.01M418 190.1h.01M424.1 197.7h.01M429 199.6h.01M448.6 201.3h.01M450.7 192.5h.01M428.6 188.5h.01M422.3 186.5h.01M439.1 191.3h.01M428.8 195.6h.01M427.5 199.7h.01M440.4 198.1h.01M444.2 197.9h.01M432.4 198.5h.01M440.7 189.1h.01M439.6 199.3h.01M432 199.8h.01M422.6 193.1h.01M427 189.2h.01M434.8 187.8h.01M431.1 196.5h.01M426.7 188.1h.01M435.4 198.2h.01M439.1 192.4h.01M427.7 199h.01M438.2 196.1h.01M433.6 193.2h.01M435.9 197.4h.01M431.9 194.8h.01M421.2 191.4h.01M443.8 196.5h.01M421.5 190h.01M431.4 199.9h.01M448.2 196.1h.01M430.5 194h.01M422.4 197.9h.01M422.1 195.3h.01M428.9 188.7h.01M433.1 201.1h.01M422.3 193.1h.01M425.7 197.3h.01M421.3 186.5h.01M429.7 187.7h.01M440.2 188.5h.01M432.5 191.6h.01M439.7 192.6h.01M429.1 200.6h.01M435.8 199.8h.01M442.3 197.5h.01M435.2 186.9h.01M418.8 189.8h.01M433.2 198.7h.01M426 191.3h.01M448.4 191.5h.01M430.4 193h.01M425.4 199.2h.01M419.7 190.5h.01M419.3 188.6h.01M445 187h.01M418.9 191.7h.01M435 191h.01M435.2 193.4h.01M428.7 193.6h.01M441.9 190.1h.01M438.1 195.9h.01M430.6 190.3h.01M433.8 197.5h.01M424 195.6h.01M431.4 197.2h.01M433.9 193.1h.01M432.9 196.6h.01M420.6 191.9h.01M428 193.2h.01M438.7 198.8h.01M442 199.4h.01M430.6 190h.01M452 193.9h.01M428.7 195h.01M425.3 193.3h.01M433.7 191.6h.01M423.7 192.5h.01M435.6 190h.01M432.7 194.2h.01M424.6 194.3h.01M420.6 195.8h.01M425.6 197.1h.01M432.4 194h.01M420.9 195.2h.01M421.8 201.7h.01M434.9 195h.01M431.5 196.6h.01M435 195.9h.01M438.5 194.1h.01M445.1 189.2h.01M418.7 194.1h.01M432.5 187.2h.01M422.9 189.1h.01M441 197.9h.01M460.8 194.5h.01M462.7 179.1h.01M473 189.8h.01M465.5 195.3h.01M469.1 196.9h.01M460.3 195.2h.01M472.4 197.9h.01M475.1 184.5h.01M473.7 184.6h.01M461.2 194.5h.01M479.8 200.6h.01M466.5 193.9h.01M473.1 185.9h.01M465.3 189.8h.01M473.7 196.7h.01M468.9 200.7h.01M465.9 187.8h.01M472.1 182.3h.01M468.7 193.2h.01M458.6 194.5h.01M462.6 201.6h.01M471.4 198.8h.01M472.5 193.3h.01M473.2 197.1h.01M470.3 199.8h.01M477.9 183.2h.01M464.8 184.5h.01M460.6 197.5h.01M462 192.1h.01M464.2 199.3h.01M475.9 194.1h.01M463.6 189.9h.01M466.2 183.5h.01M460.7 194.5h.01M468.6 194.4h.01M469.1 188.9h.01M466.7 187.3h.01M468.5 181.2h.01M470.1 194.8h.01M465.1 194.3h.01M472.8 193.8h.01M477.6 200.7h.01M467.9 192.2h.01M461 186.9h.01M468.4 194.1h.01M469.2 203.5h.01M469.5 195.8h.01M466.1 186.8h.01M464.9 192.8h.01M471.1 197.5h.01M461.9 192.7h.01M471.3 184.8h.01M466 184.6h.01M463.6 200.3h.01M461.8 198.9h.01M466.4 183.7h.01M468.3 194.8h.01M465.9 200.7h.01M465.6 197.8h.01M467.3 190.2h.01M469.4 199.8h.01M475 200.6h.01M458.3 185.3h.01M465.9 200.6h.01M457.3 194.2h.01M461 198.1h.01M472.8 191.7h.01M474.5 197.9h.01M466.5 202.1h.01M478.6 192.9h.01M468.7 195.4h.01M471.7 191h.01M466.2 200.6h.01M466.7 201.4h.01M468.8 203.8h.01M475.2 186.5h.01M471.1 192h.01M464.2 198.7h.01M473 196.6h.01M473.2 203.3h.01M469.3 197.2h.01M470 202.6h.01M462.8 193h.01M461 190.1h.01M469.3 191.3h.01M463.4 192.1h.01M468.1 189.1h.01M468.5 189.8h.01M469.2 197.6h.01M477.7 189h.01M466.7 188.5h.01M473.1 187.8h.01M458.4 200.1h.01M479.6 194.2h.01M466.3 192.9h.01M462.6 197.5h.01M474.5 188.8h.01M471.9 196.6h.01M475.8 192.9h.01M463.4 194.9h.01M469.9 191.9h.01M462.5 197.4h.01M459 186.6h.01M466.9 185.4h.01M470.1 183.8h.01M466.4 196.1h.01M474.6 188.5h.01M468.9 200.8h.01M463.2 195.8h.01M473.5 200.3h.01M467.1 195.7h.01M463.7 196.9h.01M469.7 190.4h.01M480.2 197.5h.01M463.1 193.8h.01M470.1 187.3h.01M462.7 198.1h.01M467.1 193.2h.01M473 192h.01M459.6 186.8h.01M466.7 192.4h.01M465.4 188.2h.01M458.2 192.1h.01M469.7 195.2h.01M461.3 189.9h.01M468.3 179h.01M471.2 193h.01M484.3 193h.01M466.9 193.6h.01M466.3 189.5h.01M473.3 195.6h.01M469.2 191.9h.01M457.4 190.7h.01M455.5 189.7h.01M469.3 192h.01M467.9 203.2h.01M470.4 199.6h.01M465.7 191.5h.01M460 202.5h.01M473.5 193.1h.01M469.9 195.1h.01M474.7 196.7h.01M466.9 187.2h.01M454.4 179.3h.01M466.1 200.8h.01M463.6 192.1h.01M470.7 203.3h.01M454.9 192.7h.01M464.8 198.5h.01M465.3 182.9h.01M454.9 183.4h.01M465.2 187h.01M459.4 191.6h.01M473.8 193.5h.01M456.6 193.6h.01M467.2 201.7h.01" stroke="#9c9c9c" stroke-width="0.66" stroke-linecap="square" fill="none"/>
<path d="M429.3 194.7h.01M429.5 196.7h.01M427.8 194.7h.01M433.1 189.5h.01M436.7 192.9h.01M425.7 191h.01M435.1 193.2h.01M435 191.6h.01M432.8 189h.01M428.9 197h.01M428.3 193.7h.01M421.5 196.9h.01M429.6 194.7h.01M429.4 190.5h.01M429.3 192.5h.01M426 192.4h.01M426.4 191.5h.01M417.8 188.8h.01M432.2 194.5h.01M429.5 194.6h.01M438.8 195.9h.01M431.4 193.5h.01M432.1 195.7h.01M419.3 197.8h.01M435.1 195.7h.01M428 192.9h.01M426.6 196.8h.01M428.2 188.6h.01M430.1 191.1h.01M431.6 194.2h.01M427.4 188.7h.01M429.7 189.8h.01M429.8 194h.01M428.8 193.8h.01M428.1 197.9h.01M422.8 189.3h.01M436.6 191.1h.01M433.8 193.5h.01M431.3 189.7h.01M428.8 192.9h.01M420.6 192.1h.01M429.6 187.1h.01M431.6 192.7h.01M423 195.6h.01M430.6 190.4h.01M426.3 193.7h.01M427.7 195.1h.01M424.6 193.4h.01M432.6 195.4h.01M427.2 190.4h.01M425.2 193h.01M419.7 199.7h.01M428.8 196.7h.01M428.5 197h.01M428.9 196.2h.01M435.2 195.1h.01M424.5 193.8h.01M431.5 192.9h.01M429.2 195.3h.01M420.6 193.5h.01M438.4 192.9h.01M436.5 193.2h.01M429.3 192.4h.01M430.8 191.5h.01M427.9 192.5h.01M426.3 192.7h.01M435.7 192.1h.01M431.8 191.6h.01M425.2 192.7h.01M428.8 196.1h.01M433.8 194.3h.01M427 196.8h.01M424.8 190.5h.01M433.8 195.2h.01M433.6 193.4h.01M433.5 197.3h.01M421.4 193.6h.01M435.5 191.5h.01M426 193.8h.01M433.5 194h.01M422.8 192.9h.01M430.2 192.4h.01M436.3 188.5h.01M431.3 192h.01M433.4 193.1h.01M438.5 195.3h.01M428.8 188.7h.01M429.3 193.2h.01M437.7 195.7h.01M431.8 191.2h.01M431.9 191.1h.01M423.8 193.7h.01M429.1 189.6h.01M435.4 197.7h.01M433.4 189.4h.01M427.1 190.3h.01M430.3 202.9h.01M434.8 193.9h.01M427.2 189.1h.01M427.1 193.5h.01M429.2 194.7h.01M433.5 190.8h.01M434.4 194.2h.01M438.1 194.4h.01M429 193h.01M436.1 195.8h.01M435.6 197.2h.01M431.1 200.1h.01M430.3 192.9h.01M436.3 191.2h.01M431.7 196.5h.01M427.3 187.8h.01M423.5 195.6h.01M442.6 193h.01M425.1 189.2h.01M437.6 196.8h.01M434.1 192.1h.01M434.1 192h.01M433.6 191.9h.01M424.9 191.4h.01M432.5 194.7h.01M427.7 195.6h.01M424 187h.01M433.5 193.6h.01M430.7 192.3h.01M433.1 194.5h.01M437.5 192h.01M424.9 192.3h.01M429.6 192.5h.01M420.5 192.9h.01M438.4 195.8h.01M436.2 196.1h.01M431.8 194.8h.01M435.6 195.6h.01M433.8 193.9h.01M427.1 193.9h.01M428.6 194.8h.01M419.6 196.7h.01M436.3 198.6h.01M433 191h.01M429.4 190.1h.01M432.7 193.9h.01M432.4 188.6h.01M424.7 186.5h.01M437.2 196h.01M431.2 192.6h.01M422.6 191.2h.01M429.2 191h.01M436.4 188.8h.01M431.3 195.9h.01M435.3 190.1h.01M437.6 194.2h.01M429.4 194.3h.01M435.9 194.7h.01M429.2 193.9h.01M431.8 199.4h.01M431.4 191.1h.01M439.3 199.1h.01M438.3 192.1h.01M428.7 189.4h.01M429.8 197.1h.01M435.4 194.4h.01M431.8 195.1h.01M430.7 190.6h.01M426.9 197.6h.01M427 189.8h.01M433.8 193.1h.01M429.3 193.8h.01M431.1 189h.01M435.4 194.9h.01M438.8 197.2h.01M428.4 192h.01M428.6 187h.01M434.8 192.3h.01M435.6 194.8h.01M429.8 197.9h.01M425.8 197.7h.01M428.3 199.2h.01M436.8 193.1h.01M439.3 196.1h.01M432.9 192.8h.01M431 192.4h.01M429.1 195.5h.01M434.4 197.6h.01M436.9 194.3h.01M434.8 193.5h.01M433.6 195.8h.01M433.3 191.8h.01M424.7 197.4h.01M427.6 191.4h.01M433.1 192.9h.01M432.6 197.7h.01M423.7 192.7h.01M434.6 190.3h.01M434 198.2h.01M431.1 195h.01M429.3 196.1h.01M428.7 193.3h.01M428.3 191.2h.01M436.7 194.4h.01M436.1 190h.01M425.9 190.3h.01M439.7 198.2h.01M442 194.1h.01M433.9 195.1h.01M429.7 195.1h.01M430.8 194.9h.01M423.1 189.5h.01M425.7 197.5h.01M435.8 191.7h.01M433.8 192.5h.01M426.2 190.3h.01M445.3 196.2h.01M430.2 197h.01M433 190.9h.01M440.5 201.3h.01M435.3 191.9h.01M430.8 193.9h.01M424.8 200h.01M431.5 192.2h.01M430 192.6h.01M419.1 192.1h.01M436.6 195.1h.01M433.3 193.8h.01M422.6 193.9h.01M434.9 191.4h.01M426 191.2h.01M425.9 185.9h.01M429.5 191.7h.01M431.2 197h.01M427.5 188.8h.01M430.4 195.4h.01M437.6 197.3h.01M431.8 193.9h.01M422.6 194.2h.01M434.9 194h.01M429.6 194.6h.01M433 195.4h.01M433.8 189.8h.01M429.2 188.8h.01M433.8 201.3h.01M427.4 192.7h.01M432.7 191.9h.01M439.1 195.5h.01M440.4 201.5h.01M433.8 192h.01M437.6 193.9h.01M427.4 192.5h.01M436.9 192.3h.01M429.7 195.9h.01M429.4 195.8h.01M437.2 193.2h.01M426 189.6h.01M437 196.1h.01M431.7 192.6h.01M436.4 193.2h.01M444 196.6h.01M423.1 195.3h.01M432.4 193.8h.01M429.8 196.7h.01M428.1 197.5h.01M427.1 195.5h.01M423.6 195.1h.01M426.6 192.3h.01M435 192.1h.01M433.7 194h.01M437 197.1h.01M432.4 193.3h.01M426.2 196.8h.01M430.5 190.1h.01M428.1 187.9h.01M427.2 191.8h.01M431.9 196.3h.01M435.8 189.3h.01M428.6 194.9h.01M432.7 193.8h.01M427 194.9h.01M430.8 192.9h.01M430.6 192.9h.01M432.1 196.8h.01M431.7 191.9h.01M430.6 193.1h.01M433.1 196h.01M438.5 197.3h.01M423.4 190.1h.01M424.9 193.5h.01M442 196.6h.01M427.8 196.9h.01M434.4 191.9h.01M425.9 196.9h.01M435.6 188.5h.01M427.2 194.5h.01M424.6 192.6h.01M427.6 188.4h.01M428.8 191.8h.01M433.1 189.2h.01M432.4 192.8h.01M422.9 195.6h.01M428.7 194.4h.01M438.3 195.9h.01M435.4 194.9h.01M428.2 193.7h.01M423.3 193.7h.01M434.8 195.4h.01M428.3 189.8h.01M427.6 192.3h.01M423.4 197.7h.01M427.1 193.3h.01M428.7 193.6h.01M421.2 189.2h.01M430.9 193.5h.01M433.1 192.5h.01M434.8 194.8h.01M430.8 193.6h.01M436.1 194.3h.01M438.4 195.1h.01M432.2 193.8h.01M432.2 195.1h.01M427.7 195.2h.01M443.1 197h.01M431.9 191.5h.01M427.7 190.8h.01M432.5 191.9h.01M438.8 193.7h.01M427.1 190.5h.01M430.6 193.1h.01M435.7 192.3h.01M432.2 196.4h.01M430.4 188.7h.01M431.7 196.5h.01M432.9 193.9h.01M421 196.5h.01M430.6 190.2h.01M429.3 193.8h.01M431.6 191.2h.01M442 198.8h.01M435.5 196.1h.01M429.6 190.1h.01M424.4 195.5h.01M430.6 198h.01M419.6 195.4h.01M433.4 192.5h.01M435.5 192.5h.01M429.4 194.8h.01M431.6 194.5h.01M431.6 196.5h.01M427.7 187.5h.01M427.6 186.4h.01M440.6 193.3h.01M430.6 194.4h.01M427.4 191.6h.01M432.2 193.8h.01M434.9 193.5h.01M428.4 189.1h.01M422.7 193h.01M432.6 192.7h.01M437.9 187.2h.01M434.5 190.9h.01M429.4 192.7h.01M427.5 192.2h.01M431.3 200.2h.01M430.6 195.5h.01M435.3 191.6h.01M433.4 192.8h.01M435.5 192.7h.01M436.5 192h.01M428.3 195.5h.01M435.5 196.7h.01M440.1 197.8h.01M430.5 196.1h.01M426.6 195.1h.01M432.9 193.5h.01M427 195.9h.01M421.4 191.6h.01M424.3 191.6h.01M429.2 191h.01M427.9 193.9h.01M439.7 199.8h.01M430.2 192.3h.01M434.2 191.8h.01M423.4 195.1h.01M428.3 197.4h.01M433.2 189.9h.01M432.1 195.1h.01M431.8 189.9h.01M422.9 197.5h.01M417.9 188.8h.01M434 199h.01M434.1 194h.01M432.3 196.9h.01M427.9 196.6h.01M432.1 194.3h.01M432.9 194.8h.01M425.8 197.1h.01M428.7 192.5h.01M420.3 187.3h.01M433.7 193.7h.01M430.6 192.5h.01M434.2 192.3h.01M424.5 188.1h.01M427 193.8h.01M437.6 196.2h.01M428.2 189.5h.01M434.7 195.6h.01M430.4 195.2h.01M433.6 195.4h.01M438 190.4h.01M428 191.6h.01M425.3 198.2h.01M432.5 195h.01M434.9 193.5h.01M435.1 193.7h.01M434.3 195.7h.01M437.9 190.5h.01M426.9 190.8h.01M426.8 194h.01M435.7 193.4h.01M435.7 196.8h.01M427.8 194.9h.01M438.1 193.4h.01M420.2 193.4h.01M432.1 195.5h.01M433.5 193.8h.01M431.3 191.4h.01M439.7 199.3h.01M430.7 191.2h.01M432.4 198.3h.01M431.5 191.4h.01M435.4 195h.01M427.3 192.4h.01M432.2 190.7h.01M431.8 197.3h.01M435.5 197.8h.01M434.6 193.9h.01M433.4 197.4h.01M431 195.1h.01M428 193.2h.01M429.1 190.3h.01M432 199.9h.01M423.1 191h.01M432.3 191.8h.01M431.4 196.1h.01M423.3 192.1h.01M433.6 195.6h.01M439.7 195.6h.01M437.2 193h.01M426.9 191.5h.01M428.5 195.7h.01M434.6 194.3h.01M426.7 193.4h.01M429.2 192.3h.01M422.1 196.6h.01M432.5 202.2h.01M443.8 195.8h.01M441.8 194.2h.01M444.4 195.6h.01M422.2 192.2h.01M434.1 198.9h.01M435 199.2h.01M432.6 189.7h.01M432.2 191.4h.01M436 188.5h.01M426.9 189.7h.01M431.1 196.6h.01M430.2 189.9h.01M428.7 192.9h.01M436.6 194.9h.01M438.9 187h.01M438.6 201h.01M427.4 200.7h.01M423.2 195.1h.01M425.1 191h.01M433.4 194.7h.01M432.6 193.4h.01M422.9 187.8h.01M427.4 190.3h.01M429.6 188.6h.01M430.3 194.9h.01M428.1 197h.01M431.7 196.4h.01M426.7 193.6h.01M425.1 187.4h.01M422.8 191.2h.01M431.3 199.7h.01M432.7 192.9h.01M436.1 194.8h.01M431.1 194h.01M435.1 198.8h.01M424.2 192.9h.01M428.8 193.4h.01M442.6 194.8h.01M418.8 194.2h.01M429.2 190.8h.01M440.9 200.9h.01M435.9 195.2h.01M426.9 197.1h.01M429.8 194.1h.01M430.1 194h.01M422 188.8h.01M425.8 186.7h.01M425.7 191.4h.01M430.2 193.3h.01M428.5 196.2h.01M421.3 190.6h.01M430.3 191.1h.01M437.8 194.4h.01M436.1 196h.01M429.3 196.2h.01M424.5 189.2h.01M430.2 186.8h.01M429.1 192.8h.01M423.1 189.5h.01M423.7 199.2h.01M436.9 196.3h.01M431.5 197.5h.01M431 197.2h.01M434.4 200.2h.01M436.4 192.9h.01M433.5 197.2h.01M433.3 200.2h.01M432.7 192.7h.01M434.8 197.5h.01M430.8 195.1h.01M431.6 194.5h.01M433 192.8h.01M434.5 195.2h.01M439.3 195.8h.01M432.2 190.4h.01M442.1 194.8h.01M428.7 192.5h.01M431.1 193.4h.01M439.5 193.6h.01M430.2 192.3h.01M434.7 189.6h.01M436.1 193.4h.01M423.5 196.6h.01M424.4 194.6h.01M431.5 191.8h.01M423.4 190.4h.01M434.8 194h.01M427.9 195.9h.01M431.2 193.9h.01M427.5 189.2h.01M428.7 194.1h.01M428.9 194.2h.01M429.9 192.8h.01M430.7 194.6h.01M420.3 191.9h.01M430.3 192.3h.01M435.3 197.6h.01M436.3 196.5h.01M433.2 194.3h.01M435 192.4h.01M430.3 194.4h.01M430.9 190.1h.01M430.8 192.4h.01M427.7 194.8h.01M436.2 194.7h.01M425.6 192.3h.01M430.6 190.6h.01M428.1 193.5h.01M428 194.4h.01M424.4 194.4h.01M427.6 193.4h.01M431.4 192.2h.01M436.9 189.5h.01M431.7 195.5h.01M429.9 193.2h.01M425.5 192.6h.01M432.1 192.1h.01M431.3 192.6h.01M426.1 192.6h.01M426.9 195.4h.01M426.6 196.8h.01M430.9 193.5h.01M427.3 194.2h.01M426.7 188.6h.01M434 188.2h.01M436.8 193h.01M438.6 195.4h.01M439.6 190.8h.01M428.8 193.9h.01M428.3 193.3h.01M430 195.2h.01M438.9 188.8h.01M434.6 190.9h.01M439.6 190.8h.01M426.7 194.3h.01M429.9 195.3h.01M433.2 191.7h.01M422.6 195.4h.01M430 193.1h.01M429.6 192.6h.01M427.5 193.1h.01M432.8 190.4h.01M423.1 193.8h.01M435.5 192.7h.01M430.4 192.1h.01M433 193.7h.01M428.7 191h.01M433 194.9h.01M428.7 194.3h.01M432.8 188.2h.01M428.1 193.7h.01M437 195.6h.01M424.6 195h.01M429.3 195.6h.01M424.9 188h.01M423 193.9h.01M436.7 195.1h.01M431.9 193.4h.01M432.4 190.9h.01M436.7 196.7h.01M435.8 194.1h.01M434.7 196.8h.01M442.9 198.4h.01M427.7 190.8h.01M435.1 195.6h.01M433.7 194.1h.01M427 193.3h.01M423.8 193.2h.01M441.9 197.3h.01M427.2 190.5h.01M442.6 197.2h.01M428.3 194.7h.01M429.9 190.4h.01M431.5 195h.01M437.9 191.2h.01M438.4 194h.01M420.9 194.7h.01M435.7 195.8h.01M435.5 191.8h.01M434.3 189.5h.01M426.7 199.9h.01M439 195.9h.01M433.5 194.2h.01M434.1 194.6h.01M426.6 191.9h.01M422 189.7h.01M430.1 194.4h.01M442.8 190.9h.01M441.6 194h.01M429 193h.01M442.3 192.3h.01M429 194.7h.01M435.6 195.4h.01M431.2 196.3h.01M425.6 197h.01M428.5 194.2h.01M426.8 191.2h.01M435.7 195.9h.01M429.8 195.6h.01M448 189.5h.01M420.8 192.5h.01M422.2 195h.01M427 192.9h.01M426.1 198.5h.01M439.4 190.2h.01M434.5 193.3h.01M438.2 195.6h.01M427.6 191.8h.01M430.6 198.2h.01M431.8 192.2h.01M428.8 195.5h.01M428.8 198.1h.01M435.4 194.7h.01M431.8 192.8h.01M418.9 194.9h.01M438.7 194.2h.01M433.1 190.1h.01M430 193.9h.01M430.7 193.7h.01M435.7 196.3h.01M435.2 192.6h.01M428.6 193.2h.01M423.8 188.4h.01M432.7 193.9h.01M431 196.9h.01M420.3 193h.01M430.5 189.9h.01M433.8 197.9h.01M423.7 192.5h.01M435.9 194.5h.01M428.4 195.9h.01M422.6 192.1h.01M427.9 192.9h.01M424.8 193.1h.01M437 195.8h.01M424.9 191.2h.01M428 189h.01M434.5 195.5h.01M429.6 197.4h.01M434.9 192.6h.01M431.4 193.2h.01M430.5 197.1h.01M437.8 192h.01M441.5 190.8h.01M428.7 200h.01M434 197.3h.01M431.6 195.1h.01M427.2 197.1h.01M430.3 192h.01M422.8 198.4h.01M424.2 189.7h.01M433.5 194.1h.01M439.4 196.7h.01M433.1 191.8h.01M434.4 190.2h.01M426.8 196.8h.01M433 190.7h.01M428 192.8h.01M432.6 194.4h.01M436.4 186.2h.01M435.5 189.1h.01M428.8 193.6h.01M436.6 192.8h.01M424.9 190.3h.01M431.4 200.3h.01M425.2 191.3h.01M427.1 196.1h.01M434 193.6h.01M432 198.1h.01M430.2 190.4h.01M431.8 190.3h.01M431.9 196.2h.01M428.9 195.9h.01M436.3 199.6h.01M429.1 194.9h.01M434.8 196.5h.01M435.6 195.7h.01M434.2 196.7h.01M433.3 195.6h.01M432.6 193.7h.01M422.2 192h.01M431.6 192.2h.01M428.4 196.7h.01M430.8 187.4h.01M428.6 192.9h.01M437.1 195.5h.01M434 192.6h.01M429 188.9h.01M434.3 194.2h.01M427.6 193.3h.01M436.2 197.1h.01M434.6 197.4h.01M432.4 193.9h.01M430.9 195h.01M422.6 193.1h.01M431.7 191.3h.01M427.9 196.4h.01M429.3 193.1h.01M438.9 192.2h.01M431.1 192.5h.01M428.7 192.8h.01M434 193.4h.01M435.5 196.4h.01M425.8 193h.01M430.8 190.1h.01M422 195h.01M432.1 197.2h.01M438.5 197h.01M432.4 197.4h.01M430.7 192.5h.01M435.7 196.2h.01M428.8 192.2h.01M424 198.3h.01M429.5 192.1h.01M428.4 191.8h.01M431.7 193.9h.01M436.1 187.6h.01M431.1 198.3h.01M431.6 192.1h.01M441.2 193.8h.01M434.4 194.8h.01M430.9 190.9h.01M431.8 194.3h.01M440.7 191h.01M423.3 194h.01M425 184.9h.01M429 196.5h.01M422.8 188.2h.01M438.8 192.5h.01M426.9 192.5h.01M439.1 194.4h.01M435 193.8h.01M425.8 193.5h.01M421.8 195h.01M423.2 192.8h.01M420.7 191.7h.01M433.4 192h.01M440.7 195.2h.01M433.9 190h.01M428.6 193.9h.01M434.5 195.8h.01M424.9 188.6h.01M425.2 195.8h.01M423 189h.01M431.7 193.6h.01M463.4 189.7h.01M469.5 189.8h.01M463.4 196.5h.01M469 194.8h.01M471.9 197.2h.01M465.8 191.7h.01M468.7 191.9h.01M468.2 196.7h.01M468.2 188.3h.01M472.7 193.2h.01M468.4 187.5h.01M467.2 188.8h.01M472.5 191.7h.01M462.8 193h.01M464.3 193.7h.01M464.2 187.2h.01M466.7 192.3h.01M464.7 195.9h.01M470.1 193.1h.01M467 194.8h.01M470.3 194.1h.01M463.6 195.8h.01M475.1 195.8h.01M468.4 191.4h.01M462.3 195.3h.01M469.2 195.1h.01M467.8 198.1h.01M466.9 186.6h.01M466.8 194.1h.01M469.9 195.5h.01M469.6 195.1h.01M468.3 189.2h.01M466.3 197.1h.01M472.7 183.8h.01M466.8 191.9h.01M470.1 186.3h.01M465.5 194.1h.01M464.7 187.1h.01M473.4 192.5h.01M467.5 195.7h.01M473.5 190.9h.01M466.8 192.2h.01M470.4 196.9h.01M472.5 191.8h.01M463.3 191.1h.01M461 194.7h.01M460.5 195h.01M463.8 195h.01M472.1 193h.01M466.8 193.6h.01M465.2 194.7h.01M466.5 194h.01M464.6 195.4h.01M468.4 190.3h.01M467 188.4h.01M462.6 189.4h.01M468.6 192h.01M467.1 194.4h.01M466.3 192.8h.01M465.4 201.3h.01M464.6 195.7h.01M466.5 200h.01M463.5 193.1h.01M468.5 191.7h.01M474.3 194.4h.01M468.6 187.3h.01M468.6 189h.01M469.1 194.8h.01M466.9 191.4h.01M464.6 191.1h.01M472.3 190.5h.01M466.3 194.9h.01M462.8 191.9h.01M471 194.3h.01M469.1 196h.01M467.2 184.8h.01M469.8 195.5h.01M459.5 192.7h.01M471.9 189.2h.01M470.4 198.7h.01M466.9 192.4h.01M463.9 195.8h.01M468 195.5h.01M467.1 193.6h.01M465.3 197.3h.01M466.8 198h.01M470.2 190.7h.01M463.6 197.2h.01M468.6 192.1h.01M470.7 186.1h.01M469.1 192.1h.01M469.7 191.3h.01M465.7 195.9h.01M468.5 188.2h.01M469 196h.01M461.8 190h.01M463.5 189.9h.01M465 200.3h.01M464 190h.01M466.4 198.2h.01M465.9 196.9h.01M470.6 191.9h.01M468.5 197h.01M468 199.3h.01M468.5 199.2h.01M464 194.3h.01M459.4 188.3h.01M465.4 192h.01M466.5 195.3h.01M462.5 187.2h.01M469.7 194.5h.01M470.3 196.5h.01M468.3 191.5h.01M468.9 190h.01M462.9 192.2h.01M474.6 189.9h.01M471.6 192.8h.01M472.9 191.6h.01M463.4 191.1h.01M466.6 195.5h.01M464.9 194.2h.01M475 193.5h.01M469.4 203h.01M464.7 193.4h.01M466.1 194.4h.01M464.6 192.3h.01M469.6 193.4h.01M460.9 197.6h.01M468.5 200.4h.01M464.5 194.7h.01M464.2 196.3h.01M465.4 198.1h.01M467.6 185.5h.01M463.5 195.8h.01M469.7 197.1h.01M468.9 191.7h.01M467.6 193.6h.01M467.3 197.1h.01M464.2 192.3h.01M471.5 192.9h.01M469 191.5h.01M467.4 198.1h.01M472.5 193.6h.01M465.1 198.9h.01M461 192.7h.01M469.6 202h.01M470.7 192.9h.01M467 193.2h.01M464.1 191.9h.01M468.3 187.2h.01M464.6 182.6h.01M470.3 193.8h.01M461.8 188h.01M464.9 199.4h.01M468.8 189.3h.01M465.5 187.4h.01M464.1 187.1h.01M473.1 196h.01M471.5 195.1h.01M464.7 197h.01M468.8 190.8h.01M461.8 193.3h.01M463.2 192.3h.01M460.5 186.7h.01M470.4 195.4h.01M467.7 192.4h.01M467.8 189.9h.01M469.7 199.2h.01M465.2 187.7h.01M467.2 187.1h.01M473.7 193h.01M468.6 194h.01M465.5 190.6h.01M463.6 200.7h.01M467.4 197.3h.01M472.1 192.3h.01M465.5 191.9h.01M468.4 189.7h.01M470.4 192.5h.01M464.7 195.9h.01M471.9 190.1h.01M466.6 192.7h.01M468.9 196.3h.01M466.8 190h.01M465.2 196.6h.01M473.3 194h.01M464.5 202.6h.01M471 190.7h.01M463 190h.01M477 198h.01M463.9 190.5h.01M466 188.6h.01M469.1 189.3h.01M466.4 195.5h.01M466.4 197h.01M465.5 197.7h.01M465 191.2h.01M462.3 194.6h.01M469.5 193.4h.01M472 195.7h.01M468.4 187.2h.01M466.6 194.7h.01M463.2 198.8h.01M468.3 198.9h.01M463.1 200h.01M471.8 193.9h.01M466 199.3h.01M463.9 192.5h.01M470.9 193h.01M464.5 189.1h.01M465.6 198h.01M476.3 189.7h.01M463.1 195.7h.01M466.6 191.8h.01M466.7 198.3h.01M469.8 190.5h.01M468.9 188.8h.01M470.9 185.8h.01M465.7 196.7h.01M472.9 195.3h.01M460.6 192.6h.01M470.3 195.7h.01M468.5 191.2h.01M460.8 191.6h.01M467.7 190.9h.01M464.3 194.8h.01M466.1 194h.01M470.8 190.7h.01M470.5 189.1h.01M470.1 194.8h.01M468.9 196h.01M467.9 186.9h.01M472.8 194.2h.01M467.9 193.5h.01M468.5 192.5h.01M462.7 188.9h.01M473.1 195.6h.01M463.6 199.3h.01M468.2 189.2h.01M464.6 190.9h.01M471 196.2h.01M466.4 192.4h.01M464.8 193.8h.01M463.7 196.6h.01M466.9 196.9h.01M472.4 194.5h.01M470.1 181.9h.01M464.1 194.3h.01M464.3 197.4h.01M466.1 192.7h.01M460.2 195.9h.01M465.5 198.2h.01M468.9 193.1h.01M470.1 192.3h.01M464.5 193.2h.01M466.4 197.4h.01M464.9 189.3h.01M471.7 196.7h.01M466 193.8h.01M461.8 199.6h.01M465.4 185.2h.01M466.8 195.2h.01M469.4 194.3h.01M468 192.7h.01M467 192.5h.01M475.6 193.6h.01M467.7 185.6h.01M467.1 195.5h.01M469.6 187.5h.01M467 199.3h.01M466.6 192.6h.01M469.2 193h.01M465.4 190.9h.01M461.5 194h.01M469.1 195.6h.01M464.7 194.9h.01M463.7 187.2h.01M469.4 188.6h.01M462.6 192.1h.01M466.1 199.2h.01M470.7 201.2h.01M467.8 187.2h.01M462.9 194.4h.01M462.6 195h.01M470.7 195.6h.01M461.6 197.6h.01M473 197.2h.01M475.2 190.3h.01M466.8 196.6h.01M470.6 199h.01M466.7 190.8h.01M466.6 190.6h.01M467.5 192.1h.01M469.8 190.7h.01M470.3 190.4h.01M471.3 197.9h.01M467.2 192.5h.01M468.4 195h.01M463.8 196h.01M461 188.9h.01M463 131.1h.01M466.5 126.6h.01M466.4 127.6h.01M462.3 131.3h.01M469.8 123.4h.01M465.9 128.2h.01M469.6 123.7h.01M467.2 124.8h.01M466.4 127.2h.01M463.7 130h.01M463.7 130.1h.01M469.2 124.6h.01M465.5 128h.01M463.6 129.5h.01M466.6 127.2h.01M467.2 126.7h.01" stroke="#6e6e6e" stroke-width="0.62" stroke-linecap="square" fill="none"/>
<path d="M416.5 114.5H513V204.5" stroke="#8c8c8c" stroke-width="1" fill="none"/>
<path d="M416.5 114V204.5H513.5" stroke="#7e7e7e" stroke-width="1.05" fill="none"/>
<path d="M416.5 197.7h-2.5M416.5 193.8h-2.5M416.5 191h-2.5M416.5 188.8h-2.5M416.5 187h-2.5M416.5 185.5h-2.5M416.5 184.2h-2.5M416.5 183h-2.5M416.5 182h-3.9M416.5 175.2h-2.5M416.5 171.3h-2.5M416.5 168.5h-2.5M416.5 166.3h-2.5M416.5 164.5h-2.5M416.5 163h-2.5M416.5 161.7h-2.5M416.5 160.5h-2.5M416.5 159.5h-3.9M416.5 152.7h-2.5M416.5 148.8h-2.5M416.5 146h-2.5M416.5 143.8h-2.5M416.5 142h-2.5M416.5 140.5h-2.5M416.5 139.2h-2.5M416.5 138h-2.5M416.5 137h-3.9M416.5 130.2h-2.5M416.5 126.3h-2.5M416.5 123.5h-2.5M416.5 121.3h-2.5M416.5 119.5h-2.5M416.5 118h-2.5M416.5 116.7h-2.5M416.5 115.5h-2.5M416.5 114.5h-3.9M423.8 204.5v1.9M428 204.5v1.9M431 204.5v1.9M433.4 204.5v1.9M435.3 204.5v1.9M436.9 204.5v1.9M438.3 204.5v1.9M439.5 204.5v1.9M440.6 204.5v3.4M447.9 204.5v1.9M452.1 204.5v1.9M455.1 204.5v1.9M457.5 204.5v1.9M459.4 204.5v1.9M461 204.5v1.9M462.4 204.5v1.9M463.6 204.5v1.9M464.8 204.5v3.4M472 204.5v1.9M476.3 204.5v1.9M479.3 204.5v1.9M481.6 204.5v1.9M483.5 204.5v1.9M485.1 204.5v1.9M486.5 204.5v1.9M487.8 204.5v1.9M488.9 204.5v3.4M496.1 204.5v1.9M500.4 204.5v1.9M503.4 204.5v1.9M505.7 204.5v1.9M507.6 204.5v1.9M509.3 204.5v1.9M510.7 204.5v1.9M511.9 204.5v1.9M513 204.5v3.4" stroke="#8e8e8e" stroke-width=".75" fill="none"/>
<path d="M452.5 114.5V204.5M416.5 171.5H513" stroke="#3e3e3e" stroke-width="1.2" fill="none"/>
<text x="511.1" y="122.3" text-anchor="end" class="pc">2.2%</text>
<text x="511.1" y="179.1" text-anchor="end" class="pc">20.0%</text>
<text x="66.2" y="82.5" text-anchor="end" class="tk">10<tspan dy="-2.6" font-size="4.3">0</tspan></text>
<text x="66.2" y="60" text-anchor="end" class="tk">10<tspan dy="-2.6" font-size="4.3">1</tspan></text>
<text x="66.2" y="37.5" text-anchor="end" class="tk">10<tspan dy="-2.6" font-size="4.3">2</tspan></text>
<text x="66.2" y="14.9" text-anchor="end" class="tk">10<tspan dy="-2.6" font-size="4.3">3</tspan></text>
<text x="66.2" y="184.4" text-anchor="end" class="tk">10<tspan dy="-2.6" font-size="4.3">0</tspan></text>
<text x="66.2" y="161.9" text-anchor="end" class="tk">10<tspan dy="-2.6" font-size="4.3">1</tspan></text>
<text x="66.2" y="139.4" text-anchor="end" class="tk">10<tspan dy="-2.6" font-size="4.3">2</tspan></text>
<text x="66.2" y="117" text-anchor="end" class="tk">10<tspan dy="-2.6" font-size="4.3">3</tspan></text>
<text x="94.7" y="214.2" text-anchor="middle" class="tk">10<tspan dy="-2.6" font-size="4.3">0</tspan></text>
<text x="118.8" y="214.2" text-anchor="middle" class="tk">10<tspan dy="-2.6" font-size="4.3">1</tspan></text>
<text x="143" y="214.2" text-anchor="middle" class="tk">10<tspan dy="-2.6" font-size="4.3">2</tspan></text>
<text x="167.1" y="214.2" text-anchor="middle" class="tk">10<tspan dy="-2.6" font-size="4.3">3</tspan></text>
<text x="210.2" y="214.2" text-anchor="middle" class="tk">10<tspan dy="-2.6" font-size="4.3">0</tspan></text>
<text x="234.3" y="214.2" text-anchor="middle" class="tk">10<tspan dy="-2.6" font-size="4.3">1</tspan></text>
<text x="258.5" y="214.2" text-anchor="middle" class="tk">10<tspan dy="-2.6" font-size="4.3">2</tspan></text>
<text x="282.6" y="214.2" text-anchor="middle" class="tk">10<tspan dy="-2.6" font-size="4.3">3</tspan></text>
<text x="325.7" y="214.2" text-anchor="middle" class="tk">10<tspan dy="-2.6" font-size="4.3">0</tspan></text>
<text x="349.9" y="214.2" text-anchor="middle" class="tk">10<tspan dy="-2.6" font-size="4.3">1</tspan></text>
<text x="374" y="214.2" text-anchor="middle" class="tk">10<tspan dy="-2.6" font-size="4.3">2</tspan></text>
<text x="398.1" y="214.2" text-anchor="middle" class="tk">10<tspan dy="-2.6" font-size="4.3">3</tspan></text>
<text x="441.2" y="214.2" text-anchor="middle" class="tk">10<tspan dy="-2.6" font-size="4.3">0</tspan></text>
<text x="465.4" y="214.2" text-anchor="middle" class="tk">10<tspan dy="-2.6" font-size="4.3">1</tspan></text>
<text x="489.5" y="214.2" text-anchor="middle" class="tk">10<tspan dy="-2.6" font-size="4.3">2</tspan></text>
<text x="513.6" y="214.2" text-anchor="middle" class="tk">10<tspan dy="-2.6" font-size="4.3">3</tspan></text>
<path d="M53.9 244.6V349.59999999999997" stroke="#000" stroke-width="1.4" fill="none"/>
<path d="M53.199999999999996 348.9H312" stroke="#000" stroke-width="1.55" fill="none"/>
<path d="M53.9 348.9H50.7" stroke="#000" stroke-width="1.5" fill="none"/>
<text x="50.2" y="351.8" text-anchor="end" class="t" style="font-size:8.1px">0</text>
<path d="M53.9 322.9H50.7" stroke="#000" stroke-width="1.5" fill="none"/>
<text x="50.2" y="325.9" text-anchor="end" class="t" style="font-size:8.1px">5</text>
<path d="M53.9 297H50.7" stroke="#000" stroke-width="1.5" fill="none"/>
<text x="50.2" y="299.9" text-anchor="end" class="t" style="font-size:8.1px">10</text>
<path d="M53.9 271H50.7" stroke="#000" stroke-width="1.5" fill="none"/>
<text x="50.2" y="274" text-anchor="end" class="t" style="font-size:8.1px">15</text>
<path d="M53.9 245.1H50.7" stroke="#000" stroke-width="1.5" fill="none"/>
<text x="50.2" y="248" text-anchor="end" class="t" style="font-size:8.1px">20</text>
<text transform="translate(35.9 297.5) rotate(-90)" text-anchor="middle" class="t">% Cells</text>
<rect x="68.5" y="248.4" width="16" height="6" fill="#959595" stroke="#000" stroke-width="1.4"/>
<text x="86.7" y="254.6" class="lg">Dead</text>
<rect x="68.5" y="260.9" width="16" height="6" fill="url(#hat)" stroke="#000" stroke-width="1.4"/>
<text x="86.7" y="267.1" class="lg">Apoptotic</text>
<path d="M75.2 343.7V342.9M69.8 342.9H80.8" stroke="#000" stroke-width="1.1" fill="none"/>
<rect x="64.5" y="343.7" width="21.5" height="3.6" fill="#8e8e8e" stroke="#000" stroke-width="1.45"/>
<rect x="64.5" y="347.3" width="21.5" height="1.6" fill="url(#hat)" stroke="#000" stroke-width="1.45"/>
<path d="M96.8 336.5V334.4M91.2 334.4H102.2" stroke="#000" stroke-width="1.1" fill="none"/>
<rect x="86" y="336.5" width="21.5" height="7.2" fill="#8e8e8e" stroke="#000" stroke-width="1.45"/>
<rect x="86" y="343.7" width="21.5" height="5.2" fill="url(#hat)" stroke="#000" stroke-width="1.45"/>
<path d="M139.3 344V343.2M133.8 343.2H144.8" stroke="#000" stroke-width="1.1" fill="none"/>
<rect x="128.6" y="344" width="21.5" height="3.3" fill="#8e8e8e" stroke="#000" stroke-width="1.45"/>
<rect x="128.6" y="347.2" width="21.5" height="1.7" fill="url(#hat)" stroke="#000" stroke-width="1.45"/>
<path d="M160.8 327.9V325.8M155.3 325.8H166.3" stroke="#000" stroke-width="1.1" fill="none"/>
<rect x="150.1" y="327.9" width="21.5" height="6" fill="#8e8e8e" stroke="#000" stroke-width="1.45"/>
<rect x="150.1" y="333.8" width="21.5" height="15.1" fill="url(#hat)" stroke="#000" stroke-width="1.45"/>
<rect x="157.7" y="334.6" width="6.4" height="5.5" fill="#fff"/>
<rect x="155.7" y="338" width="10.4" height="2.6" fill="#fff"/>
<path d="M160.8 333.8V339.6M156 339.6H165.7" stroke="#000" stroke-width="1.2" fill="none"/>
<path d="M203.4 344V342.7M197.9 342.7H208.9" stroke="#000" stroke-width="1.1" fill="none"/>
<rect x="192.7" y="344" width="21.5" height="1.8" fill="#8e8e8e" stroke="#000" stroke-width="1.45"/>
<rect x="192.7" y="345.8" width="21.5" height="3.1" fill="url(#hat)" stroke="#000" stroke-width="1.45"/>
<path d="M224.9 305.8V303.2M219.4 303.2H230.4" stroke="#000" stroke-width="1.1" fill="none"/>
<rect x="214.2" y="305.8" width="21.5" height="4.7" fill="#8e8e8e" stroke="#000" stroke-width="1.45"/>
<rect x="214.2" y="310.5" width="21.5" height="38.4" fill="url(#hat)" stroke="#000" stroke-width="1.45"/>
<rect x="221.8" y="311.3" width="6.4" height="9.1" fill="#fff"/>
<rect x="219.8" y="318.2" width="10.4" height="2.6" fill="#fff"/>
<path d="M224.9 310.5V319.8M220.1 319.8H229.8" stroke="#000" stroke-width="1.2" fill="none"/>
<path d="M267.6 342.2V341.1M262.1 341.1H273.1" stroke="#000" stroke-width="1.1" fill="none"/>
<rect x="256.8" y="342.2" width="21.5" height="3.1" fill="#8e8e8e" stroke="#000" stroke-width="1.45"/>
<rect x="256.8" y="345.3" width="21.5" height="3.6" fill="url(#hat)" stroke="#000" stroke-width="1.45"/>
<path d="M289.1 287.1V284.3M283.6 284.3H294.6" stroke="#000" stroke-width="1.1" fill="none"/>
<rect x="278.3" y="287.1" width="21.5" height="6.7" fill="#8e8e8e" stroke="#000" stroke-width="1.45"/>
<rect x="278.3" y="293.9" width="21.5" height="55" fill="url(#hat)" stroke="#000" stroke-width="1.45"/>
<rect x="285.9" y="294.7" width="6.4" height="12.3" fill="#fff"/>
<rect x="283.9" y="304.7" width="10.4" height="2.6" fill="#fff"/>
<path d="M289.1 293.9V306.3M284.2 306.3H293.9" stroke="#000" stroke-width="1.2" fill="none"/>
<path d="M53.199999999999996 348.9H312" stroke="#000" stroke-width="1.55" fill="none"/>
<text x="225.2" y="293.6" text-anchor="middle" style="font-size:17px">*</text>
<text x="289.2" y="276.6" text-anchor="middle" style="font-size:17px">**</text>
<text transform="translate(78.2 359.1) rotate(-45)" text-anchor="end" class="xl">697 WT Untreated</text>
<text transform="translate(99.7 359.1) rotate(-45)" text-anchor="end" class="xl">697 WT 24h Starve</text>
<text transform="translate(142.2 359.1) rotate(-45)" text-anchor="end" class="xl">697shControl Untreated</text>
<text transform="translate(163.8 359.1) rotate(-45)" text-anchor="end" class="xl">697shControl 24h Starve</text>
<text transform="translate(206.3 359.1) rotate(-45)" text-anchor="end" class="xl">697shMer1A Untreated</text>
<text transform="translate(227.8 359.1) rotate(-45)" text-anchor="end" class="xl">697shMer1A 24h Starve</text>
<text transform="translate(270.4 359.1) rotate(-45)" text-anchor="end" class="xl">697shMer1B Untreated</text>
<text transform="translate(291.9 359.1) rotate(-45)" text-anchor="end" class="xl">697shMer1B 24h Starve</text>
</svg></body></html>
